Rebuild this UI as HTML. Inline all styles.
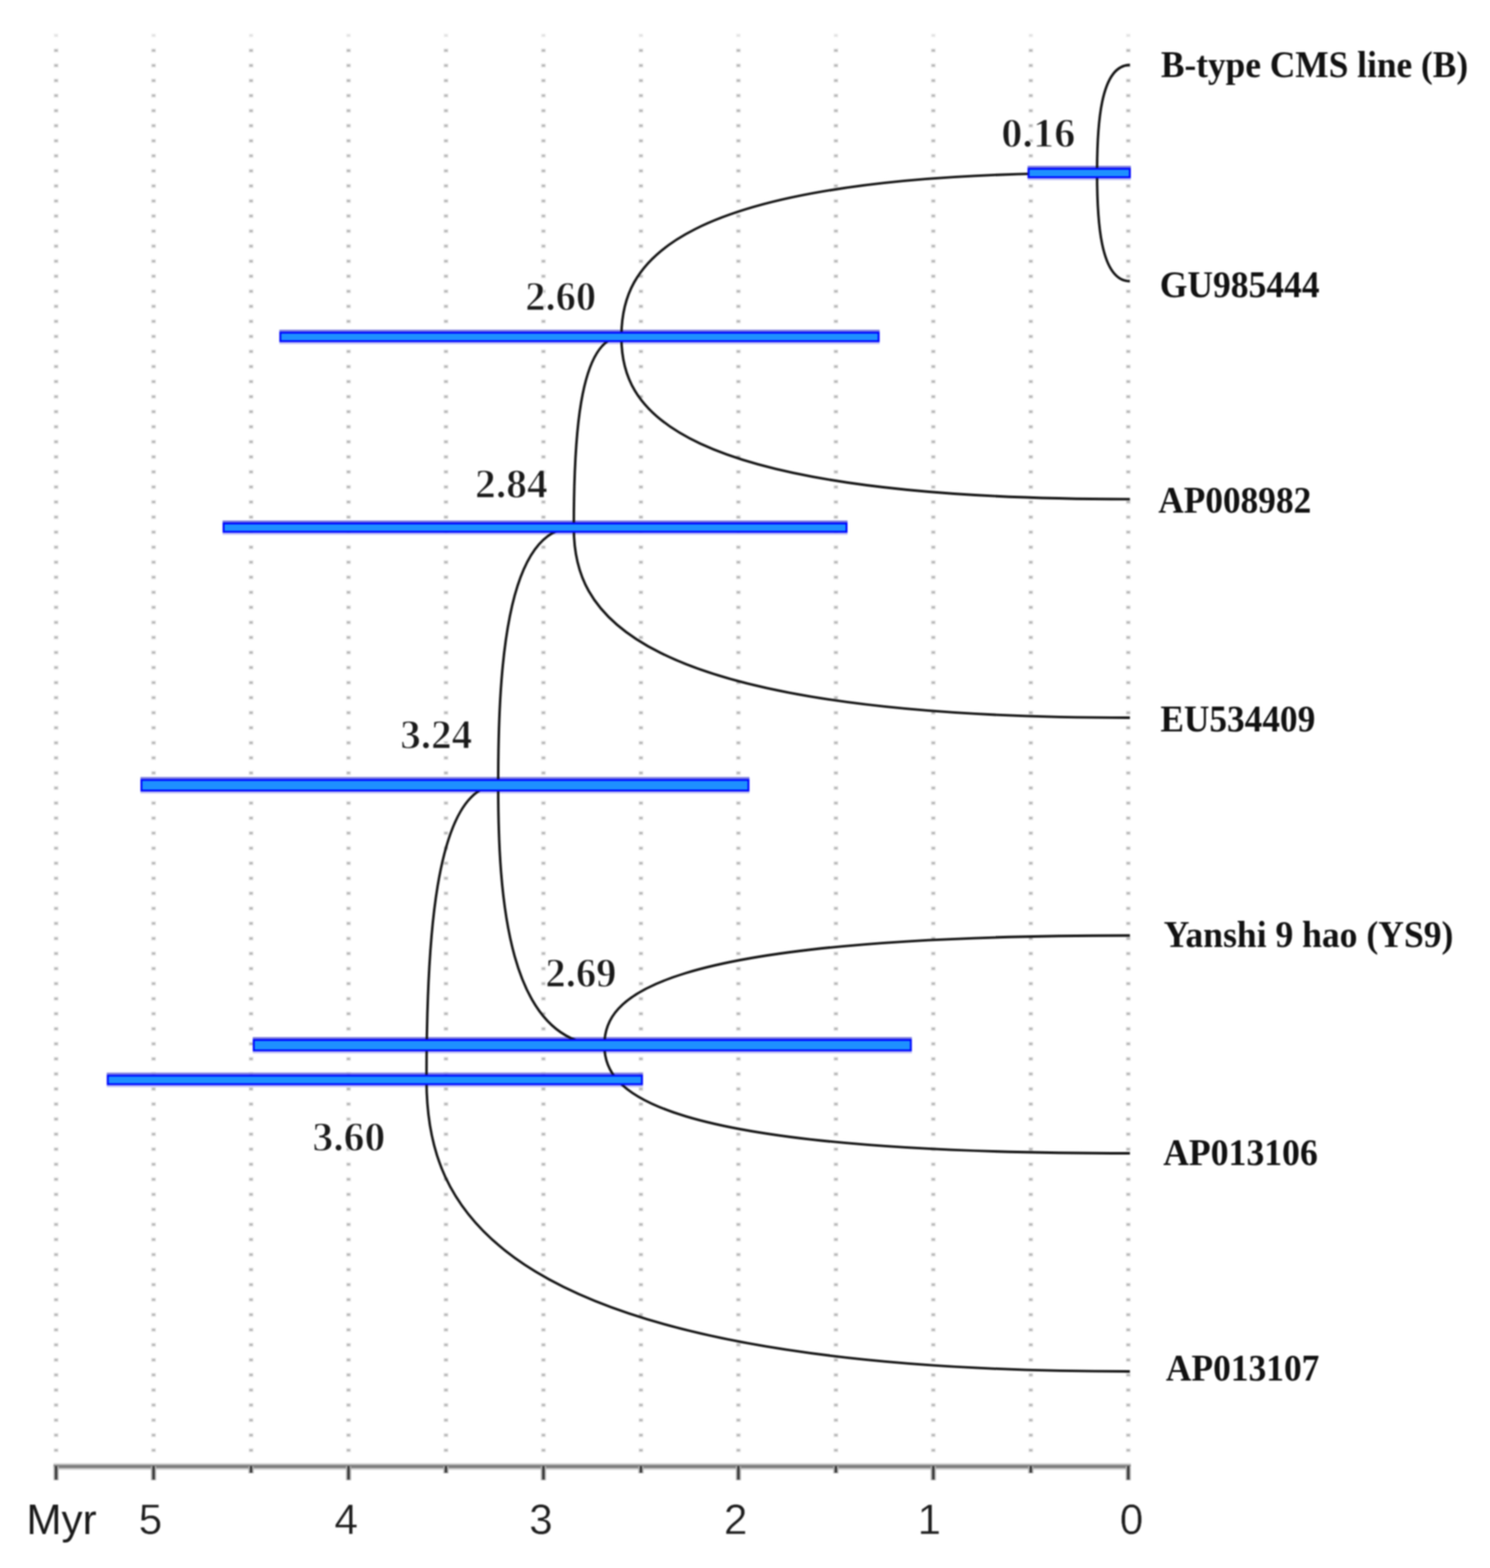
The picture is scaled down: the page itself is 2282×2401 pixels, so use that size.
<!DOCTYPE html>
<html><head><meta charset="utf-8"><title>Divergence time tree</title>
<style>
html,body{margin:0;padding:0;background:#fff;}
body{width:2282px;height:2401px;overflow:hidden;}
svg{display:block;}
#wrap{filter:blur(1px);}
.tip{font-family:"Liberation Serif",serif;font-weight:bold;font-size:58px;fill:#111;}
.age{font-family:"Liberation Serif",serif;font-weight:bold;font-size:64px;fill:#1a1a1a;stroke:#fff;stroke-width:1.4px;}
.ax{font-family:"Liberation Sans",sans-serif;font-size:64.5px;fill:#1e1e1e;stroke:#fff;stroke-width:0.5px;}
#x0{stroke:none;fill:#1a1a1a;}
</style></head><body>
<div id="wrap"><svg width="2282" height="2401" viewBox="0 0 2282 2401">
<rect width="2282" height="2401" fill="#fff"/>

<g>
<rect x="1724.2" y="50.9" width="7.6" height="6.8" fill="#eeeeee" opacity="0.35"/><rect x="1725.4" y="52.6" width="5.2" height="3.4" fill="#b6b6b6" opacity="0.35"/>
<rect x="1724.2" y="73.9" width="7.6" height="6.8" fill="#eeeeee"/><rect x="1725.4" y="75.6" width="5.2" height="3.4" fill="#b6b6b6"/>
<rect x="1724.2" y="96.9" width="7.6" height="6.8" fill="#eeeeee"/><rect x="1725.4" y="98.6" width="5.2" height="3.4" fill="#b6b6b6"/>
<rect x="1724.2" y="120.0" width="7.6" height="6.8" fill="#eeeeee"/><rect x="1725.4" y="121.7" width="5.2" height="3.4" fill="#b6b6b6"/>
<rect x="1724.2" y="143.0" width="7.6" height="6.8" fill="#eeeeee"/><rect x="1725.4" y="144.7" width="5.2" height="3.4" fill="#b6b6b6"/>
<rect x="1724.2" y="166.1" width="7.6" height="6.8" fill="#eeeeee"/><rect x="1725.4" y="167.8" width="5.2" height="3.4" fill="#b6b6b6"/>
<rect x="1724.2" y="189.1" width="7.6" height="6.8" fill="#eeeeee"/><rect x="1725.4" y="190.8" width="5.2" height="3.4" fill="#b6b6b6"/>
<rect x="1724.2" y="212.2" width="7.6" height="6.8" fill="#eeeeee"/><rect x="1725.4" y="213.9" width="5.2" height="3.4" fill="#b6b6b6"/>
<rect x="1724.2" y="235.2" width="7.6" height="6.8" fill="#eeeeee"/><rect x="1725.4" y="236.9" width="5.2" height="3.4" fill="#b6b6b6"/>
<rect x="1724.2" y="258.3" width="7.6" height="6.8" fill="#eeeeee"/><rect x="1725.4" y="260.0" width="5.2" height="3.4" fill="#b6b6b6"/>
<rect x="1724.2" y="281.3" width="7.6" height="6.8" fill="#eeeeee"/><rect x="1725.4" y="283.0" width="5.2" height="3.4" fill="#b6b6b6"/>
<rect x="1724.2" y="304.4" width="7.6" height="6.8" fill="#eeeeee"/><rect x="1725.4" y="306.1" width="5.2" height="3.4" fill="#b6b6b6"/>
<rect x="1724.2" y="327.4" width="7.6" height="6.8" fill="#eeeeee"/><rect x="1725.4" y="329.1" width="5.2" height="3.4" fill="#b6b6b6"/>
<rect x="1724.2" y="350.5" width="7.6" height="6.8" fill="#eeeeee"/><rect x="1725.4" y="352.2" width="5.2" height="3.4" fill="#b6b6b6"/>
<rect x="1724.2" y="373.5" width="7.6" height="6.8" fill="#eeeeee"/><rect x="1725.4" y="375.2" width="5.2" height="3.4" fill="#b6b6b6"/>
<rect x="1724.2" y="396.6" width="7.6" height="6.8" fill="#eeeeee"/><rect x="1725.4" y="398.3" width="5.2" height="3.4" fill="#b6b6b6"/>
<rect x="1724.2" y="419.6" width="7.6" height="6.8" fill="#eeeeee"/><rect x="1725.4" y="421.3" width="5.2" height="3.4" fill="#b6b6b6"/>
<rect x="1724.2" y="442.7" width="7.6" height="6.8" fill="#eeeeee"/><rect x="1725.4" y="444.4" width="5.2" height="3.4" fill="#b6b6b6"/>
<rect x="1724.2" y="465.7" width="7.6" height="6.8" fill="#eeeeee"/><rect x="1725.4" y="467.4" width="5.2" height="3.4" fill="#b6b6b6"/>
<rect x="1724.2" y="488.7" width="7.6" height="6.8" fill="#eeeeee"/><rect x="1725.4" y="490.4" width="5.2" height="3.4" fill="#b6b6b6"/>
<rect x="1724.2" y="511.8" width="7.6" height="6.8" fill="#eeeeee"/><rect x="1725.4" y="513.5" width="5.2" height="3.4" fill="#b6b6b6"/>
<rect x="1724.2" y="534.8" width="7.6" height="6.8" fill="#eeeeee"/><rect x="1725.4" y="536.5" width="5.2" height="3.4" fill="#b6b6b6"/>
<rect x="1724.2" y="557.9" width="7.6" height="6.8" fill="#eeeeee"/><rect x="1725.4" y="559.6" width="5.2" height="3.4" fill="#b6b6b6"/>
<rect x="1724.2" y="580.9" width="7.6" height="6.8" fill="#eeeeee"/><rect x="1725.4" y="582.6" width="5.2" height="3.4" fill="#b6b6b6"/>
<rect x="1724.2" y="604.0" width="7.6" height="6.8" fill="#eeeeee"/><rect x="1725.4" y="605.7" width="5.2" height="3.4" fill="#b6b6b6"/>
<rect x="1724.2" y="627.0" width="7.6" height="6.8" fill="#eeeeee"/><rect x="1725.4" y="628.7" width="5.2" height="3.4" fill="#b6b6b6"/>
<rect x="1724.2" y="650.1" width="7.6" height="6.8" fill="#eeeeee"/><rect x="1725.4" y="651.8" width="5.2" height="3.4" fill="#b6b6b6"/>
<rect x="1724.2" y="673.1" width="7.6" height="6.8" fill="#eeeeee"/><rect x="1725.4" y="674.8" width="5.2" height="3.4" fill="#b6b6b6"/>
<rect x="1724.2" y="696.2" width="7.6" height="6.8" fill="#eeeeee"/><rect x="1725.4" y="697.9" width="5.2" height="3.4" fill="#b6b6b6"/>
<rect x="1724.2" y="719.2" width="7.6" height="6.8" fill="#eeeeee"/><rect x="1725.4" y="720.9" width="5.2" height="3.4" fill="#b6b6b6"/>
<rect x="1724.2" y="742.3" width="7.6" height="6.8" fill="#eeeeee"/><rect x="1725.4" y="744.0" width="5.2" height="3.4" fill="#b6b6b6"/>
<rect x="1724.2" y="765.3" width="7.6" height="6.8" fill="#eeeeee"/><rect x="1725.4" y="767.0" width="5.2" height="3.4" fill="#b6b6b6"/>
<rect x="1724.2" y="788.4" width="7.6" height="6.8" fill="#eeeeee"/><rect x="1725.4" y="790.1" width="5.2" height="3.4" fill="#b6b6b6"/>
<rect x="1724.2" y="811.4" width="7.6" height="6.8" fill="#eeeeee"/><rect x="1725.4" y="813.1" width="5.2" height="3.4" fill="#b6b6b6"/>
<rect x="1724.2" y="834.5" width="7.6" height="6.8" fill="#eeeeee"/><rect x="1725.4" y="836.2" width="5.2" height="3.4" fill="#b6b6b6"/>
<rect x="1724.2" y="857.5" width="7.6" height="6.8" fill="#eeeeee"/><rect x="1725.4" y="859.2" width="5.2" height="3.4" fill="#b6b6b6"/>
<rect x="1724.2" y="880.5" width="7.6" height="6.8" fill="#eeeeee"/><rect x="1725.4" y="882.2" width="5.2" height="3.4" fill="#b6b6b6"/>
<rect x="1724.2" y="903.6" width="7.6" height="6.8" fill="#eeeeee"/><rect x="1725.4" y="905.3" width="5.2" height="3.4" fill="#b6b6b6"/>
<rect x="1724.2" y="926.6" width="7.6" height="6.8" fill="#eeeeee"/><rect x="1725.4" y="928.3" width="5.2" height="3.4" fill="#b6b6b6"/>
<rect x="1724.2" y="949.7" width="7.6" height="6.8" fill="#eeeeee"/><rect x="1725.4" y="951.4" width="5.2" height="3.4" fill="#b6b6b6"/>
<rect x="1724.2" y="972.7" width="7.6" height="6.8" fill="#eeeeee"/><rect x="1725.4" y="974.4" width="5.2" height="3.4" fill="#b6b6b6"/>
<rect x="1724.2" y="995.8" width="7.6" height="6.8" fill="#eeeeee"/><rect x="1725.4" y="997.5" width="5.2" height="3.4" fill="#b6b6b6"/>
<rect x="1724.2" y="1018.8" width="7.6" height="6.8" fill="#eeeeee"/><rect x="1725.4" y="1020.5" width="5.2" height="3.4" fill="#b6b6b6"/>
<rect x="1724.2" y="1041.9" width="7.6" height="6.8" fill="#eeeeee"/><rect x="1725.4" y="1043.6" width="5.2" height="3.4" fill="#b6b6b6"/>
<rect x="1724.2" y="1064.9" width="7.6" height="6.8" fill="#eeeeee"/><rect x="1725.4" y="1066.6" width="5.2" height="3.4" fill="#b6b6b6"/>
<rect x="1724.2" y="1088.0" width="7.6" height="6.8" fill="#eeeeee"/><rect x="1725.4" y="1089.7" width="5.2" height="3.4" fill="#b6b6b6"/>
<rect x="1724.2" y="1111.0" width="7.6" height="6.8" fill="#eeeeee"/><rect x="1725.4" y="1112.7" width="5.2" height="3.4" fill="#b6b6b6"/>
<rect x="1724.2" y="1134.1" width="7.6" height="6.8" fill="#eeeeee"/><rect x="1725.4" y="1135.8" width="5.2" height="3.4" fill="#b6b6b6"/>
<rect x="1724.2" y="1157.1" width="7.6" height="6.8" fill="#eeeeee"/><rect x="1725.4" y="1158.8" width="5.2" height="3.4" fill="#b6b6b6"/>
<rect x="1724.2" y="1180.2" width="7.6" height="6.8" fill="#eeeeee"/><rect x="1725.4" y="1181.9" width="5.2" height="3.4" fill="#b6b6b6"/>
<rect x="1724.2" y="1203.2" width="7.6" height="6.8" fill="#eeeeee"/><rect x="1725.4" y="1204.9" width="5.2" height="3.4" fill="#b6b6b6"/>
<rect x="1724.2" y="1226.2" width="7.6" height="6.8" fill="#eeeeee"/><rect x="1725.4" y="1228.0" width="5.2" height="3.4" fill="#b6b6b6"/>
<rect x="1724.2" y="1249.3" width="7.6" height="6.8" fill="#eeeeee"/><rect x="1725.4" y="1251.0" width="5.2" height="3.4" fill="#b6b6b6"/>
<rect x="1724.2" y="1272.3" width="7.6" height="6.8" fill="#eeeeee"/><rect x="1725.4" y="1274.0" width="5.2" height="3.4" fill="#b6b6b6"/>
<rect x="1724.2" y="1295.4" width="7.6" height="6.8" fill="#eeeeee"/><rect x="1725.4" y="1297.1" width="5.2" height="3.4" fill="#b6b6b6"/>
<rect x="1724.2" y="1318.4" width="7.6" height="6.8" fill="#eeeeee"/><rect x="1725.4" y="1320.1" width="5.2" height="3.4" fill="#b6b6b6"/>
<rect x="1724.2" y="1341.5" width="7.6" height="6.8" fill="#eeeeee"/><rect x="1725.4" y="1343.2" width="5.2" height="3.4" fill="#b6b6b6"/>
<rect x="1724.2" y="1364.5" width="7.6" height="6.8" fill="#eeeeee"/><rect x="1725.4" y="1366.2" width="5.2" height="3.4" fill="#b6b6b6"/>
<rect x="1724.2" y="1387.6" width="7.6" height="6.8" fill="#eeeeee"/><rect x="1725.4" y="1389.3" width="5.2" height="3.4" fill="#b6b6b6"/>
<rect x="1724.2" y="1410.6" width="7.6" height="6.8" fill="#eeeeee"/><rect x="1725.4" y="1412.3" width="5.2" height="3.4" fill="#b6b6b6"/>
<rect x="1724.2" y="1433.7" width="7.6" height="6.8" fill="#eeeeee"/><rect x="1725.4" y="1435.4" width="5.2" height="3.4" fill="#b6b6b6"/>
<rect x="1724.2" y="1456.7" width="7.6" height="6.8" fill="#eeeeee"/><rect x="1725.4" y="1458.4" width="5.2" height="3.4" fill="#b6b6b6"/>
<rect x="1724.2" y="1479.8" width="7.6" height="6.8" fill="#eeeeee"/><rect x="1725.4" y="1481.5" width="5.2" height="3.4" fill="#b6b6b6"/>
<rect x="1724.2" y="1502.8" width="7.6" height="6.8" fill="#eeeeee"/><rect x="1725.4" y="1504.5" width="5.2" height="3.4" fill="#b6b6b6"/>
<rect x="1724.2" y="1525.9" width="7.6" height="6.8" fill="#eeeeee"/><rect x="1725.4" y="1527.6" width="5.2" height="3.4" fill="#b6b6b6"/>
<rect x="1724.2" y="1548.9" width="7.6" height="6.8" fill="#eeeeee"/><rect x="1725.4" y="1550.6" width="5.2" height="3.4" fill="#b6b6b6"/>
<rect x="1724.2" y="1572.0" width="7.6" height="6.8" fill="#eeeeee"/><rect x="1725.4" y="1573.7" width="5.2" height="3.4" fill="#b6b6b6"/>
<rect x="1724.2" y="1595.0" width="7.6" height="6.8" fill="#eeeeee"/><rect x="1725.4" y="1596.7" width="5.2" height="3.4" fill="#b6b6b6"/>
<rect x="1724.2" y="1618.0" width="7.6" height="6.8" fill="#eeeeee"/><rect x="1725.4" y="1619.7" width="5.2" height="3.4" fill="#b6b6b6"/>
<rect x="1724.2" y="1641.1" width="7.6" height="6.8" fill="#eeeeee"/><rect x="1725.4" y="1642.8" width="5.2" height="3.4" fill="#b6b6b6"/>
<rect x="1724.2" y="1664.1" width="7.6" height="6.8" fill="#eeeeee"/><rect x="1725.4" y="1665.8" width="5.2" height="3.4" fill="#b6b6b6"/>
<rect x="1724.2" y="1687.2" width="7.6" height="6.8" fill="#eeeeee"/><rect x="1725.4" y="1688.9" width="5.2" height="3.4" fill="#b6b6b6"/>
<rect x="1724.2" y="1710.2" width="7.6" height="6.8" fill="#eeeeee"/><rect x="1725.4" y="1711.9" width="5.2" height="3.4" fill="#b6b6b6"/>
<rect x="1724.2" y="1733.3" width="7.6" height="6.8" fill="#eeeeee"/><rect x="1725.4" y="1735.0" width="5.2" height="3.4" fill="#b6b6b6"/>
<rect x="1724.2" y="1756.3" width="7.6" height="6.8" fill="#eeeeee"/><rect x="1725.4" y="1758.0" width="5.2" height="3.4" fill="#b6b6b6"/>
<rect x="1724.2" y="1779.4" width="7.6" height="6.8" fill="#eeeeee"/><rect x="1725.4" y="1781.1" width="5.2" height="3.4" fill="#b6b6b6"/>
<rect x="1724.2" y="1802.4" width="7.6" height="6.8" fill="#eeeeee"/><rect x="1725.4" y="1804.1" width="5.2" height="3.4" fill="#b6b6b6"/>
<rect x="1724.2" y="1825.5" width="7.6" height="6.8" fill="#eeeeee"/><rect x="1725.4" y="1827.2" width="5.2" height="3.4" fill="#b6b6b6"/>
<rect x="1724.2" y="1848.5" width="7.6" height="6.8" fill="#eeeeee"/><rect x="1725.4" y="1850.2" width="5.2" height="3.4" fill="#b6b6b6"/>
<rect x="1724.2" y="1871.6" width="7.6" height="6.8" fill="#eeeeee"/><rect x="1725.4" y="1873.3" width="5.2" height="3.4" fill="#b6b6b6"/>
<rect x="1724.2" y="1894.6" width="7.6" height="6.8" fill="#eeeeee"/><rect x="1725.4" y="1896.3" width="5.2" height="3.4" fill="#b6b6b6"/>
<rect x="1724.2" y="1917.7" width="7.6" height="6.8" fill="#eeeeee"/><rect x="1725.4" y="1919.4" width="5.2" height="3.4" fill="#b6b6b6"/>
<rect x="1724.2" y="1940.7" width="7.6" height="6.8" fill="#eeeeee"/><rect x="1725.4" y="1942.4" width="5.2" height="3.4" fill="#b6b6b6"/>
<rect x="1724.2" y="1963.8" width="7.6" height="6.8" fill="#eeeeee"/><rect x="1725.4" y="1965.5" width="5.2" height="3.4" fill="#b6b6b6"/>
<rect x="1724.2" y="1986.8" width="7.6" height="6.8" fill="#eeeeee"/><rect x="1725.4" y="1988.5" width="5.2" height="3.4" fill="#b6b6b6"/>
<rect x="1724.2" y="2009.8" width="7.6" height="6.8" fill="#eeeeee"/><rect x="1725.4" y="2011.5" width="5.2" height="3.4" fill="#b6b6b6"/>
<rect x="1724.2" y="2032.9" width="7.6" height="6.8" fill="#eeeeee"/><rect x="1725.4" y="2034.6" width="5.2" height="3.4" fill="#b6b6b6"/>
<rect x="1724.2" y="2055.9" width="7.6" height="6.8" fill="#eeeeee"/><rect x="1725.4" y="2057.6" width="5.2" height="3.4" fill="#b6b6b6"/>
<rect x="1724.2" y="2079.0" width="7.6" height="6.8" fill="#eeeeee"/><rect x="1725.4" y="2080.7" width="5.2" height="3.4" fill="#b6b6b6"/>
<rect x="1724.2" y="2102.0" width="7.6" height="6.8" fill="#eeeeee"/><rect x="1725.4" y="2103.7" width="5.2" height="3.4" fill="#b6b6b6"/>
<rect x="1724.2" y="2125.1" width="7.6" height="6.8" fill="#eeeeee"/><rect x="1725.4" y="2126.8" width="5.2" height="3.4" fill="#b6b6b6"/>
<rect x="1724.2" y="2148.1" width="7.6" height="6.8" fill="#eeeeee"/><rect x="1725.4" y="2149.8" width="5.2" height="3.4" fill="#b6b6b6"/>
<rect x="1724.2" y="2171.2" width="7.6" height="6.8" fill="#eeeeee"/><rect x="1725.4" y="2172.9" width="5.2" height="3.4" fill="#b6b6b6"/>
<rect x="1724.2" y="2194.2" width="7.6" height="6.8" fill="#eeeeee"/><rect x="1725.4" y="2195.9" width="5.2" height="3.4" fill="#b6b6b6"/>
<rect x="1724.2" y="2217.3" width="7.6" height="6.8" fill="#eeeeee"/><rect x="1725.4" y="2219.0" width="5.2" height="3.4" fill="#b6b6b6"/>
<rect x="1574.9" y="50.9" width="7.6" height="6.8" fill="#eeeeee" opacity="0.35"/><rect x="1576.1" y="52.6" width="5.2" height="3.4" fill="#b6b6b6" opacity="0.35"/>
<rect x="1574.9" y="73.9" width="7.6" height="6.8" fill="#eeeeee"/><rect x="1576.1" y="75.6" width="5.2" height="3.4" fill="#b6b6b6"/>
<rect x="1574.9" y="96.9" width="7.6" height="6.8" fill="#eeeeee"/><rect x="1576.1" y="98.6" width="5.2" height="3.4" fill="#b6b6b6"/>
<rect x="1574.9" y="120.0" width="7.6" height="6.8" fill="#eeeeee"/><rect x="1576.1" y="121.7" width="5.2" height="3.4" fill="#b6b6b6"/>
<rect x="1574.9" y="143.0" width="7.6" height="6.8" fill="#eeeeee"/><rect x="1576.1" y="144.7" width="5.2" height="3.4" fill="#b6b6b6"/>
<rect x="1574.9" y="166.1" width="7.6" height="6.8" fill="#eeeeee"/><rect x="1576.1" y="167.8" width="5.2" height="3.4" fill="#b6b6b6"/>
<rect x="1574.9" y="189.1" width="7.6" height="6.8" fill="#eeeeee"/><rect x="1576.1" y="190.8" width="5.2" height="3.4" fill="#b6b6b6"/>
<rect x="1574.9" y="212.2" width="7.6" height="6.8" fill="#eeeeee"/><rect x="1576.1" y="213.9" width="5.2" height="3.4" fill="#b6b6b6"/>
<rect x="1574.9" y="235.2" width="7.6" height="6.8" fill="#eeeeee"/><rect x="1576.1" y="236.9" width="5.2" height="3.4" fill="#b6b6b6"/>
<rect x="1574.9" y="258.3" width="7.6" height="6.8" fill="#eeeeee"/><rect x="1576.1" y="260.0" width="5.2" height="3.4" fill="#b6b6b6"/>
<rect x="1574.9" y="281.3" width="7.6" height="6.8" fill="#eeeeee"/><rect x="1576.1" y="283.0" width="5.2" height="3.4" fill="#b6b6b6"/>
<rect x="1574.9" y="304.4" width="7.6" height="6.8" fill="#eeeeee"/><rect x="1576.1" y="306.1" width="5.2" height="3.4" fill="#b6b6b6"/>
<rect x="1574.9" y="327.4" width="7.6" height="6.8" fill="#eeeeee"/><rect x="1576.1" y="329.1" width="5.2" height="3.4" fill="#b6b6b6"/>
<rect x="1574.9" y="350.5" width="7.6" height="6.8" fill="#eeeeee"/><rect x="1576.1" y="352.2" width="5.2" height="3.4" fill="#b6b6b6"/>
<rect x="1574.9" y="373.5" width="7.6" height="6.8" fill="#eeeeee"/><rect x="1576.1" y="375.2" width="5.2" height="3.4" fill="#b6b6b6"/>
<rect x="1574.9" y="396.6" width="7.6" height="6.8" fill="#eeeeee"/><rect x="1576.1" y="398.3" width="5.2" height="3.4" fill="#b6b6b6"/>
<rect x="1574.9" y="419.6" width="7.6" height="6.8" fill="#eeeeee"/><rect x="1576.1" y="421.3" width="5.2" height="3.4" fill="#b6b6b6"/>
<rect x="1574.9" y="442.7" width="7.6" height="6.8" fill="#eeeeee"/><rect x="1576.1" y="444.4" width="5.2" height="3.4" fill="#b6b6b6"/>
<rect x="1574.9" y="465.7" width="7.6" height="6.8" fill="#eeeeee"/><rect x="1576.1" y="467.4" width="5.2" height="3.4" fill="#b6b6b6"/>
<rect x="1574.9" y="488.7" width="7.6" height="6.8" fill="#eeeeee"/><rect x="1576.1" y="490.4" width="5.2" height="3.4" fill="#b6b6b6"/>
<rect x="1574.9" y="511.8" width="7.6" height="6.8" fill="#eeeeee"/><rect x="1576.1" y="513.5" width="5.2" height="3.4" fill="#b6b6b6"/>
<rect x="1574.9" y="534.8" width="7.6" height="6.8" fill="#eeeeee"/><rect x="1576.1" y="536.5" width="5.2" height="3.4" fill="#b6b6b6"/>
<rect x="1574.9" y="557.9" width="7.6" height="6.8" fill="#eeeeee"/><rect x="1576.1" y="559.6" width="5.2" height="3.4" fill="#b6b6b6"/>
<rect x="1574.9" y="580.9" width="7.6" height="6.8" fill="#eeeeee"/><rect x="1576.1" y="582.6" width="5.2" height="3.4" fill="#b6b6b6"/>
<rect x="1574.9" y="604.0" width="7.6" height="6.8" fill="#eeeeee"/><rect x="1576.1" y="605.7" width="5.2" height="3.4" fill="#b6b6b6"/>
<rect x="1574.9" y="627.0" width="7.6" height="6.8" fill="#eeeeee"/><rect x="1576.1" y="628.7" width="5.2" height="3.4" fill="#b6b6b6"/>
<rect x="1574.9" y="650.1" width="7.6" height="6.8" fill="#eeeeee"/><rect x="1576.1" y="651.8" width="5.2" height="3.4" fill="#b6b6b6"/>
<rect x="1574.9" y="673.1" width="7.6" height="6.8" fill="#eeeeee"/><rect x="1576.1" y="674.8" width="5.2" height="3.4" fill="#b6b6b6"/>
<rect x="1574.9" y="696.2" width="7.6" height="6.8" fill="#eeeeee"/><rect x="1576.1" y="697.9" width="5.2" height="3.4" fill="#b6b6b6"/>
<rect x="1574.9" y="719.2" width="7.6" height="6.8" fill="#eeeeee"/><rect x="1576.1" y="720.9" width="5.2" height="3.4" fill="#b6b6b6"/>
<rect x="1574.9" y="742.3" width="7.6" height="6.8" fill="#eeeeee"/><rect x="1576.1" y="744.0" width="5.2" height="3.4" fill="#b6b6b6"/>
<rect x="1574.9" y="765.3" width="7.6" height="6.8" fill="#eeeeee"/><rect x="1576.1" y="767.0" width="5.2" height="3.4" fill="#b6b6b6"/>
<rect x="1574.9" y="788.4" width="7.6" height="6.8" fill="#eeeeee"/><rect x="1576.1" y="790.1" width="5.2" height="3.4" fill="#b6b6b6"/>
<rect x="1574.9" y="811.4" width="7.6" height="6.8" fill="#eeeeee"/><rect x="1576.1" y="813.1" width="5.2" height="3.4" fill="#b6b6b6"/>
<rect x="1574.9" y="834.5" width="7.6" height="6.8" fill="#eeeeee"/><rect x="1576.1" y="836.2" width="5.2" height="3.4" fill="#b6b6b6"/>
<rect x="1574.9" y="857.5" width="7.6" height="6.8" fill="#eeeeee"/><rect x="1576.1" y="859.2" width="5.2" height="3.4" fill="#b6b6b6"/>
<rect x="1574.9" y="880.5" width="7.6" height="6.8" fill="#eeeeee"/><rect x="1576.1" y="882.2" width="5.2" height="3.4" fill="#b6b6b6"/>
<rect x="1574.9" y="903.6" width="7.6" height="6.8" fill="#eeeeee"/><rect x="1576.1" y="905.3" width="5.2" height="3.4" fill="#b6b6b6"/>
<rect x="1574.9" y="926.6" width="7.6" height="6.8" fill="#eeeeee"/><rect x="1576.1" y="928.3" width="5.2" height="3.4" fill="#b6b6b6"/>
<rect x="1574.9" y="949.7" width="7.6" height="6.8" fill="#eeeeee"/><rect x="1576.1" y="951.4" width="5.2" height="3.4" fill="#b6b6b6"/>
<rect x="1574.9" y="972.7" width="7.6" height="6.8" fill="#eeeeee"/><rect x="1576.1" y="974.4" width="5.2" height="3.4" fill="#b6b6b6"/>
<rect x="1574.9" y="995.8" width="7.6" height="6.8" fill="#eeeeee"/><rect x="1576.1" y="997.5" width="5.2" height="3.4" fill="#b6b6b6"/>
<rect x="1574.9" y="1018.8" width="7.6" height="6.8" fill="#eeeeee"/><rect x="1576.1" y="1020.5" width="5.2" height="3.4" fill="#b6b6b6"/>
<rect x="1574.9" y="1041.9" width="7.6" height="6.8" fill="#eeeeee"/><rect x="1576.1" y="1043.6" width="5.2" height="3.4" fill="#b6b6b6"/>
<rect x="1574.9" y="1064.9" width="7.6" height="6.8" fill="#eeeeee"/><rect x="1576.1" y="1066.6" width="5.2" height="3.4" fill="#b6b6b6"/>
<rect x="1574.9" y="1088.0" width="7.6" height="6.8" fill="#eeeeee"/><rect x="1576.1" y="1089.7" width="5.2" height="3.4" fill="#b6b6b6"/>
<rect x="1574.9" y="1111.0" width="7.6" height="6.8" fill="#eeeeee"/><rect x="1576.1" y="1112.7" width="5.2" height="3.4" fill="#b6b6b6"/>
<rect x="1574.9" y="1134.1" width="7.6" height="6.8" fill="#eeeeee"/><rect x="1576.1" y="1135.8" width="5.2" height="3.4" fill="#b6b6b6"/>
<rect x="1574.9" y="1157.1" width="7.6" height="6.8" fill="#eeeeee"/><rect x="1576.1" y="1158.8" width="5.2" height="3.4" fill="#b6b6b6"/>
<rect x="1574.9" y="1180.2" width="7.6" height="6.8" fill="#eeeeee"/><rect x="1576.1" y="1181.9" width="5.2" height="3.4" fill="#b6b6b6"/>
<rect x="1574.9" y="1203.2" width="7.6" height="6.8" fill="#eeeeee"/><rect x="1576.1" y="1204.9" width="5.2" height="3.4" fill="#b6b6b6"/>
<rect x="1574.9" y="1226.2" width="7.6" height="6.8" fill="#eeeeee"/><rect x="1576.1" y="1228.0" width="5.2" height="3.4" fill="#b6b6b6"/>
<rect x="1574.9" y="1249.3" width="7.6" height="6.8" fill="#eeeeee"/><rect x="1576.1" y="1251.0" width="5.2" height="3.4" fill="#b6b6b6"/>
<rect x="1574.9" y="1272.3" width="7.6" height="6.8" fill="#eeeeee"/><rect x="1576.1" y="1274.0" width="5.2" height="3.4" fill="#b6b6b6"/>
<rect x="1574.9" y="1295.4" width="7.6" height="6.8" fill="#eeeeee"/><rect x="1576.1" y="1297.1" width="5.2" height="3.4" fill="#b6b6b6"/>
<rect x="1574.9" y="1318.4" width="7.6" height="6.8" fill="#eeeeee"/><rect x="1576.1" y="1320.1" width="5.2" height="3.4" fill="#b6b6b6"/>
<rect x="1574.9" y="1341.5" width="7.6" height="6.8" fill="#eeeeee"/><rect x="1576.1" y="1343.2" width="5.2" height="3.4" fill="#b6b6b6"/>
<rect x="1574.9" y="1364.5" width="7.6" height="6.8" fill="#eeeeee"/><rect x="1576.1" y="1366.2" width="5.2" height="3.4" fill="#b6b6b6"/>
<rect x="1574.9" y="1387.6" width="7.6" height="6.8" fill="#eeeeee"/><rect x="1576.1" y="1389.3" width="5.2" height="3.4" fill="#b6b6b6"/>
<rect x="1574.9" y="1410.6" width="7.6" height="6.8" fill="#eeeeee"/><rect x="1576.1" y="1412.3" width="5.2" height="3.4" fill="#b6b6b6"/>
<rect x="1574.9" y="1433.7" width="7.6" height="6.8" fill="#eeeeee"/><rect x="1576.1" y="1435.4" width="5.2" height="3.4" fill="#b6b6b6"/>
<rect x="1574.9" y="1456.7" width="7.6" height="6.8" fill="#eeeeee"/><rect x="1576.1" y="1458.4" width="5.2" height="3.4" fill="#b6b6b6"/>
<rect x="1574.9" y="1479.8" width="7.6" height="6.8" fill="#eeeeee"/><rect x="1576.1" y="1481.5" width="5.2" height="3.4" fill="#b6b6b6"/>
<rect x="1574.9" y="1502.8" width="7.6" height="6.8" fill="#eeeeee"/><rect x="1576.1" y="1504.5" width="5.2" height="3.4" fill="#b6b6b6"/>
<rect x="1574.9" y="1525.9" width="7.6" height="6.8" fill="#eeeeee"/><rect x="1576.1" y="1527.6" width="5.2" height="3.4" fill="#b6b6b6"/>
<rect x="1574.9" y="1548.9" width="7.6" height="6.8" fill="#eeeeee"/><rect x="1576.1" y="1550.6" width="5.2" height="3.4" fill="#b6b6b6"/>
<rect x="1574.9" y="1572.0" width="7.6" height="6.8" fill="#eeeeee"/><rect x="1576.1" y="1573.7" width="5.2" height="3.4" fill="#b6b6b6"/>
<rect x="1574.9" y="1595.0" width="7.6" height="6.8" fill="#eeeeee"/><rect x="1576.1" y="1596.7" width="5.2" height="3.4" fill="#b6b6b6"/>
<rect x="1574.9" y="1618.0" width="7.6" height="6.8" fill="#eeeeee"/><rect x="1576.1" y="1619.7" width="5.2" height="3.4" fill="#b6b6b6"/>
<rect x="1574.9" y="1641.1" width="7.6" height="6.8" fill="#eeeeee"/><rect x="1576.1" y="1642.8" width="5.2" height="3.4" fill="#b6b6b6"/>
<rect x="1574.9" y="1664.1" width="7.6" height="6.8" fill="#eeeeee"/><rect x="1576.1" y="1665.8" width="5.2" height="3.4" fill="#b6b6b6"/>
<rect x="1574.9" y="1687.2" width="7.6" height="6.8" fill="#eeeeee"/><rect x="1576.1" y="1688.9" width="5.2" height="3.4" fill="#b6b6b6"/>
<rect x="1574.9" y="1710.2" width="7.6" height="6.8" fill="#eeeeee"/><rect x="1576.1" y="1711.9" width="5.2" height="3.4" fill="#b6b6b6"/>
<rect x="1574.9" y="1733.3" width="7.6" height="6.8" fill="#eeeeee"/><rect x="1576.1" y="1735.0" width="5.2" height="3.4" fill="#b6b6b6"/>
<rect x="1574.9" y="1756.3" width="7.6" height="6.8" fill="#eeeeee"/><rect x="1576.1" y="1758.0" width="5.2" height="3.4" fill="#b6b6b6"/>
<rect x="1574.9" y="1779.4" width="7.6" height="6.8" fill="#eeeeee"/><rect x="1576.1" y="1781.1" width="5.2" height="3.4" fill="#b6b6b6"/>
<rect x="1574.9" y="1802.4" width="7.6" height="6.8" fill="#eeeeee"/><rect x="1576.1" y="1804.1" width="5.2" height="3.4" fill="#b6b6b6"/>
<rect x="1574.9" y="1825.5" width="7.6" height="6.8" fill="#eeeeee"/><rect x="1576.1" y="1827.2" width="5.2" height="3.4" fill="#b6b6b6"/>
<rect x="1574.9" y="1848.5" width="7.6" height="6.8" fill="#eeeeee"/><rect x="1576.1" y="1850.2" width="5.2" height="3.4" fill="#b6b6b6"/>
<rect x="1574.9" y="1871.6" width="7.6" height="6.8" fill="#eeeeee"/><rect x="1576.1" y="1873.3" width="5.2" height="3.4" fill="#b6b6b6"/>
<rect x="1574.9" y="1894.6" width="7.6" height="6.8" fill="#eeeeee"/><rect x="1576.1" y="1896.3" width="5.2" height="3.4" fill="#b6b6b6"/>
<rect x="1574.9" y="1917.7" width="7.6" height="6.8" fill="#eeeeee"/><rect x="1576.1" y="1919.4" width="5.2" height="3.4" fill="#b6b6b6"/>
<rect x="1574.9" y="1940.7" width="7.6" height="6.8" fill="#eeeeee"/><rect x="1576.1" y="1942.4" width="5.2" height="3.4" fill="#b6b6b6"/>
<rect x="1574.9" y="1963.8" width="7.6" height="6.8" fill="#eeeeee"/><rect x="1576.1" y="1965.5" width="5.2" height="3.4" fill="#b6b6b6"/>
<rect x="1574.9" y="1986.8" width="7.6" height="6.8" fill="#eeeeee"/><rect x="1576.1" y="1988.5" width="5.2" height="3.4" fill="#b6b6b6"/>
<rect x="1574.9" y="2009.8" width="7.6" height="6.8" fill="#eeeeee"/><rect x="1576.1" y="2011.5" width="5.2" height="3.4" fill="#b6b6b6"/>
<rect x="1574.9" y="2032.9" width="7.6" height="6.8" fill="#eeeeee"/><rect x="1576.1" y="2034.6" width="5.2" height="3.4" fill="#b6b6b6"/>
<rect x="1574.9" y="2055.9" width="7.6" height="6.8" fill="#eeeeee"/><rect x="1576.1" y="2057.6" width="5.2" height="3.4" fill="#b6b6b6"/>
<rect x="1574.9" y="2079.0" width="7.6" height="6.8" fill="#eeeeee"/><rect x="1576.1" y="2080.7" width="5.2" height="3.4" fill="#b6b6b6"/>
<rect x="1574.9" y="2102.0" width="7.6" height="6.8" fill="#eeeeee"/><rect x="1576.1" y="2103.7" width="5.2" height="3.4" fill="#b6b6b6"/>
<rect x="1574.9" y="2125.1" width="7.6" height="6.8" fill="#eeeeee"/><rect x="1576.1" y="2126.8" width="5.2" height="3.4" fill="#b6b6b6"/>
<rect x="1574.9" y="2148.1" width="7.6" height="6.8" fill="#eeeeee"/><rect x="1576.1" y="2149.8" width="5.2" height="3.4" fill="#b6b6b6"/>
<rect x="1574.9" y="2171.2" width="7.6" height="6.8" fill="#eeeeee"/><rect x="1576.1" y="2172.9" width="5.2" height="3.4" fill="#b6b6b6"/>
<rect x="1574.9" y="2194.2" width="7.6" height="6.8" fill="#eeeeee"/><rect x="1576.1" y="2195.9" width="5.2" height="3.4" fill="#b6b6b6"/>
<rect x="1574.9" y="2217.3" width="7.6" height="6.8" fill="#eeeeee"/><rect x="1576.1" y="2219.0" width="5.2" height="3.4" fill="#b6b6b6"/>
<rect x="1425.6" y="50.9" width="7.6" height="6.8" fill="#eeeeee" opacity="0.35"/><rect x="1426.8" y="52.6" width="5.2" height="3.4" fill="#b6b6b6" opacity="0.35"/>
<rect x="1425.6" y="73.9" width="7.6" height="6.8" fill="#eeeeee"/><rect x="1426.8" y="75.6" width="5.2" height="3.4" fill="#b6b6b6"/>
<rect x="1425.6" y="96.9" width="7.6" height="6.8" fill="#eeeeee"/><rect x="1426.8" y="98.6" width="5.2" height="3.4" fill="#b6b6b6"/>
<rect x="1425.6" y="120.0" width="7.6" height="6.8" fill="#eeeeee"/><rect x="1426.8" y="121.7" width="5.2" height="3.4" fill="#b6b6b6"/>
<rect x="1425.6" y="143.0" width="7.6" height="6.8" fill="#eeeeee"/><rect x="1426.8" y="144.7" width="5.2" height="3.4" fill="#b6b6b6"/>
<rect x="1425.6" y="166.1" width="7.6" height="6.8" fill="#eeeeee"/><rect x="1426.8" y="167.8" width="5.2" height="3.4" fill="#b6b6b6"/>
<rect x="1425.6" y="189.1" width="7.6" height="6.8" fill="#eeeeee"/><rect x="1426.8" y="190.8" width="5.2" height="3.4" fill="#b6b6b6"/>
<rect x="1425.6" y="212.2" width="7.6" height="6.8" fill="#eeeeee"/><rect x="1426.8" y="213.9" width="5.2" height="3.4" fill="#b6b6b6"/>
<rect x="1425.6" y="235.2" width="7.6" height="6.8" fill="#eeeeee"/><rect x="1426.8" y="236.9" width="5.2" height="3.4" fill="#b6b6b6"/>
<rect x="1425.6" y="258.3" width="7.6" height="6.8" fill="#eeeeee"/><rect x="1426.8" y="260.0" width="5.2" height="3.4" fill="#b6b6b6"/>
<rect x="1425.6" y="281.3" width="7.6" height="6.8" fill="#eeeeee"/><rect x="1426.8" y="283.0" width="5.2" height="3.4" fill="#b6b6b6"/>
<rect x="1425.6" y="304.4" width="7.6" height="6.8" fill="#eeeeee"/><rect x="1426.8" y="306.1" width="5.2" height="3.4" fill="#b6b6b6"/>
<rect x="1425.6" y="327.4" width="7.6" height="6.8" fill="#eeeeee"/><rect x="1426.8" y="329.1" width="5.2" height="3.4" fill="#b6b6b6"/>
<rect x="1425.6" y="350.5" width="7.6" height="6.8" fill="#eeeeee"/><rect x="1426.8" y="352.2" width="5.2" height="3.4" fill="#b6b6b6"/>
<rect x="1425.6" y="373.5" width="7.6" height="6.8" fill="#eeeeee"/><rect x="1426.8" y="375.2" width="5.2" height="3.4" fill="#b6b6b6"/>
<rect x="1425.6" y="396.6" width="7.6" height="6.8" fill="#eeeeee"/><rect x="1426.8" y="398.3" width="5.2" height="3.4" fill="#b6b6b6"/>
<rect x="1425.6" y="419.6" width="7.6" height="6.8" fill="#eeeeee"/><rect x="1426.8" y="421.3" width="5.2" height="3.4" fill="#b6b6b6"/>
<rect x="1425.6" y="442.7" width="7.6" height="6.8" fill="#eeeeee"/><rect x="1426.8" y="444.4" width="5.2" height="3.4" fill="#b6b6b6"/>
<rect x="1425.6" y="465.7" width="7.6" height="6.8" fill="#eeeeee"/><rect x="1426.8" y="467.4" width="5.2" height="3.4" fill="#b6b6b6"/>
<rect x="1425.6" y="488.7" width="7.6" height="6.8" fill="#eeeeee"/><rect x="1426.8" y="490.4" width="5.2" height="3.4" fill="#b6b6b6"/>
<rect x="1425.6" y="511.8" width="7.6" height="6.8" fill="#eeeeee"/><rect x="1426.8" y="513.5" width="5.2" height="3.4" fill="#b6b6b6"/>
<rect x="1425.6" y="534.8" width="7.6" height="6.8" fill="#eeeeee"/><rect x="1426.8" y="536.5" width="5.2" height="3.4" fill="#b6b6b6"/>
<rect x="1425.6" y="557.9" width="7.6" height="6.8" fill="#eeeeee"/><rect x="1426.8" y="559.6" width="5.2" height="3.4" fill="#b6b6b6"/>
<rect x="1425.6" y="580.9" width="7.6" height="6.8" fill="#eeeeee"/><rect x="1426.8" y="582.6" width="5.2" height="3.4" fill="#b6b6b6"/>
<rect x="1425.6" y="604.0" width="7.6" height="6.8" fill="#eeeeee"/><rect x="1426.8" y="605.7" width="5.2" height="3.4" fill="#b6b6b6"/>
<rect x="1425.6" y="627.0" width="7.6" height="6.8" fill="#eeeeee"/><rect x="1426.8" y="628.7" width="5.2" height="3.4" fill="#b6b6b6"/>
<rect x="1425.6" y="650.1" width="7.6" height="6.8" fill="#eeeeee"/><rect x="1426.8" y="651.8" width="5.2" height="3.4" fill="#b6b6b6"/>
<rect x="1425.6" y="673.1" width="7.6" height="6.8" fill="#eeeeee"/><rect x="1426.8" y="674.8" width="5.2" height="3.4" fill="#b6b6b6"/>
<rect x="1425.6" y="696.2" width="7.6" height="6.8" fill="#eeeeee"/><rect x="1426.8" y="697.9" width="5.2" height="3.4" fill="#b6b6b6"/>
<rect x="1425.6" y="719.2" width="7.6" height="6.8" fill="#eeeeee"/><rect x="1426.8" y="720.9" width="5.2" height="3.4" fill="#b6b6b6"/>
<rect x="1425.6" y="742.3" width="7.6" height="6.8" fill="#eeeeee"/><rect x="1426.8" y="744.0" width="5.2" height="3.4" fill="#b6b6b6"/>
<rect x="1425.6" y="765.3" width="7.6" height="6.8" fill="#eeeeee"/><rect x="1426.8" y="767.0" width="5.2" height="3.4" fill="#b6b6b6"/>
<rect x="1425.6" y="788.4" width="7.6" height="6.8" fill="#eeeeee"/><rect x="1426.8" y="790.1" width="5.2" height="3.4" fill="#b6b6b6"/>
<rect x="1425.6" y="811.4" width="7.6" height="6.8" fill="#eeeeee"/><rect x="1426.8" y="813.1" width="5.2" height="3.4" fill="#b6b6b6"/>
<rect x="1425.6" y="834.5" width="7.6" height="6.8" fill="#eeeeee"/><rect x="1426.8" y="836.2" width="5.2" height="3.4" fill="#b6b6b6"/>
<rect x="1425.6" y="857.5" width="7.6" height="6.8" fill="#eeeeee"/><rect x="1426.8" y="859.2" width="5.2" height="3.4" fill="#b6b6b6"/>
<rect x="1425.6" y="880.5" width="7.6" height="6.8" fill="#eeeeee"/><rect x="1426.8" y="882.2" width="5.2" height="3.4" fill="#b6b6b6"/>
<rect x="1425.6" y="903.6" width="7.6" height="6.8" fill="#eeeeee"/><rect x="1426.8" y="905.3" width="5.2" height="3.4" fill="#b6b6b6"/>
<rect x="1425.6" y="926.6" width="7.6" height="6.8" fill="#eeeeee"/><rect x="1426.8" y="928.3" width="5.2" height="3.4" fill="#b6b6b6"/>
<rect x="1425.6" y="949.7" width="7.6" height="6.8" fill="#eeeeee"/><rect x="1426.8" y="951.4" width="5.2" height="3.4" fill="#b6b6b6"/>
<rect x="1425.6" y="972.7" width="7.6" height="6.8" fill="#eeeeee"/><rect x="1426.8" y="974.4" width="5.2" height="3.4" fill="#b6b6b6"/>
<rect x="1425.6" y="995.8" width="7.6" height="6.8" fill="#eeeeee"/><rect x="1426.8" y="997.5" width="5.2" height="3.4" fill="#b6b6b6"/>
<rect x="1425.6" y="1018.8" width="7.6" height="6.8" fill="#eeeeee"/><rect x="1426.8" y="1020.5" width="5.2" height="3.4" fill="#b6b6b6"/>
<rect x="1425.6" y="1041.9" width="7.6" height="6.8" fill="#eeeeee"/><rect x="1426.8" y="1043.6" width="5.2" height="3.4" fill="#b6b6b6"/>
<rect x="1425.6" y="1064.9" width="7.6" height="6.8" fill="#eeeeee"/><rect x="1426.8" y="1066.6" width="5.2" height="3.4" fill="#b6b6b6"/>
<rect x="1425.6" y="1088.0" width="7.6" height="6.8" fill="#eeeeee"/><rect x="1426.8" y="1089.7" width="5.2" height="3.4" fill="#b6b6b6"/>
<rect x="1425.6" y="1111.0" width="7.6" height="6.8" fill="#eeeeee"/><rect x="1426.8" y="1112.7" width="5.2" height="3.4" fill="#b6b6b6"/>
<rect x="1425.6" y="1134.1" width="7.6" height="6.8" fill="#eeeeee"/><rect x="1426.8" y="1135.8" width="5.2" height="3.4" fill="#b6b6b6"/>
<rect x="1425.6" y="1157.1" width="7.6" height="6.8" fill="#eeeeee"/><rect x="1426.8" y="1158.8" width="5.2" height="3.4" fill="#b6b6b6"/>
<rect x="1425.6" y="1180.2" width="7.6" height="6.8" fill="#eeeeee"/><rect x="1426.8" y="1181.9" width="5.2" height="3.4" fill="#b6b6b6"/>
<rect x="1425.6" y="1203.2" width="7.6" height="6.8" fill="#eeeeee"/><rect x="1426.8" y="1204.9" width="5.2" height="3.4" fill="#b6b6b6"/>
<rect x="1425.6" y="1226.2" width="7.6" height="6.8" fill="#eeeeee"/><rect x="1426.8" y="1228.0" width="5.2" height="3.4" fill="#b6b6b6"/>
<rect x="1425.6" y="1249.3" width="7.6" height="6.8" fill="#eeeeee"/><rect x="1426.8" y="1251.0" width="5.2" height="3.4" fill="#b6b6b6"/>
<rect x="1425.6" y="1272.3" width="7.6" height="6.8" fill="#eeeeee"/><rect x="1426.8" y="1274.0" width="5.2" height="3.4" fill="#b6b6b6"/>
<rect x="1425.6" y="1295.4" width="7.6" height="6.8" fill="#eeeeee"/><rect x="1426.8" y="1297.1" width="5.2" height="3.4" fill="#b6b6b6"/>
<rect x="1425.6" y="1318.4" width="7.6" height="6.8" fill="#eeeeee"/><rect x="1426.8" y="1320.1" width="5.2" height="3.4" fill="#b6b6b6"/>
<rect x="1425.6" y="1341.5" width="7.6" height="6.8" fill="#eeeeee"/><rect x="1426.8" y="1343.2" width="5.2" height="3.4" fill="#b6b6b6"/>
<rect x="1425.6" y="1364.5" width="7.6" height="6.8" fill="#eeeeee"/><rect x="1426.8" y="1366.2" width="5.2" height="3.4" fill="#b6b6b6"/>
<rect x="1425.6" y="1387.6" width="7.6" height="6.8" fill="#eeeeee"/><rect x="1426.8" y="1389.3" width="5.2" height="3.4" fill="#b6b6b6"/>
<rect x="1425.6" y="1410.6" width="7.6" height="6.8" fill="#eeeeee"/><rect x="1426.8" y="1412.3" width="5.2" height="3.4" fill="#b6b6b6"/>
<rect x="1425.6" y="1433.7" width="7.6" height="6.8" fill="#eeeeee"/><rect x="1426.8" y="1435.4" width="5.2" height="3.4" fill="#b6b6b6"/>
<rect x="1425.6" y="1456.7" width="7.6" height="6.8" fill="#eeeeee"/><rect x="1426.8" y="1458.4" width="5.2" height="3.4" fill="#b6b6b6"/>
<rect x="1425.6" y="1479.8" width="7.6" height="6.8" fill="#eeeeee"/><rect x="1426.8" y="1481.5" width="5.2" height="3.4" fill="#b6b6b6"/>
<rect x="1425.6" y="1502.8" width="7.6" height="6.8" fill="#eeeeee"/><rect x="1426.8" y="1504.5" width="5.2" height="3.4" fill="#b6b6b6"/>
<rect x="1425.6" y="1525.9" width="7.6" height="6.8" fill="#eeeeee"/><rect x="1426.8" y="1527.6" width="5.2" height="3.4" fill="#b6b6b6"/>
<rect x="1425.6" y="1548.9" width="7.6" height="6.8" fill="#eeeeee"/><rect x="1426.8" y="1550.6" width="5.2" height="3.4" fill="#b6b6b6"/>
<rect x="1425.6" y="1572.0" width="7.6" height="6.8" fill="#eeeeee"/><rect x="1426.8" y="1573.7" width="5.2" height="3.4" fill="#b6b6b6"/>
<rect x="1425.6" y="1595.0" width="7.6" height="6.8" fill="#eeeeee"/><rect x="1426.8" y="1596.7" width="5.2" height="3.4" fill="#b6b6b6"/>
<rect x="1425.6" y="1618.0" width="7.6" height="6.8" fill="#eeeeee"/><rect x="1426.8" y="1619.7" width="5.2" height="3.4" fill="#b6b6b6"/>
<rect x="1425.6" y="1641.1" width="7.6" height="6.8" fill="#eeeeee"/><rect x="1426.8" y="1642.8" width="5.2" height="3.4" fill="#b6b6b6"/>
<rect x="1425.6" y="1664.1" width="7.6" height="6.8" fill="#eeeeee"/><rect x="1426.8" y="1665.8" width="5.2" height="3.4" fill="#b6b6b6"/>
<rect x="1425.6" y="1687.2" width="7.6" height="6.8" fill="#eeeeee"/><rect x="1426.8" y="1688.9" width="5.2" height="3.4" fill="#b6b6b6"/>
<rect x="1425.6" y="1710.2" width="7.6" height="6.8" fill="#eeeeee"/><rect x="1426.8" y="1711.9" width="5.2" height="3.4" fill="#b6b6b6"/>
<rect x="1425.6" y="1733.3" width="7.6" height="6.8" fill="#eeeeee"/><rect x="1426.8" y="1735.0" width="5.2" height="3.4" fill="#b6b6b6"/>
<rect x="1425.6" y="1756.3" width="7.6" height="6.8" fill="#eeeeee"/><rect x="1426.8" y="1758.0" width="5.2" height="3.4" fill="#b6b6b6"/>
<rect x="1425.6" y="1779.4" width="7.6" height="6.8" fill="#eeeeee"/><rect x="1426.8" y="1781.1" width="5.2" height="3.4" fill="#b6b6b6"/>
<rect x="1425.6" y="1802.4" width="7.6" height="6.8" fill="#eeeeee"/><rect x="1426.8" y="1804.1" width="5.2" height="3.4" fill="#b6b6b6"/>
<rect x="1425.6" y="1825.5" width="7.6" height="6.8" fill="#eeeeee"/><rect x="1426.8" y="1827.2" width="5.2" height="3.4" fill="#b6b6b6"/>
<rect x="1425.6" y="1848.5" width="7.6" height="6.8" fill="#eeeeee"/><rect x="1426.8" y="1850.2" width="5.2" height="3.4" fill="#b6b6b6"/>
<rect x="1425.6" y="1871.6" width="7.6" height="6.8" fill="#eeeeee"/><rect x="1426.8" y="1873.3" width="5.2" height="3.4" fill="#b6b6b6"/>
<rect x="1425.6" y="1894.6" width="7.6" height="6.8" fill="#eeeeee"/><rect x="1426.8" y="1896.3" width="5.2" height="3.4" fill="#b6b6b6"/>
<rect x="1425.6" y="1917.7" width="7.6" height="6.8" fill="#eeeeee"/><rect x="1426.8" y="1919.4" width="5.2" height="3.4" fill="#b6b6b6"/>
<rect x="1425.6" y="1940.7" width="7.6" height="6.8" fill="#eeeeee"/><rect x="1426.8" y="1942.4" width="5.2" height="3.4" fill="#b6b6b6"/>
<rect x="1425.6" y="1963.8" width="7.6" height="6.8" fill="#eeeeee"/><rect x="1426.8" y="1965.5" width="5.2" height="3.4" fill="#b6b6b6"/>
<rect x="1425.6" y="1986.8" width="7.6" height="6.8" fill="#eeeeee"/><rect x="1426.8" y="1988.5" width="5.2" height="3.4" fill="#b6b6b6"/>
<rect x="1425.6" y="2009.8" width="7.6" height="6.8" fill="#eeeeee"/><rect x="1426.8" y="2011.5" width="5.2" height="3.4" fill="#b6b6b6"/>
<rect x="1425.6" y="2032.9" width="7.6" height="6.8" fill="#eeeeee"/><rect x="1426.8" y="2034.6" width="5.2" height="3.4" fill="#b6b6b6"/>
<rect x="1425.6" y="2055.9" width="7.6" height="6.8" fill="#eeeeee"/><rect x="1426.8" y="2057.6" width="5.2" height="3.4" fill="#b6b6b6"/>
<rect x="1425.6" y="2079.0" width="7.6" height="6.8" fill="#eeeeee"/><rect x="1426.8" y="2080.7" width="5.2" height="3.4" fill="#b6b6b6"/>
<rect x="1425.6" y="2102.0" width="7.6" height="6.8" fill="#eeeeee"/><rect x="1426.8" y="2103.7" width="5.2" height="3.4" fill="#b6b6b6"/>
<rect x="1425.6" y="2125.1" width="7.6" height="6.8" fill="#eeeeee"/><rect x="1426.8" y="2126.8" width="5.2" height="3.4" fill="#b6b6b6"/>
<rect x="1425.6" y="2148.1" width="7.6" height="6.8" fill="#eeeeee"/><rect x="1426.8" y="2149.8" width="5.2" height="3.4" fill="#b6b6b6"/>
<rect x="1425.6" y="2171.2" width="7.6" height="6.8" fill="#eeeeee"/><rect x="1426.8" y="2172.9" width="5.2" height="3.4" fill="#b6b6b6"/>
<rect x="1425.6" y="2194.2" width="7.6" height="6.8" fill="#eeeeee"/><rect x="1426.8" y="2195.9" width="5.2" height="3.4" fill="#b6b6b6"/>
<rect x="1425.6" y="2217.3" width="7.6" height="6.8" fill="#eeeeee"/><rect x="1426.8" y="2219.0" width="5.2" height="3.4" fill="#b6b6b6"/>
<rect x="1276.4" y="50.9" width="7.6" height="6.8" fill="#eeeeee" opacity="0.35"/><rect x="1277.6" y="52.6" width="5.2" height="3.4" fill="#b6b6b6" opacity="0.35"/>
<rect x="1276.4" y="73.9" width="7.6" height="6.8" fill="#eeeeee"/><rect x="1277.6" y="75.6" width="5.2" height="3.4" fill="#b6b6b6"/>
<rect x="1276.4" y="96.9" width="7.6" height="6.8" fill="#eeeeee"/><rect x="1277.6" y="98.6" width="5.2" height="3.4" fill="#b6b6b6"/>
<rect x="1276.4" y="120.0" width="7.6" height="6.8" fill="#eeeeee"/><rect x="1277.6" y="121.7" width="5.2" height="3.4" fill="#b6b6b6"/>
<rect x="1276.4" y="143.0" width="7.6" height="6.8" fill="#eeeeee"/><rect x="1277.6" y="144.7" width="5.2" height="3.4" fill="#b6b6b6"/>
<rect x="1276.4" y="166.1" width="7.6" height="6.8" fill="#eeeeee"/><rect x="1277.6" y="167.8" width="5.2" height="3.4" fill="#b6b6b6"/>
<rect x="1276.4" y="189.1" width="7.6" height="6.8" fill="#eeeeee"/><rect x="1277.6" y="190.8" width="5.2" height="3.4" fill="#b6b6b6"/>
<rect x="1276.4" y="212.2" width="7.6" height="6.8" fill="#eeeeee"/><rect x="1277.6" y="213.9" width="5.2" height="3.4" fill="#b6b6b6"/>
<rect x="1276.4" y="235.2" width="7.6" height="6.8" fill="#eeeeee"/><rect x="1277.6" y="236.9" width="5.2" height="3.4" fill="#b6b6b6"/>
<rect x="1276.4" y="258.3" width="7.6" height="6.8" fill="#eeeeee"/><rect x="1277.6" y="260.0" width="5.2" height="3.4" fill="#b6b6b6"/>
<rect x="1276.4" y="281.3" width="7.6" height="6.8" fill="#eeeeee"/><rect x="1277.6" y="283.0" width="5.2" height="3.4" fill="#b6b6b6"/>
<rect x="1276.4" y="304.4" width="7.6" height="6.8" fill="#eeeeee"/><rect x="1277.6" y="306.1" width="5.2" height="3.4" fill="#b6b6b6"/>
<rect x="1276.4" y="327.4" width="7.6" height="6.8" fill="#eeeeee"/><rect x="1277.6" y="329.1" width="5.2" height="3.4" fill="#b6b6b6"/>
<rect x="1276.4" y="350.5" width="7.6" height="6.8" fill="#eeeeee"/><rect x="1277.6" y="352.2" width="5.2" height="3.4" fill="#b6b6b6"/>
<rect x="1276.4" y="373.5" width="7.6" height="6.8" fill="#eeeeee"/><rect x="1277.6" y="375.2" width="5.2" height="3.4" fill="#b6b6b6"/>
<rect x="1276.4" y="396.6" width="7.6" height="6.8" fill="#eeeeee"/><rect x="1277.6" y="398.3" width="5.2" height="3.4" fill="#b6b6b6"/>
<rect x="1276.4" y="419.6" width="7.6" height="6.8" fill="#eeeeee"/><rect x="1277.6" y="421.3" width="5.2" height="3.4" fill="#b6b6b6"/>
<rect x="1276.4" y="442.7" width="7.6" height="6.8" fill="#eeeeee"/><rect x="1277.6" y="444.4" width="5.2" height="3.4" fill="#b6b6b6"/>
<rect x="1276.4" y="465.7" width="7.6" height="6.8" fill="#eeeeee"/><rect x="1277.6" y="467.4" width="5.2" height="3.4" fill="#b6b6b6"/>
<rect x="1276.4" y="488.7" width="7.6" height="6.8" fill="#eeeeee"/><rect x="1277.6" y="490.4" width="5.2" height="3.4" fill="#b6b6b6"/>
<rect x="1276.4" y="511.8" width="7.6" height="6.8" fill="#eeeeee"/><rect x="1277.6" y="513.5" width="5.2" height="3.4" fill="#b6b6b6"/>
<rect x="1276.4" y="534.8" width="7.6" height="6.8" fill="#eeeeee"/><rect x="1277.6" y="536.5" width="5.2" height="3.4" fill="#b6b6b6"/>
<rect x="1276.4" y="557.9" width="7.6" height="6.8" fill="#eeeeee"/><rect x="1277.6" y="559.6" width="5.2" height="3.4" fill="#b6b6b6"/>
<rect x="1276.4" y="580.9" width="7.6" height="6.8" fill="#eeeeee"/><rect x="1277.6" y="582.6" width="5.2" height="3.4" fill="#b6b6b6"/>
<rect x="1276.4" y="604.0" width="7.6" height="6.8" fill="#eeeeee"/><rect x="1277.6" y="605.7" width="5.2" height="3.4" fill="#b6b6b6"/>
<rect x="1276.4" y="627.0" width="7.6" height="6.8" fill="#eeeeee"/><rect x="1277.6" y="628.7" width="5.2" height="3.4" fill="#b6b6b6"/>
<rect x="1276.4" y="650.1" width="7.6" height="6.8" fill="#eeeeee"/><rect x="1277.6" y="651.8" width="5.2" height="3.4" fill="#b6b6b6"/>
<rect x="1276.4" y="673.1" width="7.6" height="6.8" fill="#eeeeee"/><rect x="1277.6" y="674.8" width="5.2" height="3.4" fill="#b6b6b6"/>
<rect x="1276.4" y="696.2" width="7.6" height="6.8" fill="#eeeeee"/><rect x="1277.6" y="697.9" width="5.2" height="3.4" fill="#b6b6b6"/>
<rect x="1276.4" y="719.2" width="7.6" height="6.8" fill="#eeeeee"/><rect x="1277.6" y="720.9" width="5.2" height="3.4" fill="#b6b6b6"/>
<rect x="1276.4" y="742.3" width="7.6" height="6.8" fill="#eeeeee"/><rect x="1277.6" y="744.0" width="5.2" height="3.4" fill="#b6b6b6"/>
<rect x="1276.4" y="765.3" width="7.6" height="6.8" fill="#eeeeee"/><rect x="1277.6" y="767.0" width="5.2" height="3.4" fill="#b6b6b6"/>
<rect x="1276.4" y="788.4" width="7.6" height="6.8" fill="#eeeeee"/><rect x="1277.6" y="790.1" width="5.2" height="3.4" fill="#b6b6b6"/>
<rect x="1276.4" y="811.4" width="7.6" height="6.8" fill="#eeeeee"/><rect x="1277.6" y="813.1" width="5.2" height="3.4" fill="#b6b6b6"/>
<rect x="1276.4" y="834.5" width="7.6" height="6.8" fill="#eeeeee"/><rect x="1277.6" y="836.2" width="5.2" height="3.4" fill="#b6b6b6"/>
<rect x="1276.4" y="857.5" width="7.6" height="6.8" fill="#eeeeee"/><rect x="1277.6" y="859.2" width="5.2" height="3.4" fill="#b6b6b6"/>
<rect x="1276.4" y="880.5" width="7.6" height="6.8" fill="#eeeeee"/><rect x="1277.6" y="882.2" width="5.2" height="3.4" fill="#b6b6b6"/>
<rect x="1276.4" y="903.6" width="7.6" height="6.8" fill="#eeeeee"/><rect x="1277.6" y="905.3" width="5.2" height="3.4" fill="#b6b6b6"/>
<rect x="1276.4" y="926.6" width="7.6" height="6.8" fill="#eeeeee"/><rect x="1277.6" y="928.3" width="5.2" height="3.4" fill="#b6b6b6"/>
<rect x="1276.4" y="949.7" width="7.6" height="6.8" fill="#eeeeee"/><rect x="1277.6" y="951.4" width="5.2" height="3.4" fill="#b6b6b6"/>
<rect x="1276.4" y="972.7" width="7.6" height="6.8" fill="#eeeeee"/><rect x="1277.6" y="974.4" width="5.2" height="3.4" fill="#b6b6b6"/>
<rect x="1276.4" y="995.8" width="7.6" height="6.8" fill="#eeeeee"/><rect x="1277.6" y="997.5" width="5.2" height="3.4" fill="#b6b6b6"/>
<rect x="1276.4" y="1018.8" width="7.6" height="6.8" fill="#eeeeee"/><rect x="1277.6" y="1020.5" width="5.2" height="3.4" fill="#b6b6b6"/>
<rect x="1276.4" y="1041.9" width="7.6" height="6.8" fill="#eeeeee"/><rect x="1277.6" y="1043.6" width="5.2" height="3.4" fill="#b6b6b6"/>
<rect x="1276.4" y="1064.9" width="7.6" height="6.8" fill="#eeeeee"/><rect x="1277.6" y="1066.6" width="5.2" height="3.4" fill="#b6b6b6"/>
<rect x="1276.4" y="1088.0" width="7.6" height="6.8" fill="#eeeeee"/><rect x="1277.6" y="1089.7" width="5.2" height="3.4" fill="#b6b6b6"/>
<rect x="1276.4" y="1111.0" width="7.6" height="6.8" fill="#eeeeee"/><rect x="1277.6" y="1112.7" width="5.2" height="3.4" fill="#b6b6b6"/>
<rect x="1276.4" y="1134.1" width="7.6" height="6.8" fill="#eeeeee"/><rect x="1277.6" y="1135.8" width="5.2" height="3.4" fill="#b6b6b6"/>
<rect x="1276.4" y="1157.1" width="7.6" height="6.8" fill="#eeeeee"/><rect x="1277.6" y="1158.8" width="5.2" height="3.4" fill="#b6b6b6"/>
<rect x="1276.4" y="1180.2" width="7.6" height="6.8" fill="#eeeeee"/><rect x="1277.6" y="1181.9" width="5.2" height="3.4" fill="#b6b6b6"/>
<rect x="1276.4" y="1203.2" width="7.6" height="6.8" fill="#eeeeee"/><rect x="1277.6" y="1204.9" width="5.2" height="3.4" fill="#b6b6b6"/>
<rect x="1276.4" y="1226.2" width="7.6" height="6.8" fill="#eeeeee"/><rect x="1277.6" y="1228.0" width="5.2" height="3.4" fill="#b6b6b6"/>
<rect x="1276.4" y="1249.3" width="7.6" height="6.8" fill="#eeeeee"/><rect x="1277.6" y="1251.0" width="5.2" height="3.4" fill="#b6b6b6"/>
<rect x="1276.4" y="1272.3" width="7.6" height="6.8" fill="#eeeeee"/><rect x="1277.6" y="1274.0" width="5.2" height="3.4" fill="#b6b6b6"/>
<rect x="1276.4" y="1295.4" width="7.6" height="6.8" fill="#eeeeee"/><rect x="1277.6" y="1297.1" width="5.2" height="3.4" fill="#b6b6b6"/>
<rect x="1276.4" y="1318.4" width="7.6" height="6.8" fill="#eeeeee"/><rect x="1277.6" y="1320.1" width="5.2" height="3.4" fill="#b6b6b6"/>
<rect x="1276.4" y="1341.5" width="7.6" height="6.8" fill="#eeeeee"/><rect x="1277.6" y="1343.2" width="5.2" height="3.4" fill="#b6b6b6"/>
<rect x="1276.4" y="1364.5" width="7.6" height="6.8" fill="#eeeeee"/><rect x="1277.6" y="1366.2" width="5.2" height="3.4" fill="#b6b6b6"/>
<rect x="1276.4" y="1387.6" width="7.6" height="6.8" fill="#eeeeee"/><rect x="1277.6" y="1389.3" width="5.2" height="3.4" fill="#b6b6b6"/>
<rect x="1276.4" y="1410.6" width="7.6" height="6.8" fill="#eeeeee"/><rect x="1277.6" y="1412.3" width="5.2" height="3.4" fill="#b6b6b6"/>
<rect x="1276.4" y="1433.7" width="7.6" height="6.8" fill="#eeeeee"/><rect x="1277.6" y="1435.4" width="5.2" height="3.4" fill="#b6b6b6"/>
<rect x="1276.4" y="1456.7" width="7.6" height="6.8" fill="#eeeeee"/><rect x="1277.6" y="1458.4" width="5.2" height="3.4" fill="#b6b6b6"/>
<rect x="1276.4" y="1479.8" width="7.6" height="6.8" fill="#eeeeee"/><rect x="1277.6" y="1481.5" width="5.2" height="3.4" fill="#b6b6b6"/>
<rect x="1276.4" y="1502.8" width="7.6" height="6.8" fill="#eeeeee"/><rect x="1277.6" y="1504.5" width="5.2" height="3.4" fill="#b6b6b6"/>
<rect x="1276.4" y="1525.9" width="7.6" height="6.8" fill="#eeeeee"/><rect x="1277.6" y="1527.6" width="5.2" height="3.4" fill="#b6b6b6"/>
<rect x="1276.4" y="1548.9" width="7.6" height="6.8" fill="#eeeeee"/><rect x="1277.6" y="1550.6" width="5.2" height="3.4" fill="#b6b6b6"/>
<rect x="1276.4" y="1572.0" width="7.6" height="6.8" fill="#eeeeee"/><rect x="1277.6" y="1573.7" width="5.2" height="3.4" fill="#b6b6b6"/>
<rect x="1276.4" y="1595.0" width="7.6" height="6.8" fill="#eeeeee"/><rect x="1277.6" y="1596.7" width="5.2" height="3.4" fill="#b6b6b6"/>
<rect x="1276.4" y="1618.0" width="7.6" height="6.8" fill="#eeeeee"/><rect x="1277.6" y="1619.7" width="5.2" height="3.4" fill="#b6b6b6"/>
<rect x="1276.4" y="1641.1" width="7.6" height="6.8" fill="#eeeeee"/><rect x="1277.6" y="1642.8" width="5.2" height="3.4" fill="#b6b6b6"/>
<rect x="1276.4" y="1664.1" width="7.6" height="6.8" fill="#eeeeee"/><rect x="1277.6" y="1665.8" width="5.2" height="3.4" fill="#b6b6b6"/>
<rect x="1276.4" y="1687.2" width="7.6" height="6.8" fill="#eeeeee"/><rect x="1277.6" y="1688.9" width="5.2" height="3.4" fill="#b6b6b6"/>
<rect x="1276.4" y="1710.2" width="7.6" height="6.8" fill="#eeeeee"/><rect x="1277.6" y="1711.9" width="5.2" height="3.4" fill="#b6b6b6"/>
<rect x="1276.4" y="1733.3" width="7.6" height="6.8" fill="#eeeeee"/><rect x="1277.6" y="1735.0" width="5.2" height="3.4" fill="#b6b6b6"/>
<rect x="1276.4" y="1756.3" width="7.6" height="6.8" fill="#eeeeee"/><rect x="1277.6" y="1758.0" width="5.2" height="3.4" fill="#b6b6b6"/>
<rect x="1276.4" y="1779.4" width="7.6" height="6.8" fill="#eeeeee"/><rect x="1277.6" y="1781.1" width="5.2" height="3.4" fill="#b6b6b6"/>
<rect x="1276.4" y="1802.4" width="7.6" height="6.8" fill="#eeeeee"/><rect x="1277.6" y="1804.1" width="5.2" height="3.4" fill="#b6b6b6"/>
<rect x="1276.4" y="1825.5" width="7.6" height="6.8" fill="#eeeeee"/><rect x="1277.6" y="1827.2" width="5.2" height="3.4" fill="#b6b6b6"/>
<rect x="1276.4" y="1848.5" width="7.6" height="6.8" fill="#eeeeee"/><rect x="1277.6" y="1850.2" width="5.2" height="3.4" fill="#b6b6b6"/>
<rect x="1276.4" y="1871.6" width="7.6" height="6.8" fill="#eeeeee"/><rect x="1277.6" y="1873.3" width="5.2" height="3.4" fill="#b6b6b6"/>
<rect x="1276.4" y="1894.6" width="7.6" height="6.8" fill="#eeeeee"/><rect x="1277.6" y="1896.3" width="5.2" height="3.4" fill="#b6b6b6"/>
<rect x="1276.4" y="1917.7" width="7.6" height="6.8" fill="#eeeeee"/><rect x="1277.6" y="1919.4" width="5.2" height="3.4" fill="#b6b6b6"/>
<rect x="1276.4" y="1940.7" width="7.6" height="6.8" fill="#eeeeee"/><rect x="1277.6" y="1942.4" width="5.2" height="3.4" fill="#b6b6b6"/>
<rect x="1276.4" y="1963.8" width="7.6" height="6.8" fill="#eeeeee"/><rect x="1277.6" y="1965.5" width="5.2" height="3.4" fill="#b6b6b6"/>
<rect x="1276.4" y="1986.8" width="7.6" height="6.8" fill="#eeeeee"/><rect x="1277.6" y="1988.5" width="5.2" height="3.4" fill="#b6b6b6"/>
<rect x="1276.4" y="2009.8" width="7.6" height="6.8" fill="#eeeeee"/><rect x="1277.6" y="2011.5" width="5.2" height="3.4" fill="#b6b6b6"/>
<rect x="1276.4" y="2032.9" width="7.6" height="6.8" fill="#eeeeee"/><rect x="1277.6" y="2034.6" width="5.2" height="3.4" fill="#b6b6b6"/>
<rect x="1276.4" y="2055.9" width="7.6" height="6.8" fill="#eeeeee"/><rect x="1277.6" y="2057.6" width="5.2" height="3.4" fill="#b6b6b6"/>
<rect x="1276.4" y="2079.0" width="7.6" height="6.8" fill="#eeeeee"/><rect x="1277.6" y="2080.7" width="5.2" height="3.4" fill="#b6b6b6"/>
<rect x="1276.4" y="2102.0" width="7.6" height="6.8" fill="#eeeeee"/><rect x="1277.6" y="2103.7" width="5.2" height="3.4" fill="#b6b6b6"/>
<rect x="1276.4" y="2125.1" width="7.6" height="6.8" fill="#eeeeee"/><rect x="1277.6" y="2126.8" width="5.2" height="3.4" fill="#b6b6b6"/>
<rect x="1276.4" y="2148.1" width="7.6" height="6.8" fill="#eeeeee"/><rect x="1277.6" y="2149.8" width="5.2" height="3.4" fill="#b6b6b6"/>
<rect x="1276.4" y="2171.2" width="7.6" height="6.8" fill="#eeeeee"/><rect x="1277.6" y="2172.9" width="5.2" height="3.4" fill="#b6b6b6"/>
<rect x="1276.4" y="2194.2" width="7.6" height="6.8" fill="#eeeeee"/><rect x="1277.6" y="2195.9" width="5.2" height="3.4" fill="#b6b6b6"/>
<rect x="1276.4" y="2217.3" width="7.6" height="6.8" fill="#eeeeee"/><rect x="1277.6" y="2219.0" width="5.2" height="3.4" fill="#b6b6b6"/>
<rect x="1127.1" y="50.9" width="7.6" height="6.8" fill="#eeeeee" opacity="0.35"/><rect x="1128.3" y="52.6" width="5.2" height="3.4" fill="#b6b6b6" opacity="0.35"/>
<rect x="1127.1" y="73.9" width="7.6" height="6.8" fill="#eeeeee"/><rect x="1128.3" y="75.6" width="5.2" height="3.4" fill="#b6b6b6"/>
<rect x="1127.1" y="96.9" width="7.6" height="6.8" fill="#eeeeee"/><rect x="1128.3" y="98.6" width="5.2" height="3.4" fill="#b6b6b6"/>
<rect x="1127.1" y="120.0" width="7.6" height="6.8" fill="#eeeeee"/><rect x="1128.3" y="121.7" width="5.2" height="3.4" fill="#b6b6b6"/>
<rect x="1127.1" y="143.0" width="7.6" height="6.8" fill="#eeeeee"/><rect x="1128.3" y="144.7" width="5.2" height="3.4" fill="#b6b6b6"/>
<rect x="1127.1" y="166.1" width="7.6" height="6.8" fill="#eeeeee"/><rect x="1128.3" y="167.8" width="5.2" height="3.4" fill="#b6b6b6"/>
<rect x="1127.1" y="189.1" width="7.6" height="6.8" fill="#eeeeee"/><rect x="1128.3" y="190.8" width="5.2" height="3.4" fill="#b6b6b6"/>
<rect x="1127.1" y="212.2" width="7.6" height="6.8" fill="#eeeeee"/><rect x="1128.3" y="213.9" width="5.2" height="3.4" fill="#b6b6b6"/>
<rect x="1127.1" y="235.2" width="7.6" height="6.8" fill="#eeeeee"/><rect x="1128.3" y="236.9" width="5.2" height="3.4" fill="#b6b6b6"/>
<rect x="1127.1" y="258.3" width="7.6" height="6.8" fill="#eeeeee"/><rect x="1128.3" y="260.0" width="5.2" height="3.4" fill="#b6b6b6"/>
<rect x="1127.1" y="281.3" width="7.6" height="6.8" fill="#eeeeee"/><rect x="1128.3" y="283.0" width="5.2" height="3.4" fill="#b6b6b6"/>
<rect x="1127.1" y="304.4" width="7.6" height="6.8" fill="#eeeeee"/><rect x="1128.3" y="306.1" width="5.2" height="3.4" fill="#b6b6b6"/>
<rect x="1127.1" y="327.4" width="7.6" height="6.8" fill="#eeeeee"/><rect x="1128.3" y="329.1" width="5.2" height="3.4" fill="#b6b6b6"/>
<rect x="1127.1" y="350.5" width="7.6" height="6.8" fill="#eeeeee"/><rect x="1128.3" y="352.2" width="5.2" height="3.4" fill="#b6b6b6"/>
<rect x="1127.1" y="373.5" width="7.6" height="6.8" fill="#eeeeee"/><rect x="1128.3" y="375.2" width="5.2" height="3.4" fill="#b6b6b6"/>
<rect x="1127.1" y="396.6" width="7.6" height="6.8" fill="#eeeeee"/><rect x="1128.3" y="398.3" width="5.2" height="3.4" fill="#b6b6b6"/>
<rect x="1127.1" y="419.6" width="7.6" height="6.8" fill="#eeeeee"/><rect x="1128.3" y="421.3" width="5.2" height="3.4" fill="#b6b6b6"/>
<rect x="1127.1" y="442.7" width="7.6" height="6.8" fill="#eeeeee"/><rect x="1128.3" y="444.4" width="5.2" height="3.4" fill="#b6b6b6"/>
<rect x="1127.1" y="465.7" width="7.6" height="6.8" fill="#eeeeee"/><rect x="1128.3" y="467.4" width="5.2" height="3.4" fill="#b6b6b6"/>
<rect x="1127.1" y="488.7" width="7.6" height="6.8" fill="#eeeeee"/><rect x="1128.3" y="490.4" width="5.2" height="3.4" fill="#b6b6b6"/>
<rect x="1127.1" y="511.8" width="7.6" height="6.8" fill="#eeeeee"/><rect x="1128.3" y="513.5" width="5.2" height="3.4" fill="#b6b6b6"/>
<rect x="1127.1" y="534.8" width="7.6" height="6.8" fill="#eeeeee"/><rect x="1128.3" y="536.5" width="5.2" height="3.4" fill="#b6b6b6"/>
<rect x="1127.1" y="557.9" width="7.6" height="6.8" fill="#eeeeee"/><rect x="1128.3" y="559.6" width="5.2" height="3.4" fill="#b6b6b6"/>
<rect x="1127.1" y="580.9" width="7.6" height="6.8" fill="#eeeeee"/><rect x="1128.3" y="582.6" width="5.2" height="3.4" fill="#b6b6b6"/>
<rect x="1127.1" y="604.0" width="7.6" height="6.8" fill="#eeeeee"/><rect x="1128.3" y="605.7" width="5.2" height="3.4" fill="#b6b6b6"/>
<rect x="1127.1" y="627.0" width="7.6" height="6.8" fill="#eeeeee"/><rect x="1128.3" y="628.7" width="5.2" height="3.4" fill="#b6b6b6"/>
<rect x="1127.1" y="650.1" width="7.6" height="6.8" fill="#eeeeee"/><rect x="1128.3" y="651.8" width="5.2" height="3.4" fill="#b6b6b6"/>
<rect x="1127.1" y="673.1" width="7.6" height="6.8" fill="#eeeeee"/><rect x="1128.3" y="674.8" width="5.2" height="3.4" fill="#b6b6b6"/>
<rect x="1127.1" y="696.2" width="7.6" height="6.8" fill="#eeeeee"/><rect x="1128.3" y="697.9" width="5.2" height="3.4" fill="#b6b6b6"/>
<rect x="1127.1" y="719.2" width="7.6" height="6.8" fill="#eeeeee"/><rect x="1128.3" y="720.9" width="5.2" height="3.4" fill="#b6b6b6"/>
<rect x="1127.1" y="742.3" width="7.6" height="6.8" fill="#eeeeee"/><rect x="1128.3" y="744.0" width="5.2" height="3.4" fill="#b6b6b6"/>
<rect x="1127.1" y="765.3" width="7.6" height="6.8" fill="#eeeeee"/><rect x="1128.3" y="767.0" width="5.2" height="3.4" fill="#b6b6b6"/>
<rect x="1127.1" y="788.4" width="7.6" height="6.8" fill="#eeeeee"/><rect x="1128.3" y="790.1" width="5.2" height="3.4" fill="#b6b6b6"/>
<rect x="1127.1" y="811.4" width="7.6" height="6.8" fill="#eeeeee"/><rect x="1128.3" y="813.1" width="5.2" height="3.4" fill="#b6b6b6"/>
<rect x="1127.1" y="834.5" width="7.6" height="6.8" fill="#eeeeee"/><rect x="1128.3" y="836.2" width="5.2" height="3.4" fill="#b6b6b6"/>
<rect x="1127.1" y="857.5" width="7.6" height="6.8" fill="#eeeeee"/><rect x="1128.3" y="859.2" width="5.2" height="3.4" fill="#b6b6b6"/>
<rect x="1127.1" y="880.5" width="7.6" height="6.8" fill="#eeeeee"/><rect x="1128.3" y="882.2" width="5.2" height="3.4" fill="#b6b6b6"/>
<rect x="1127.1" y="903.6" width="7.6" height="6.8" fill="#eeeeee"/><rect x="1128.3" y="905.3" width="5.2" height="3.4" fill="#b6b6b6"/>
<rect x="1127.1" y="926.6" width="7.6" height="6.8" fill="#eeeeee"/><rect x="1128.3" y="928.3" width="5.2" height="3.4" fill="#b6b6b6"/>
<rect x="1127.1" y="949.7" width="7.6" height="6.8" fill="#eeeeee"/><rect x="1128.3" y="951.4" width="5.2" height="3.4" fill="#b6b6b6"/>
<rect x="1127.1" y="972.7" width="7.6" height="6.8" fill="#eeeeee"/><rect x="1128.3" y="974.4" width="5.2" height="3.4" fill="#b6b6b6"/>
<rect x="1127.1" y="995.8" width="7.6" height="6.8" fill="#eeeeee"/><rect x="1128.3" y="997.5" width="5.2" height="3.4" fill="#b6b6b6"/>
<rect x="1127.1" y="1018.8" width="7.6" height="6.8" fill="#eeeeee"/><rect x="1128.3" y="1020.5" width="5.2" height="3.4" fill="#b6b6b6"/>
<rect x="1127.1" y="1041.9" width="7.6" height="6.8" fill="#eeeeee"/><rect x="1128.3" y="1043.6" width="5.2" height="3.4" fill="#b6b6b6"/>
<rect x="1127.1" y="1064.9" width="7.6" height="6.8" fill="#eeeeee"/><rect x="1128.3" y="1066.6" width="5.2" height="3.4" fill="#b6b6b6"/>
<rect x="1127.1" y="1088.0" width="7.6" height="6.8" fill="#eeeeee"/><rect x="1128.3" y="1089.7" width="5.2" height="3.4" fill="#b6b6b6"/>
<rect x="1127.1" y="1111.0" width="7.6" height="6.8" fill="#eeeeee"/><rect x="1128.3" y="1112.7" width="5.2" height="3.4" fill="#b6b6b6"/>
<rect x="1127.1" y="1134.1" width="7.6" height="6.8" fill="#eeeeee"/><rect x="1128.3" y="1135.8" width="5.2" height="3.4" fill="#b6b6b6"/>
<rect x="1127.1" y="1157.1" width="7.6" height="6.8" fill="#eeeeee"/><rect x="1128.3" y="1158.8" width="5.2" height="3.4" fill="#b6b6b6"/>
<rect x="1127.1" y="1180.2" width="7.6" height="6.8" fill="#eeeeee"/><rect x="1128.3" y="1181.9" width="5.2" height="3.4" fill="#b6b6b6"/>
<rect x="1127.1" y="1203.2" width="7.6" height="6.8" fill="#eeeeee"/><rect x="1128.3" y="1204.9" width="5.2" height="3.4" fill="#b6b6b6"/>
<rect x="1127.1" y="1226.2" width="7.6" height="6.8" fill="#eeeeee"/><rect x="1128.3" y="1228.0" width="5.2" height="3.4" fill="#b6b6b6"/>
<rect x="1127.1" y="1249.3" width="7.6" height="6.8" fill="#eeeeee"/><rect x="1128.3" y="1251.0" width="5.2" height="3.4" fill="#b6b6b6"/>
<rect x="1127.1" y="1272.3" width="7.6" height="6.8" fill="#eeeeee"/><rect x="1128.3" y="1274.0" width="5.2" height="3.4" fill="#b6b6b6"/>
<rect x="1127.1" y="1295.4" width="7.6" height="6.8" fill="#eeeeee"/><rect x="1128.3" y="1297.1" width="5.2" height="3.4" fill="#b6b6b6"/>
<rect x="1127.1" y="1318.4" width="7.6" height="6.8" fill="#eeeeee"/><rect x="1128.3" y="1320.1" width="5.2" height="3.4" fill="#b6b6b6"/>
<rect x="1127.1" y="1341.5" width="7.6" height="6.8" fill="#eeeeee"/><rect x="1128.3" y="1343.2" width="5.2" height="3.4" fill="#b6b6b6"/>
<rect x="1127.1" y="1364.5" width="7.6" height="6.8" fill="#eeeeee"/><rect x="1128.3" y="1366.2" width="5.2" height="3.4" fill="#b6b6b6"/>
<rect x="1127.1" y="1387.6" width="7.6" height="6.8" fill="#eeeeee"/><rect x="1128.3" y="1389.3" width="5.2" height="3.4" fill="#b6b6b6"/>
<rect x="1127.1" y="1410.6" width="7.6" height="6.8" fill="#eeeeee"/><rect x="1128.3" y="1412.3" width="5.2" height="3.4" fill="#b6b6b6"/>
<rect x="1127.1" y="1433.7" width="7.6" height="6.8" fill="#eeeeee"/><rect x="1128.3" y="1435.4" width="5.2" height="3.4" fill="#b6b6b6"/>
<rect x="1127.1" y="1456.7" width="7.6" height="6.8" fill="#eeeeee"/><rect x="1128.3" y="1458.4" width="5.2" height="3.4" fill="#b6b6b6"/>
<rect x="1127.1" y="1479.8" width="7.6" height="6.8" fill="#eeeeee"/><rect x="1128.3" y="1481.5" width="5.2" height="3.4" fill="#b6b6b6"/>
<rect x="1127.1" y="1502.8" width="7.6" height="6.8" fill="#eeeeee"/><rect x="1128.3" y="1504.5" width="5.2" height="3.4" fill="#b6b6b6"/>
<rect x="1127.1" y="1525.9" width="7.6" height="6.8" fill="#eeeeee"/><rect x="1128.3" y="1527.6" width="5.2" height="3.4" fill="#b6b6b6"/>
<rect x="1127.1" y="1548.9" width="7.6" height="6.8" fill="#eeeeee"/><rect x="1128.3" y="1550.6" width="5.2" height="3.4" fill="#b6b6b6"/>
<rect x="1127.1" y="1572.0" width="7.6" height="6.8" fill="#eeeeee"/><rect x="1128.3" y="1573.7" width="5.2" height="3.4" fill="#b6b6b6"/>
<rect x="1127.1" y="1595.0" width="7.6" height="6.8" fill="#eeeeee"/><rect x="1128.3" y="1596.7" width="5.2" height="3.4" fill="#b6b6b6"/>
<rect x="1127.1" y="1618.0" width="7.6" height="6.8" fill="#eeeeee"/><rect x="1128.3" y="1619.7" width="5.2" height="3.4" fill="#b6b6b6"/>
<rect x="1127.1" y="1641.1" width="7.6" height="6.8" fill="#eeeeee"/><rect x="1128.3" y="1642.8" width="5.2" height="3.4" fill="#b6b6b6"/>
<rect x="1127.1" y="1664.1" width="7.6" height="6.8" fill="#eeeeee"/><rect x="1128.3" y="1665.8" width="5.2" height="3.4" fill="#b6b6b6"/>
<rect x="1127.1" y="1687.2" width="7.6" height="6.8" fill="#eeeeee"/><rect x="1128.3" y="1688.9" width="5.2" height="3.4" fill="#b6b6b6"/>
<rect x="1127.1" y="1710.2" width="7.6" height="6.8" fill="#eeeeee"/><rect x="1128.3" y="1711.9" width="5.2" height="3.4" fill="#b6b6b6"/>
<rect x="1127.1" y="1733.3" width="7.6" height="6.8" fill="#eeeeee"/><rect x="1128.3" y="1735.0" width="5.2" height="3.4" fill="#b6b6b6"/>
<rect x="1127.1" y="1756.3" width="7.6" height="6.8" fill="#eeeeee"/><rect x="1128.3" y="1758.0" width="5.2" height="3.4" fill="#b6b6b6"/>
<rect x="1127.1" y="1779.4" width="7.6" height="6.8" fill="#eeeeee"/><rect x="1128.3" y="1781.1" width="5.2" height="3.4" fill="#b6b6b6"/>
<rect x="1127.1" y="1802.4" width="7.6" height="6.8" fill="#eeeeee"/><rect x="1128.3" y="1804.1" width="5.2" height="3.4" fill="#b6b6b6"/>
<rect x="1127.1" y="1825.5" width="7.6" height="6.8" fill="#eeeeee"/><rect x="1128.3" y="1827.2" width="5.2" height="3.4" fill="#b6b6b6"/>
<rect x="1127.1" y="1848.5" width="7.6" height="6.8" fill="#eeeeee"/><rect x="1128.3" y="1850.2" width="5.2" height="3.4" fill="#b6b6b6"/>
<rect x="1127.1" y="1871.6" width="7.6" height="6.8" fill="#eeeeee"/><rect x="1128.3" y="1873.3" width="5.2" height="3.4" fill="#b6b6b6"/>
<rect x="1127.1" y="1894.6" width="7.6" height="6.8" fill="#eeeeee"/><rect x="1128.3" y="1896.3" width="5.2" height="3.4" fill="#b6b6b6"/>
<rect x="1127.1" y="1917.7" width="7.6" height="6.8" fill="#eeeeee"/><rect x="1128.3" y="1919.4" width="5.2" height="3.4" fill="#b6b6b6"/>
<rect x="1127.1" y="1940.7" width="7.6" height="6.8" fill="#eeeeee"/><rect x="1128.3" y="1942.4" width="5.2" height="3.4" fill="#b6b6b6"/>
<rect x="1127.1" y="1963.8" width="7.6" height="6.8" fill="#eeeeee"/><rect x="1128.3" y="1965.5" width="5.2" height="3.4" fill="#b6b6b6"/>
<rect x="1127.1" y="1986.8" width="7.6" height="6.8" fill="#eeeeee"/><rect x="1128.3" y="1988.5" width="5.2" height="3.4" fill="#b6b6b6"/>
<rect x="1127.1" y="2009.8" width="7.6" height="6.8" fill="#eeeeee"/><rect x="1128.3" y="2011.5" width="5.2" height="3.4" fill="#b6b6b6"/>
<rect x="1127.1" y="2032.9" width="7.6" height="6.8" fill="#eeeeee"/><rect x="1128.3" y="2034.6" width="5.2" height="3.4" fill="#b6b6b6"/>
<rect x="1127.1" y="2055.9" width="7.6" height="6.8" fill="#eeeeee"/><rect x="1128.3" y="2057.6" width="5.2" height="3.4" fill="#b6b6b6"/>
<rect x="1127.1" y="2079.0" width="7.6" height="6.8" fill="#eeeeee"/><rect x="1128.3" y="2080.7" width="5.2" height="3.4" fill="#b6b6b6"/>
<rect x="1127.1" y="2102.0" width="7.6" height="6.8" fill="#eeeeee"/><rect x="1128.3" y="2103.7" width="5.2" height="3.4" fill="#b6b6b6"/>
<rect x="1127.1" y="2125.1" width="7.6" height="6.8" fill="#eeeeee"/><rect x="1128.3" y="2126.8" width="5.2" height="3.4" fill="#b6b6b6"/>
<rect x="1127.1" y="2148.1" width="7.6" height="6.8" fill="#eeeeee"/><rect x="1128.3" y="2149.8" width="5.2" height="3.4" fill="#b6b6b6"/>
<rect x="1127.1" y="2171.2" width="7.6" height="6.8" fill="#eeeeee"/><rect x="1128.3" y="2172.9" width="5.2" height="3.4" fill="#b6b6b6"/>
<rect x="1127.1" y="2194.2" width="7.6" height="6.8" fill="#eeeeee"/><rect x="1128.3" y="2195.9" width="5.2" height="3.4" fill="#b6b6b6"/>
<rect x="1127.1" y="2217.3" width="7.6" height="6.8" fill="#eeeeee"/><rect x="1128.3" y="2219.0" width="5.2" height="3.4" fill="#b6b6b6"/>
<rect x="977.8" y="50.9" width="7.6" height="6.8" fill="#eeeeee" opacity="0.35"/><rect x="979.0" y="52.6" width="5.2" height="3.4" fill="#b6b6b6" opacity="0.35"/>
<rect x="977.8" y="73.9" width="7.6" height="6.8" fill="#eeeeee"/><rect x="979.0" y="75.6" width="5.2" height="3.4" fill="#b6b6b6"/>
<rect x="977.8" y="96.9" width="7.6" height="6.8" fill="#eeeeee"/><rect x="979.0" y="98.6" width="5.2" height="3.4" fill="#b6b6b6"/>
<rect x="977.8" y="120.0" width="7.6" height="6.8" fill="#eeeeee"/><rect x="979.0" y="121.7" width="5.2" height="3.4" fill="#b6b6b6"/>
<rect x="977.8" y="143.0" width="7.6" height="6.8" fill="#eeeeee"/><rect x="979.0" y="144.7" width="5.2" height="3.4" fill="#b6b6b6"/>
<rect x="977.8" y="166.1" width="7.6" height="6.8" fill="#eeeeee"/><rect x="979.0" y="167.8" width="5.2" height="3.4" fill="#b6b6b6"/>
<rect x="977.8" y="189.1" width="7.6" height="6.8" fill="#eeeeee"/><rect x="979.0" y="190.8" width="5.2" height="3.4" fill="#b6b6b6"/>
<rect x="977.8" y="212.2" width="7.6" height="6.8" fill="#eeeeee"/><rect x="979.0" y="213.9" width="5.2" height="3.4" fill="#b6b6b6"/>
<rect x="977.8" y="235.2" width="7.6" height="6.8" fill="#eeeeee"/><rect x="979.0" y="236.9" width="5.2" height="3.4" fill="#b6b6b6"/>
<rect x="977.8" y="258.3" width="7.6" height="6.8" fill="#eeeeee"/><rect x="979.0" y="260.0" width="5.2" height="3.4" fill="#b6b6b6"/>
<rect x="977.8" y="281.3" width="7.6" height="6.8" fill="#eeeeee"/><rect x="979.0" y="283.0" width="5.2" height="3.4" fill="#b6b6b6"/>
<rect x="977.8" y="304.4" width="7.6" height="6.8" fill="#eeeeee"/><rect x="979.0" y="306.1" width="5.2" height="3.4" fill="#b6b6b6"/>
<rect x="977.8" y="327.4" width="7.6" height="6.8" fill="#eeeeee"/><rect x="979.0" y="329.1" width="5.2" height="3.4" fill="#b6b6b6"/>
<rect x="977.8" y="350.5" width="7.6" height="6.8" fill="#eeeeee"/><rect x="979.0" y="352.2" width="5.2" height="3.4" fill="#b6b6b6"/>
<rect x="977.8" y="373.5" width="7.6" height="6.8" fill="#eeeeee"/><rect x="979.0" y="375.2" width="5.2" height="3.4" fill="#b6b6b6"/>
<rect x="977.8" y="396.6" width="7.6" height="6.8" fill="#eeeeee"/><rect x="979.0" y="398.3" width="5.2" height="3.4" fill="#b6b6b6"/>
<rect x="977.8" y="419.6" width="7.6" height="6.8" fill="#eeeeee"/><rect x="979.0" y="421.3" width="5.2" height="3.4" fill="#b6b6b6"/>
<rect x="977.8" y="442.7" width="7.6" height="6.8" fill="#eeeeee"/><rect x="979.0" y="444.4" width="5.2" height="3.4" fill="#b6b6b6"/>
<rect x="977.8" y="465.7" width="7.6" height="6.8" fill="#eeeeee"/><rect x="979.0" y="467.4" width="5.2" height="3.4" fill="#b6b6b6"/>
<rect x="977.8" y="488.7" width="7.6" height="6.8" fill="#eeeeee"/><rect x="979.0" y="490.4" width="5.2" height="3.4" fill="#b6b6b6"/>
<rect x="977.8" y="511.8" width="7.6" height="6.8" fill="#eeeeee"/><rect x="979.0" y="513.5" width="5.2" height="3.4" fill="#b6b6b6"/>
<rect x="977.8" y="534.8" width="7.6" height="6.8" fill="#eeeeee"/><rect x="979.0" y="536.5" width="5.2" height="3.4" fill="#b6b6b6"/>
<rect x="977.8" y="557.9" width="7.6" height="6.8" fill="#eeeeee"/><rect x="979.0" y="559.6" width="5.2" height="3.4" fill="#b6b6b6"/>
<rect x="977.8" y="580.9" width="7.6" height="6.8" fill="#eeeeee"/><rect x="979.0" y="582.6" width="5.2" height="3.4" fill="#b6b6b6"/>
<rect x="977.8" y="604.0" width="7.6" height="6.8" fill="#eeeeee"/><rect x="979.0" y="605.7" width="5.2" height="3.4" fill="#b6b6b6"/>
<rect x="977.8" y="627.0" width="7.6" height="6.8" fill="#eeeeee"/><rect x="979.0" y="628.7" width="5.2" height="3.4" fill="#b6b6b6"/>
<rect x="977.8" y="650.1" width="7.6" height="6.8" fill="#eeeeee"/><rect x="979.0" y="651.8" width="5.2" height="3.4" fill="#b6b6b6"/>
<rect x="977.8" y="673.1" width="7.6" height="6.8" fill="#eeeeee"/><rect x="979.0" y="674.8" width="5.2" height="3.4" fill="#b6b6b6"/>
<rect x="977.8" y="696.2" width="7.6" height="6.8" fill="#eeeeee"/><rect x="979.0" y="697.9" width="5.2" height="3.4" fill="#b6b6b6"/>
<rect x="977.8" y="719.2" width="7.6" height="6.8" fill="#eeeeee"/><rect x="979.0" y="720.9" width="5.2" height="3.4" fill="#b6b6b6"/>
<rect x="977.8" y="742.3" width="7.6" height="6.8" fill="#eeeeee"/><rect x="979.0" y="744.0" width="5.2" height="3.4" fill="#b6b6b6"/>
<rect x="977.8" y="765.3" width="7.6" height="6.8" fill="#eeeeee"/><rect x="979.0" y="767.0" width="5.2" height="3.4" fill="#b6b6b6"/>
<rect x="977.8" y="788.4" width="7.6" height="6.8" fill="#eeeeee"/><rect x="979.0" y="790.1" width="5.2" height="3.4" fill="#b6b6b6"/>
<rect x="977.8" y="811.4" width="7.6" height="6.8" fill="#eeeeee"/><rect x="979.0" y="813.1" width="5.2" height="3.4" fill="#b6b6b6"/>
<rect x="977.8" y="834.5" width="7.6" height="6.8" fill="#eeeeee"/><rect x="979.0" y="836.2" width="5.2" height="3.4" fill="#b6b6b6"/>
<rect x="977.8" y="857.5" width="7.6" height="6.8" fill="#eeeeee"/><rect x="979.0" y="859.2" width="5.2" height="3.4" fill="#b6b6b6"/>
<rect x="977.8" y="880.5" width="7.6" height="6.8" fill="#eeeeee"/><rect x="979.0" y="882.2" width="5.2" height="3.4" fill="#b6b6b6"/>
<rect x="977.8" y="903.6" width="7.6" height="6.8" fill="#eeeeee"/><rect x="979.0" y="905.3" width="5.2" height="3.4" fill="#b6b6b6"/>
<rect x="977.8" y="926.6" width="7.6" height="6.8" fill="#eeeeee"/><rect x="979.0" y="928.3" width="5.2" height="3.4" fill="#b6b6b6"/>
<rect x="977.8" y="949.7" width="7.6" height="6.8" fill="#eeeeee"/><rect x="979.0" y="951.4" width="5.2" height="3.4" fill="#b6b6b6"/>
<rect x="977.8" y="972.7" width="7.6" height="6.8" fill="#eeeeee"/><rect x="979.0" y="974.4" width="5.2" height="3.4" fill="#b6b6b6"/>
<rect x="977.8" y="995.8" width="7.6" height="6.8" fill="#eeeeee"/><rect x="979.0" y="997.5" width="5.2" height="3.4" fill="#b6b6b6"/>
<rect x="977.8" y="1018.8" width="7.6" height="6.8" fill="#eeeeee"/><rect x="979.0" y="1020.5" width="5.2" height="3.4" fill="#b6b6b6"/>
<rect x="977.8" y="1041.9" width="7.6" height="6.8" fill="#eeeeee"/><rect x="979.0" y="1043.6" width="5.2" height="3.4" fill="#b6b6b6"/>
<rect x="977.8" y="1064.9" width="7.6" height="6.8" fill="#eeeeee"/><rect x="979.0" y="1066.6" width="5.2" height="3.4" fill="#b6b6b6"/>
<rect x="977.8" y="1088.0" width="7.6" height="6.8" fill="#eeeeee"/><rect x="979.0" y="1089.7" width="5.2" height="3.4" fill="#b6b6b6"/>
<rect x="977.8" y="1111.0" width="7.6" height="6.8" fill="#eeeeee"/><rect x="979.0" y="1112.7" width="5.2" height="3.4" fill="#b6b6b6"/>
<rect x="977.8" y="1134.1" width="7.6" height="6.8" fill="#eeeeee"/><rect x="979.0" y="1135.8" width="5.2" height="3.4" fill="#b6b6b6"/>
<rect x="977.8" y="1157.1" width="7.6" height="6.8" fill="#eeeeee"/><rect x="979.0" y="1158.8" width="5.2" height="3.4" fill="#b6b6b6"/>
<rect x="977.8" y="1180.2" width="7.6" height="6.8" fill="#eeeeee"/><rect x="979.0" y="1181.9" width="5.2" height="3.4" fill="#b6b6b6"/>
<rect x="977.8" y="1203.2" width="7.6" height="6.8" fill="#eeeeee"/><rect x="979.0" y="1204.9" width="5.2" height="3.4" fill="#b6b6b6"/>
<rect x="977.8" y="1226.2" width="7.6" height="6.8" fill="#eeeeee"/><rect x="979.0" y="1228.0" width="5.2" height="3.4" fill="#b6b6b6"/>
<rect x="977.8" y="1249.3" width="7.6" height="6.8" fill="#eeeeee"/><rect x="979.0" y="1251.0" width="5.2" height="3.4" fill="#b6b6b6"/>
<rect x="977.8" y="1272.3" width="7.6" height="6.8" fill="#eeeeee"/><rect x="979.0" y="1274.0" width="5.2" height="3.4" fill="#b6b6b6"/>
<rect x="977.8" y="1295.4" width="7.6" height="6.8" fill="#eeeeee"/><rect x="979.0" y="1297.1" width="5.2" height="3.4" fill="#b6b6b6"/>
<rect x="977.8" y="1318.4" width="7.6" height="6.8" fill="#eeeeee"/><rect x="979.0" y="1320.1" width="5.2" height="3.4" fill="#b6b6b6"/>
<rect x="977.8" y="1341.5" width="7.6" height="6.8" fill="#eeeeee"/><rect x="979.0" y="1343.2" width="5.2" height="3.4" fill="#b6b6b6"/>
<rect x="977.8" y="1364.5" width="7.6" height="6.8" fill="#eeeeee"/><rect x="979.0" y="1366.2" width="5.2" height="3.4" fill="#b6b6b6"/>
<rect x="977.8" y="1387.6" width="7.6" height="6.8" fill="#eeeeee"/><rect x="979.0" y="1389.3" width="5.2" height="3.4" fill="#b6b6b6"/>
<rect x="977.8" y="1410.6" width="7.6" height="6.8" fill="#eeeeee"/><rect x="979.0" y="1412.3" width="5.2" height="3.4" fill="#b6b6b6"/>
<rect x="977.8" y="1433.7" width="7.6" height="6.8" fill="#eeeeee"/><rect x="979.0" y="1435.4" width="5.2" height="3.4" fill="#b6b6b6"/>
<rect x="977.8" y="1456.7" width="7.6" height="6.8" fill="#eeeeee"/><rect x="979.0" y="1458.4" width="5.2" height="3.4" fill="#b6b6b6"/>
<rect x="977.8" y="1479.8" width="7.6" height="6.8" fill="#eeeeee"/><rect x="979.0" y="1481.5" width="5.2" height="3.4" fill="#b6b6b6"/>
<rect x="977.8" y="1502.8" width="7.6" height="6.8" fill="#eeeeee"/><rect x="979.0" y="1504.5" width="5.2" height="3.4" fill="#b6b6b6"/>
<rect x="977.8" y="1525.9" width="7.6" height="6.8" fill="#eeeeee"/><rect x="979.0" y="1527.6" width="5.2" height="3.4" fill="#b6b6b6"/>
<rect x="977.8" y="1548.9" width="7.6" height="6.8" fill="#eeeeee"/><rect x="979.0" y="1550.6" width="5.2" height="3.4" fill="#b6b6b6"/>
<rect x="977.8" y="1572.0" width="7.6" height="6.8" fill="#eeeeee"/><rect x="979.0" y="1573.7" width="5.2" height="3.4" fill="#b6b6b6"/>
<rect x="977.8" y="1595.0" width="7.6" height="6.8" fill="#eeeeee"/><rect x="979.0" y="1596.7" width="5.2" height="3.4" fill="#b6b6b6"/>
<rect x="977.8" y="1618.0" width="7.6" height="6.8" fill="#eeeeee"/><rect x="979.0" y="1619.7" width="5.2" height="3.4" fill="#b6b6b6"/>
<rect x="977.8" y="1641.1" width="7.6" height="6.8" fill="#eeeeee"/><rect x="979.0" y="1642.8" width="5.2" height="3.4" fill="#b6b6b6"/>
<rect x="977.8" y="1664.1" width="7.6" height="6.8" fill="#eeeeee"/><rect x="979.0" y="1665.8" width="5.2" height="3.4" fill="#b6b6b6"/>
<rect x="977.8" y="1687.2" width="7.6" height="6.8" fill="#eeeeee"/><rect x="979.0" y="1688.9" width="5.2" height="3.4" fill="#b6b6b6"/>
<rect x="977.8" y="1710.2" width="7.6" height="6.8" fill="#eeeeee"/><rect x="979.0" y="1711.9" width="5.2" height="3.4" fill="#b6b6b6"/>
<rect x="977.8" y="1733.3" width="7.6" height="6.8" fill="#eeeeee"/><rect x="979.0" y="1735.0" width="5.2" height="3.4" fill="#b6b6b6"/>
<rect x="977.8" y="1756.3" width="7.6" height="6.8" fill="#eeeeee"/><rect x="979.0" y="1758.0" width="5.2" height="3.4" fill="#b6b6b6"/>
<rect x="977.8" y="1779.4" width="7.6" height="6.8" fill="#eeeeee"/><rect x="979.0" y="1781.1" width="5.2" height="3.4" fill="#b6b6b6"/>
<rect x="977.8" y="1802.4" width="7.6" height="6.8" fill="#eeeeee"/><rect x="979.0" y="1804.1" width="5.2" height="3.4" fill="#b6b6b6"/>
<rect x="977.8" y="1825.5" width="7.6" height="6.8" fill="#eeeeee"/><rect x="979.0" y="1827.2" width="5.2" height="3.4" fill="#b6b6b6"/>
<rect x="977.8" y="1848.5" width="7.6" height="6.8" fill="#eeeeee"/><rect x="979.0" y="1850.2" width="5.2" height="3.4" fill="#b6b6b6"/>
<rect x="977.8" y="1871.6" width="7.6" height="6.8" fill="#eeeeee"/><rect x="979.0" y="1873.3" width="5.2" height="3.4" fill="#b6b6b6"/>
<rect x="977.8" y="1894.6" width="7.6" height="6.8" fill="#eeeeee"/><rect x="979.0" y="1896.3" width="5.2" height="3.4" fill="#b6b6b6"/>
<rect x="977.8" y="1917.7" width="7.6" height="6.8" fill="#eeeeee"/><rect x="979.0" y="1919.4" width="5.2" height="3.4" fill="#b6b6b6"/>
<rect x="977.8" y="1940.7" width="7.6" height="6.8" fill="#eeeeee"/><rect x="979.0" y="1942.4" width="5.2" height="3.4" fill="#b6b6b6"/>
<rect x="977.8" y="1963.8" width="7.6" height="6.8" fill="#eeeeee"/><rect x="979.0" y="1965.5" width="5.2" height="3.4" fill="#b6b6b6"/>
<rect x="977.8" y="1986.8" width="7.6" height="6.8" fill="#eeeeee"/><rect x="979.0" y="1988.5" width="5.2" height="3.4" fill="#b6b6b6"/>
<rect x="977.8" y="2009.8" width="7.6" height="6.8" fill="#eeeeee"/><rect x="979.0" y="2011.5" width="5.2" height="3.4" fill="#b6b6b6"/>
<rect x="977.8" y="2032.9" width="7.6" height="6.8" fill="#eeeeee"/><rect x="979.0" y="2034.6" width="5.2" height="3.4" fill="#b6b6b6"/>
<rect x="977.8" y="2055.9" width="7.6" height="6.8" fill="#eeeeee"/><rect x="979.0" y="2057.6" width="5.2" height="3.4" fill="#b6b6b6"/>
<rect x="977.8" y="2079.0" width="7.6" height="6.8" fill="#eeeeee"/><rect x="979.0" y="2080.7" width="5.2" height="3.4" fill="#b6b6b6"/>
<rect x="977.8" y="2102.0" width="7.6" height="6.8" fill="#eeeeee"/><rect x="979.0" y="2103.7" width="5.2" height="3.4" fill="#b6b6b6"/>
<rect x="977.8" y="2125.1" width="7.6" height="6.8" fill="#eeeeee"/><rect x="979.0" y="2126.8" width="5.2" height="3.4" fill="#b6b6b6"/>
<rect x="977.8" y="2148.1" width="7.6" height="6.8" fill="#eeeeee"/><rect x="979.0" y="2149.8" width="5.2" height="3.4" fill="#b6b6b6"/>
<rect x="977.8" y="2171.2" width="7.6" height="6.8" fill="#eeeeee"/><rect x="979.0" y="2172.9" width="5.2" height="3.4" fill="#b6b6b6"/>
<rect x="977.8" y="2194.2" width="7.6" height="6.8" fill="#eeeeee"/><rect x="979.0" y="2195.9" width="5.2" height="3.4" fill="#b6b6b6"/>
<rect x="977.8" y="2217.3" width="7.6" height="6.8" fill="#eeeeee"/><rect x="979.0" y="2219.0" width="5.2" height="3.4" fill="#b6b6b6"/>
<rect x="828.5" y="50.9" width="7.6" height="6.8" fill="#eeeeee" opacity="0.35"/><rect x="829.7" y="52.6" width="5.2" height="3.4" fill="#b6b6b6" opacity="0.35"/>
<rect x="828.5" y="73.9" width="7.6" height="6.8" fill="#eeeeee"/><rect x="829.7" y="75.6" width="5.2" height="3.4" fill="#b6b6b6"/>
<rect x="828.5" y="96.9" width="7.6" height="6.8" fill="#eeeeee"/><rect x="829.7" y="98.6" width="5.2" height="3.4" fill="#b6b6b6"/>
<rect x="828.5" y="120.0" width="7.6" height="6.8" fill="#eeeeee"/><rect x="829.7" y="121.7" width="5.2" height="3.4" fill="#b6b6b6"/>
<rect x="828.5" y="143.0" width="7.6" height="6.8" fill="#eeeeee"/><rect x="829.7" y="144.7" width="5.2" height="3.4" fill="#b6b6b6"/>
<rect x="828.5" y="166.1" width="7.6" height="6.8" fill="#eeeeee"/><rect x="829.7" y="167.8" width="5.2" height="3.4" fill="#b6b6b6"/>
<rect x="828.5" y="189.1" width="7.6" height="6.8" fill="#eeeeee"/><rect x="829.7" y="190.8" width="5.2" height="3.4" fill="#b6b6b6"/>
<rect x="828.5" y="212.2" width="7.6" height="6.8" fill="#eeeeee"/><rect x="829.7" y="213.9" width="5.2" height="3.4" fill="#b6b6b6"/>
<rect x="828.5" y="235.2" width="7.6" height="6.8" fill="#eeeeee"/><rect x="829.7" y="236.9" width="5.2" height="3.4" fill="#b6b6b6"/>
<rect x="828.5" y="258.3" width="7.6" height="6.8" fill="#eeeeee"/><rect x="829.7" y="260.0" width="5.2" height="3.4" fill="#b6b6b6"/>
<rect x="828.5" y="281.3" width="7.6" height="6.8" fill="#eeeeee"/><rect x="829.7" y="283.0" width="5.2" height="3.4" fill="#b6b6b6"/>
<rect x="828.5" y="304.4" width="7.6" height="6.8" fill="#eeeeee"/><rect x="829.7" y="306.1" width="5.2" height="3.4" fill="#b6b6b6"/>
<rect x="828.5" y="327.4" width="7.6" height="6.8" fill="#eeeeee"/><rect x="829.7" y="329.1" width="5.2" height="3.4" fill="#b6b6b6"/>
<rect x="828.5" y="350.5" width="7.6" height="6.8" fill="#eeeeee"/><rect x="829.7" y="352.2" width="5.2" height="3.4" fill="#b6b6b6"/>
<rect x="828.5" y="373.5" width="7.6" height="6.8" fill="#eeeeee"/><rect x="829.7" y="375.2" width="5.2" height="3.4" fill="#b6b6b6"/>
<rect x="828.5" y="396.6" width="7.6" height="6.8" fill="#eeeeee"/><rect x="829.7" y="398.3" width="5.2" height="3.4" fill="#b6b6b6"/>
<rect x="828.5" y="419.6" width="7.6" height="6.8" fill="#eeeeee"/><rect x="829.7" y="421.3" width="5.2" height="3.4" fill="#b6b6b6"/>
<rect x="828.5" y="442.7" width="7.6" height="6.8" fill="#eeeeee"/><rect x="829.7" y="444.4" width="5.2" height="3.4" fill="#b6b6b6"/>
<rect x="828.5" y="465.7" width="7.6" height="6.8" fill="#eeeeee"/><rect x="829.7" y="467.4" width="5.2" height="3.4" fill="#b6b6b6"/>
<rect x="828.5" y="488.7" width="7.6" height="6.8" fill="#eeeeee"/><rect x="829.7" y="490.4" width="5.2" height="3.4" fill="#b6b6b6"/>
<rect x="828.5" y="511.8" width="7.6" height="6.8" fill="#eeeeee"/><rect x="829.7" y="513.5" width="5.2" height="3.4" fill="#b6b6b6"/>
<rect x="828.5" y="534.8" width="7.6" height="6.8" fill="#eeeeee"/><rect x="829.7" y="536.5" width="5.2" height="3.4" fill="#b6b6b6"/>
<rect x="828.5" y="557.9" width="7.6" height="6.8" fill="#eeeeee"/><rect x="829.7" y="559.6" width="5.2" height="3.4" fill="#b6b6b6"/>
<rect x="828.5" y="580.9" width="7.6" height="6.8" fill="#eeeeee"/><rect x="829.7" y="582.6" width="5.2" height="3.4" fill="#b6b6b6"/>
<rect x="828.5" y="604.0" width="7.6" height="6.8" fill="#eeeeee"/><rect x="829.7" y="605.7" width="5.2" height="3.4" fill="#b6b6b6"/>
<rect x="828.5" y="627.0" width="7.6" height="6.8" fill="#eeeeee"/><rect x="829.7" y="628.7" width="5.2" height="3.4" fill="#b6b6b6"/>
<rect x="828.5" y="650.1" width="7.6" height="6.8" fill="#eeeeee"/><rect x="829.7" y="651.8" width="5.2" height="3.4" fill="#b6b6b6"/>
<rect x="828.5" y="673.1" width="7.6" height="6.8" fill="#eeeeee"/><rect x="829.7" y="674.8" width="5.2" height="3.4" fill="#b6b6b6"/>
<rect x="828.5" y="696.2" width="7.6" height="6.8" fill="#eeeeee"/><rect x="829.7" y="697.9" width="5.2" height="3.4" fill="#b6b6b6"/>
<rect x="828.5" y="719.2" width="7.6" height="6.8" fill="#eeeeee"/><rect x="829.7" y="720.9" width="5.2" height="3.4" fill="#b6b6b6"/>
<rect x="828.5" y="742.3" width="7.6" height="6.8" fill="#eeeeee"/><rect x="829.7" y="744.0" width="5.2" height="3.4" fill="#b6b6b6"/>
<rect x="828.5" y="765.3" width="7.6" height="6.8" fill="#eeeeee"/><rect x="829.7" y="767.0" width="5.2" height="3.4" fill="#b6b6b6"/>
<rect x="828.5" y="788.4" width="7.6" height="6.8" fill="#eeeeee"/><rect x="829.7" y="790.1" width="5.2" height="3.4" fill="#b6b6b6"/>
<rect x="828.5" y="811.4" width="7.6" height="6.8" fill="#eeeeee"/><rect x="829.7" y="813.1" width="5.2" height="3.4" fill="#b6b6b6"/>
<rect x="828.5" y="834.5" width="7.6" height="6.8" fill="#eeeeee"/><rect x="829.7" y="836.2" width="5.2" height="3.4" fill="#b6b6b6"/>
<rect x="828.5" y="857.5" width="7.6" height="6.8" fill="#eeeeee"/><rect x="829.7" y="859.2" width="5.2" height="3.4" fill="#b6b6b6"/>
<rect x="828.5" y="880.5" width="7.6" height="6.8" fill="#eeeeee"/><rect x="829.7" y="882.2" width="5.2" height="3.4" fill="#b6b6b6"/>
<rect x="828.5" y="903.6" width="7.6" height="6.8" fill="#eeeeee"/><rect x="829.7" y="905.3" width="5.2" height="3.4" fill="#b6b6b6"/>
<rect x="828.5" y="926.6" width="7.6" height="6.8" fill="#eeeeee"/><rect x="829.7" y="928.3" width="5.2" height="3.4" fill="#b6b6b6"/>
<rect x="828.5" y="949.7" width="7.6" height="6.8" fill="#eeeeee"/><rect x="829.7" y="951.4" width="5.2" height="3.4" fill="#b6b6b6"/>
<rect x="828.5" y="972.7" width="7.6" height="6.8" fill="#eeeeee"/><rect x="829.7" y="974.4" width="5.2" height="3.4" fill="#b6b6b6"/>
<rect x="828.5" y="995.8" width="7.6" height="6.8" fill="#eeeeee"/><rect x="829.7" y="997.5" width="5.2" height="3.4" fill="#b6b6b6"/>
<rect x="828.5" y="1018.8" width="7.6" height="6.8" fill="#eeeeee"/><rect x="829.7" y="1020.5" width="5.2" height="3.4" fill="#b6b6b6"/>
<rect x="828.5" y="1041.9" width="7.6" height="6.8" fill="#eeeeee"/><rect x="829.7" y="1043.6" width="5.2" height="3.4" fill="#b6b6b6"/>
<rect x="828.5" y="1064.9" width="7.6" height="6.8" fill="#eeeeee"/><rect x="829.7" y="1066.6" width="5.2" height="3.4" fill="#b6b6b6"/>
<rect x="828.5" y="1088.0" width="7.6" height="6.8" fill="#eeeeee"/><rect x="829.7" y="1089.7" width="5.2" height="3.4" fill="#b6b6b6"/>
<rect x="828.5" y="1111.0" width="7.6" height="6.8" fill="#eeeeee"/><rect x="829.7" y="1112.7" width="5.2" height="3.4" fill="#b6b6b6"/>
<rect x="828.5" y="1134.1" width="7.6" height="6.8" fill="#eeeeee"/><rect x="829.7" y="1135.8" width="5.2" height="3.4" fill="#b6b6b6"/>
<rect x="828.5" y="1157.1" width="7.6" height="6.8" fill="#eeeeee"/><rect x="829.7" y="1158.8" width="5.2" height="3.4" fill="#b6b6b6"/>
<rect x="828.5" y="1180.2" width="7.6" height="6.8" fill="#eeeeee"/><rect x="829.7" y="1181.9" width="5.2" height="3.4" fill="#b6b6b6"/>
<rect x="828.5" y="1203.2" width="7.6" height="6.8" fill="#eeeeee"/><rect x="829.7" y="1204.9" width="5.2" height="3.4" fill="#b6b6b6"/>
<rect x="828.5" y="1226.2" width="7.6" height="6.8" fill="#eeeeee"/><rect x="829.7" y="1228.0" width="5.2" height="3.4" fill="#b6b6b6"/>
<rect x="828.5" y="1249.3" width="7.6" height="6.8" fill="#eeeeee"/><rect x="829.7" y="1251.0" width="5.2" height="3.4" fill="#b6b6b6"/>
<rect x="828.5" y="1272.3" width="7.6" height="6.8" fill="#eeeeee"/><rect x="829.7" y="1274.0" width="5.2" height="3.4" fill="#b6b6b6"/>
<rect x="828.5" y="1295.4" width="7.6" height="6.8" fill="#eeeeee"/><rect x="829.7" y="1297.1" width="5.2" height="3.4" fill="#b6b6b6"/>
<rect x="828.5" y="1318.4" width="7.6" height="6.8" fill="#eeeeee"/><rect x="829.7" y="1320.1" width="5.2" height="3.4" fill="#b6b6b6"/>
<rect x="828.5" y="1341.5" width="7.6" height="6.8" fill="#eeeeee"/><rect x="829.7" y="1343.2" width="5.2" height="3.4" fill="#b6b6b6"/>
<rect x="828.5" y="1364.5" width="7.6" height="6.8" fill="#eeeeee"/><rect x="829.7" y="1366.2" width="5.2" height="3.4" fill="#b6b6b6"/>
<rect x="828.5" y="1387.6" width="7.6" height="6.8" fill="#eeeeee"/><rect x="829.7" y="1389.3" width="5.2" height="3.4" fill="#b6b6b6"/>
<rect x="828.5" y="1410.6" width="7.6" height="6.8" fill="#eeeeee"/><rect x="829.7" y="1412.3" width="5.2" height="3.4" fill="#b6b6b6"/>
<rect x="828.5" y="1433.7" width="7.6" height="6.8" fill="#eeeeee"/><rect x="829.7" y="1435.4" width="5.2" height="3.4" fill="#b6b6b6"/>
<rect x="828.5" y="1456.7" width="7.6" height="6.8" fill="#eeeeee"/><rect x="829.7" y="1458.4" width="5.2" height="3.4" fill="#b6b6b6"/>
<rect x="828.5" y="1479.8" width="7.6" height="6.8" fill="#eeeeee"/><rect x="829.7" y="1481.5" width="5.2" height="3.4" fill="#b6b6b6"/>
<rect x="828.5" y="1502.8" width="7.6" height="6.8" fill="#eeeeee"/><rect x="829.7" y="1504.5" width="5.2" height="3.4" fill="#b6b6b6"/>
<rect x="828.5" y="1525.9" width="7.6" height="6.8" fill="#eeeeee"/><rect x="829.7" y="1527.6" width="5.2" height="3.4" fill="#b6b6b6"/>
<rect x="828.5" y="1548.9" width="7.6" height="6.8" fill="#eeeeee"/><rect x="829.7" y="1550.6" width="5.2" height="3.4" fill="#b6b6b6"/>
<rect x="828.5" y="1572.0" width="7.6" height="6.8" fill="#eeeeee"/><rect x="829.7" y="1573.7" width="5.2" height="3.4" fill="#b6b6b6"/>
<rect x="828.5" y="1595.0" width="7.6" height="6.8" fill="#eeeeee"/><rect x="829.7" y="1596.7" width="5.2" height="3.4" fill="#b6b6b6"/>
<rect x="828.5" y="1618.0" width="7.6" height="6.8" fill="#eeeeee"/><rect x="829.7" y="1619.7" width="5.2" height="3.4" fill="#b6b6b6"/>
<rect x="828.5" y="1641.1" width="7.6" height="6.8" fill="#eeeeee"/><rect x="829.7" y="1642.8" width="5.2" height="3.4" fill="#b6b6b6"/>
<rect x="828.5" y="1664.1" width="7.6" height="6.8" fill="#eeeeee"/><rect x="829.7" y="1665.8" width="5.2" height="3.4" fill="#b6b6b6"/>
<rect x="828.5" y="1687.2" width="7.6" height="6.8" fill="#eeeeee"/><rect x="829.7" y="1688.9" width="5.2" height="3.4" fill="#b6b6b6"/>
<rect x="828.5" y="1710.2" width="7.6" height="6.8" fill="#eeeeee"/><rect x="829.7" y="1711.9" width="5.2" height="3.4" fill="#b6b6b6"/>
<rect x="828.5" y="1733.3" width="7.6" height="6.8" fill="#eeeeee"/><rect x="829.7" y="1735.0" width="5.2" height="3.4" fill="#b6b6b6"/>
<rect x="828.5" y="1756.3" width="7.6" height="6.8" fill="#eeeeee"/><rect x="829.7" y="1758.0" width="5.2" height="3.4" fill="#b6b6b6"/>
<rect x="828.5" y="1779.4" width="7.6" height="6.8" fill="#eeeeee"/><rect x="829.7" y="1781.1" width="5.2" height="3.4" fill="#b6b6b6"/>
<rect x="828.5" y="1802.4" width="7.6" height="6.8" fill="#eeeeee"/><rect x="829.7" y="1804.1" width="5.2" height="3.4" fill="#b6b6b6"/>
<rect x="828.5" y="1825.5" width="7.6" height="6.8" fill="#eeeeee"/><rect x="829.7" y="1827.2" width="5.2" height="3.4" fill="#b6b6b6"/>
<rect x="828.5" y="1848.5" width="7.6" height="6.8" fill="#eeeeee"/><rect x="829.7" y="1850.2" width="5.2" height="3.4" fill="#b6b6b6"/>
<rect x="828.5" y="1871.6" width="7.6" height="6.8" fill="#eeeeee"/><rect x="829.7" y="1873.3" width="5.2" height="3.4" fill="#b6b6b6"/>
<rect x="828.5" y="1894.6" width="7.6" height="6.8" fill="#eeeeee"/><rect x="829.7" y="1896.3" width="5.2" height="3.4" fill="#b6b6b6"/>
<rect x="828.5" y="1917.7" width="7.6" height="6.8" fill="#eeeeee"/><rect x="829.7" y="1919.4" width="5.2" height="3.4" fill="#b6b6b6"/>
<rect x="828.5" y="1940.7" width="7.6" height="6.8" fill="#eeeeee"/><rect x="829.7" y="1942.4" width="5.2" height="3.4" fill="#b6b6b6"/>
<rect x="828.5" y="1963.8" width="7.6" height="6.8" fill="#eeeeee"/><rect x="829.7" y="1965.5" width="5.2" height="3.4" fill="#b6b6b6"/>
<rect x="828.5" y="1986.8" width="7.6" height="6.8" fill="#eeeeee"/><rect x="829.7" y="1988.5" width="5.2" height="3.4" fill="#b6b6b6"/>
<rect x="828.5" y="2009.8" width="7.6" height="6.8" fill="#eeeeee"/><rect x="829.7" y="2011.5" width="5.2" height="3.4" fill="#b6b6b6"/>
<rect x="828.5" y="2032.9" width="7.6" height="6.8" fill="#eeeeee"/><rect x="829.7" y="2034.6" width="5.2" height="3.4" fill="#b6b6b6"/>
<rect x="828.5" y="2055.9" width="7.6" height="6.8" fill="#eeeeee"/><rect x="829.7" y="2057.6" width="5.2" height="3.4" fill="#b6b6b6"/>
<rect x="828.5" y="2079.0" width="7.6" height="6.8" fill="#eeeeee"/><rect x="829.7" y="2080.7" width="5.2" height="3.4" fill="#b6b6b6"/>
<rect x="828.5" y="2102.0" width="7.6" height="6.8" fill="#eeeeee"/><rect x="829.7" y="2103.7" width="5.2" height="3.4" fill="#b6b6b6"/>
<rect x="828.5" y="2125.1" width="7.6" height="6.8" fill="#eeeeee"/><rect x="829.7" y="2126.8" width="5.2" height="3.4" fill="#b6b6b6"/>
<rect x="828.5" y="2148.1" width="7.6" height="6.8" fill="#eeeeee"/><rect x="829.7" y="2149.8" width="5.2" height="3.4" fill="#b6b6b6"/>
<rect x="828.5" y="2171.2" width="7.6" height="6.8" fill="#eeeeee"/><rect x="829.7" y="2172.9" width="5.2" height="3.4" fill="#b6b6b6"/>
<rect x="828.5" y="2194.2" width="7.6" height="6.8" fill="#eeeeee"/><rect x="829.7" y="2195.9" width="5.2" height="3.4" fill="#b6b6b6"/>
<rect x="828.5" y="2217.3" width="7.6" height="6.8" fill="#eeeeee"/><rect x="829.7" y="2219.0" width="5.2" height="3.4" fill="#b6b6b6"/>
<rect x="679.2" y="50.9" width="7.6" height="6.8" fill="#eeeeee" opacity="0.35"/><rect x="680.4" y="52.6" width="5.2" height="3.4" fill="#b6b6b6" opacity="0.35"/>
<rect x="679.2" y="73.9" width="7.6" height="6.8" fill="#eeeeee"/><rect x="680.4" y="75.6" width="5.2" height="3.4" fill="#b6b6b6"/>
<rect x="679.2" y="96.9" width="7.6" height="6.8" fill="#eeeeee"/><rect x="680.4" y="98.6" width="5.2" height="3.4" fill="#b6b6b6"/>
<rect x="679.2" y="120.0" width="7.6" height="6.8" fill="#eeeeee"/><rect x="680.4" y="121.7" width="5.2" height="3.4" fill="#b6b6b6"/>
<rect x="679.2" y="143.0" width="7.6" height="6.8" fill="#eeeeee"/><rect x="680.4" y="144.7" width="5.2" height="3.4" fill="#b6b6b6"/>
<rect x="679.2" y="166.1" width="7.6" height="6.8" fill="#eeeeee"/><rect x="680.4" y="167.8" width="5.2" height="3.4" fill="#b6b6b6"/>
<rect x="679.2" y="189.1" width="7.6" height="6.8" fill="#eeeeee"/><rect x="680.4" y="190.8" width="5.2" height="3.4" fill="#b6b6b6"/>
<rect x="679.2" y="212.2" width="7.6" height="6.8" fill="#eeeeee"/><rect x="680.4" y="213.9" width="5.2" height="3.4" fill="#b6b6b6"/>
<rect x="679.2" y="235.2" width="7.6" height="6.8" fill="#eeeeee"/><rect x="680.4" y="236.9" width="5.2" height="3.4" fill="#b6b6b6"/>
<rect x="679.2" y="258.3" width="7.6" height="6.8" fill="#eeeeee"/><rect x="680.4" y="260.0" width="5.2" height="3.4" fill="#b6b6b6"/>
<rect x="679.2" y="281.3" width="7.6" height="6.8" fill="#eeeeee"/><rect x="680.4" y="283.0" width="5.2" height="3.4" fill="#b6b6b6"/>
<rect x="679.2" y="304.4" width="7.6" height="6.8" fill="#eeeeee"/><rect x="680.4" y="306.1" width="5.2" height="3.4" fill="#b6b6b6"/>
<rect x="679.2" y="327.4" width="7.6" height="6.8" fill="#eeeeee"/><rect x="680.4" y="329.1" width="5.2" height="3.4" fill="#b6b6b6"/>
<rect x="679.2" y="350.5" width="7.6" height="6.8" fill="#eeeeee"/><rect x="680.4" y="352.2" width="5.2" height="3.4" fill="#b6b6b6"/>
<rect x="679.2" y="373.5" width="7.6" height="6.8" fill="#eeeeee"/><rect x="680.4" y="375.2" width="5.2" height="3.4" fill="#b6b6b6"/>
<rect x="679.2" y="396.6" width="7.6" height="6.8" fill="#eeeeee"/><rect x="680.4" y="398.3" width="5.2" height="3.4" fill="#b6b6b6"/>
<rect x="679.2" y="419.6" width="7.6" height="6.8" fill="#eeeeee"/><rect x="680.4" y="421.3" width="5.2" height="3.4" fill="#b6b6b6"/>
<rect x="679.2" y="442.7" width="7.6" height="6.8" fill="#eeeeee"/><rect x="680.4" y="444.4" width="5.2" height="3.4" fill="#b6b6b6"/>
<rect x="679.2" y="465.7" width="7.6" height="6.8" fill="#eeeeee"/><rect x="680.4" y="467.4" width="5.2" height="3.4" fill="#b6b6b6"/>
<rect x="679.2" y="488.7" width="7.6" height="6.8" fill="#eeeeee"/><rect x="680.4" y="490.4" width="5.2" height="3.4" fill="#b6b6b6"/>
<rect x="679.2" y="511.8" width="7.6" height="6.8" fill="#eeeeee"/><rect x="680.4" y="513.5" width="5.2" height="3.4" fill="#b6b6b6"/>
<rect x="679.2" y="534.8" width="7.6" height="6.8" fill="#eeeeee"/><rect x="680.4" y="536.5" width="5.2" height="3.4" fill="#b6b6b6"/>
<rect x="679.2" y="557.9" width="7.6" height="6.8" fill="#eeeeee"/><rect x="680.4" y="559.6" width="5.2" height="3.4" fill="#b6b6b6"/>
<rect x="679.2" y="580.9" width="7.6" height="6.8" fill="#eeeeee"/><rect x="680.4" y="582.6" width="5.2" height="3.4" fill="#b6b6b6"/>
<rect x="679.2" y="604.0" width="7.6" height="6.8" fill="#eeeeee"/><rect x="680.4" y="605.7" width="5.2" height="3.4" fill="#b6b6b6"/>
<rect x="679.2" y="627.0" width="7.6" height="6.8" fill="#eeeeee"/><rect x="680.4" y="628.7" width="5.2" height="3.4" fill="#b6b6b6"/>
<rect x="679.2" y="650.1" width="7.6" height="6.8" fill="#eeeeee"/><rect x="680.4" y="651.8" width="5.2" height="3.4" fill="#b6b6b6"/>
<rect x="679.2" y="673.1" width="7.6" height="6.8" fill="#eeeeee"/><rect x="680.4" y="674.8" width="5.2" height="3.4" fill="#b6b6b6"/>
<rect x="679.2" y="696.2" width="7.6" height="6.8" fill="#eeeeee"/><rect x="680.4" y="697.9" width="5.2" height="3.4" fill="#b6b6b6"/>
<rect x="679.2" y="719.2" width="7.6" height="6.8" fill="#eeeeee"/><rect x="680.4" y="720.9" width="5.2" height="3.4" fill="#b6b6b6"/>
<rect x="679.2" y="742.3" width="7.6" height="6.8" fill="#eeeeee"/><rect x="680.4" y="744.0" width="5.2" height="3.4" fill="#b6b6b6"/>
<rect x="679.2" y="765.3" width="7.6" height="6.8" fill="#eeeeee"/><rect x="680.4" y="767.0" width="5.2" height="3.4" fill="#b6b6b6"/>
<rect x="679.2" y="788.4" width="7.6" height="6.8" fill="#eeeeee"/><rect x="680.4" y="790.1" width="5.2" height="3.4" fill="#b6b6b6"/>
<rect x="679.2" y="811.4" width="7.6" height="6.8" fill="#eeeeee"/><rect x="680.4" y="813.1" width="5.2" height="3.4" fill="#b6b6b6"/>
<rect x="679.2" y="834.5" width="7.6" height="6.8" fill="#eeeeee"/><rect x="680.4" y="836.2" width="5.2" height="3.4" fill="#b6b6b6"/>
<rect x="679.2" y="857.5" width="7.6" height="6.8" fill="#eeeeee"/><rect x="680.4" y="859.2" width="5.2" height="3.4" fill="#b6b6b6"/>
<rect x="679.2" y="880.5" width="7.6" height="6.8" fill="#eeeeee"/><rect x="680.4" y="882.2" width="5.2" height="3.4" fill="#b6b6b6"/>
<rect x="679.2" y="903.6" width="7.6" height="6.8" fill="#eeeeee"/><rect x="680.4" y="905.3" width="5.2" height="3.4" fill="#b6b6b6"/>
<rect x="679.2" y="926.6" width="7.6" height="6.8" fill="#eeeeee"/><rect x="680.4" y="928.3" width="5.2" height="3.4" fill="#b6b6b6"/>
<rect x="679.2" y="949.7" width="7.6" height="6.8" fill="#eeeeee"/><rect x="680.4" y="951.4" width="5.2" height="3.4" fill="#b6b6b6"/>
<rect x="679.2" y="972.7" width="7.6" height="6.8" fill="#eeeeee"/><rect x="680.4" y="974.4" width="5.2" height="3.4" fill="#b6b6b6"/>
<rect x="679.2" y="995.8" width="7.6" height="6.8" fill="#eeeeee"/><rect x="680.4" y="997.5" width="5.2" height="3.4" fill="#b6b6b6"/>
<rect x="679.2" y="1018.8" width="7.6" height="6.8" fill="#eeeeee"/><rect x="680.4" y="1020.5" width="5.2" height="3.4" fill="#b6b6b6"/>
<rect x="679.2" y="1041.9" width="7.6" height="6.8" fill="#eeeeee"/><rect x="680.4" y="1043.6" width="5.2" height="3.4" fill="#b6b6b6"/>
<rect x="679.2" y="1064.9" width="7.6" height="6.8" fill="#eeeeee"/><rect x="680.4" y="1066.6" width="5.2" height="3.4" fill="#b6b6b6"/>
<rect x="679.2" y="1088.0" width="7.6" height="6.8" fill="#eeeeee"/><rect x="680.4" y="1089.7" width="5.2" height="3.4" fill="#b6b6b6"/>
<rect x="679.2" y="1111.0" width="7.6" height="6.8" fill="#eeeeee"/><rect x="680.4" y="1112.7" width="5.2" height="3.4" fill="#b6b6b6"/>
<rect x="679.2" y="1134.1" width="7.6" height="6.8" fill="#eeeeee"/><rect x="680.4" y="1135.8" width="5.2" height="3.4" fill="#b6b6b6"/>
<rect x="679.2" y="1157.1" width="7.6" height="6.8" fill="#eeeeee"/><rect x="680.4" y="1158.8" width="5.2" height="3.4" fill="#b6b6b6"/>
<rect x="679.2" y="1180.2" width="7.6" height="6.8" fill="#eeeeee"/><rect x="680.4" y="1181.9" width="5.2" height="3.4" fill="#b6b6b6"/>
<rect x="679.2" y="1203.2" width="7.6" height="6.8" fill="#eeeeee"/><rect x="680.4" y="1204.9" width="5.2" height="3.4" fill="#b6b6b6"/>
<rect x="679.2" y="1226.2" width="7.6" height="6.8" fill="#eeeeee"/><rect x="680.4" y="1228.0" width="5.2" height="3.4" fill="#b6b6b6"/>
<rect x="679.2" y="1249.3" width="7.6" height="6.8" fill="#eeeeee"/><rect x="680.4" y="1251.0" width="5.2" height="3.4" fill="#b6b6b6"/>
<rect x="679.2" y="1272.3" width="7.6" height="6.8" fill="#eeeeee"/><rect x="680.4" y="1274.0" width="5.2" height="3.4" fill="#b6b6b6"/>
<rect x="679.2" y="1295.4" width="7.6" height="6.8" fill="#eeeeee"/><rect x="680.4" y="1297.1" width="5.2" height="3.4" fill="#b6b6b6"/>
<rect x="679.2" y="1318.4" width="7.6" height="6.8" fill="#eeeeee"/><rect x="680.4" y="1320.1" width="5.2" height="3.4" fill="#b6b6b6"/>
<rect x="679.2" y="1341.5" width="7.6" height="6.8" fill="#eeeeee"/><rect x="680.4" y="1343.2" width="5.2" height="3.4" fill="#b6b6b6"/>
<rect x="679.2" y="1364.5" width="7.6" height="6.8" fill="#eeeeee"/><rect x="680.4" y="1366.2" width="5.2" height="3.4" fill="#b6b6b6"/>
<rect x="679.2" y="1387.6" width="7.6" height="6.8" fill="#eeeeee"/><rect x="680.4" y="1389.3" width="5.2" height="3.4" fill="#b6b6b6"/>
<rect x="679.2" y="1410.6" width="7.6" height="6.8" fill="#eeeeee"/><rect x="680.4" y="1412.3" width="5.2" height="3.4" fill="#b6b6b6"/>
<rect x="679.2" y="1433.7" width="7.6" height="6.8" fill="#eeeeee"/><rect x="680.4" y="1435.4" width="5.2" height="3.4" fill="#b6b6b6"/>
<rect x="679.2" y="1456.7" width="7.6" height="6.8" fill="#eeeeee"/><rect x="680.4" y="1458.4" width="5.2" height="3.4" fill="#b6b6b6"/>
<rect x="679.2" y="1479.8" width="7.6" height="6.8" fill="#eeeeee"/><rect x="680.4" y="1481.5" width="5.2" height="3.4" fill="#b6b6b6"/>
<rect x="679.2" y="1502.8" width="7.6" height="6.8" fill="#eeeeee"/><rect x="680.4" y="1504.5" width="5.2" height="3.4" fill="#b6b6b6"/>
<rect x="679.2" y="1525.9" width="7.6" height="6.8" fill="#eeeeee"/><rect x="680.4" y="1527.6" width="5.2" height="3.4" fill="#b6b6b6"/>
<rect x="679.2" y="1548.9" width="7.6" height="6.8" fill="#eeeeee"/><rect x="680.4" y="1550.6" width="5.2" height="3.4" fill="#b6b6b6"/>
<rect x="679.2" y="1572.0" width="7.6" height="6.8" fill="#eeeeee"/><rect x="680.4" y="1573.7" width="5.2" height="3.4" fill="#b6b6b6"/>
<rect x="679.2" y="1595.0" width="7.6" height="6.8" fill="#eeeeee"/><rect x="680.4" y="1596.7" width="5.2" height="3.4" fill="#b6b6b6"/>
<rect x="679.2" y="1618.0" width="7.6" height="6.8" fill="#eeeeee"/><rect x="680.4" y="1619.7" width="5.2" height="3.4" fill="#b6b6b6"/>
<rect x="679.2" y="1641.1" width="7.6" height="6.8" fill="#eeeeee"/><rect x="680.4" y="1642.8" width="5.2" height="3.4" fill="#b6b6b6"/>
<rect x="679.2" y="1664.1" width="7.6" height="6.8" fill="#eeeeee"/><rect x="680.4" y="1665.8" width="5.2" height="3.4" fill="#b6b6b6"/>
<rect x="679.2" y="1687.2" width="7.6" height="6.8" fill="#eeeeee"/><rect x="680.4" y="1688.9" width="5.2" height="3.4" fill="#b6b6b6"/>
<rect x="679.2" y="1710.2" width="7.6" height="6.8" fill="#eeeeee"/><rect x="680.4" y="1711.9" width="5.2" height="3.4" fill="#b6b6b6"/>
<rect x="679.2" y="1733.3" width="7.6" height="6.8" fill="#eeeeee"/><rect x="680.4" y="1735.0" width="5.2" height="3.4" fill="#b6b6b6"/>
<rect x="679.2" y="1756.3" width="7.6" height="6.8" fill="#eeeeee"/><rect x="680.4" y="1758.0" width="5.2" height="3.4" fill="#b6b6b6"/>
<rect x="679.2" y="1779.4" width="7.6" height="6.8" fill="#eeeeee"/><rect x="680.4" y="1781.1" width="5.2" height="3.4" fill="#b6b6b6"/>
<rect x="679.2" y="1802.4" width="7.6" height="6.8" fill="#eeeeee"/><rect x="680.4" y="1804.1" width="5.2" height="3.4" fill="#b6b6b6"/>
<rect x="679.2" y="1825.5" width="7.6" height="6.8" fill="#eeeeee"/><rect x="680.4" y="1827.2" width="5.2" height="3.4" fill="#b6b6b6"/>
<rect x="679.2" y="1848.5" width="7.6" height="6.8" fill="#eeeeee"/><rect x="680.4" y="1850.2" width="5.2" height="3.4" fill="#b6b6b6"/>
<rect x="679.2" y="1871.6" width="7.6" height="6.8" fill="#eeeeee"/><rect x="680.4" y="1873.3" width="5.2" height="3.4" fill="#b6b6b6"/>
<rect x="679.2" y="1894.6" width="7.6" height="6.8" fill="#eeeeee"/><rect x="680.4" y="1896.3" width="5.2" height="3.4" fill="#b6b6b6"/>
<rect x="679.2" y="1917.7" width="7.6" height="6.8" fill="#eeeeee"/><rect x="680.4" y="1919.4" width="5.2" height="3.4" fill="#b6b6b6"/>
<rect x="679.2" y="1940.7" width="7.6" height="6.8" fill="#eeeeee"/><rect x="680.4" y="1942.4" width="5.2" height="3.4" fill="#b6b6b6"/>
<rect x="679.2" y="1963.8" width="7.6" height="6.8" fill="#eeeeee"/><rect x="680.4" y="1965.5" width="5.2" height="3.4" fill="#b6b6b6"/>
<rect x="679.2" y="1986.8" width="7.6" height="6.8" fill="#eeeeee"/><rect x="680.4" y="1988.5" width="5.2" height="3.4" fill="#b6b6b6"/>
<rect x="679.2" y="2009.8" width="7.6" height="6.8" fill="#eeeeee"/><rect x="680.4" y="2011.5" width="5.2" height="3.4" fill="#b6b6b6"/>
<rect x="679.2" y="2032.9" width="7.6" height="6.8" fill="#eeeeee"/><rect x="680.4" y="2034.6" width="5.2" height="3.4" fill="#b6b6b6"/>
<rect x="679.2" y="2055.9" width="7.6" height="6.8" fill="#eeeeee"/><rect x="680.4" y="2057.6" width="5.2" height="3.4" fill="#b6b6b6"/>
<rect x="679.2" y="2079.0" width="7.6" height="6.8" fill="#eeeeee"/><rect x="680.4" y="2080.7" width="5.2" height="3.4" fill="#b6b6b6"/>
<rect x="679.2" y="2102.0" width="7.6" height="6.8" fill="#eeeeee"/><rect x="680.4" y="2103.7" width="5.2" height="3.4" fill="#b6b6b6"/>
<rect x="679.2" y="2125.1" width="7.6" height="6.8" fill="#eeeeee"/><rect x="680.4" y="2126.8" width="5.2" height="3.4" fill="#b6b6b6"/>
<rect x="679.2" y="2148.1" width="7.6" height="6.8" fill="#eeeeee"/><rect x="680.4" y="2149.8" width="5.2" height="3.4" fill="#b6b6b6"/>
<rect x="679.2" y="2171.2" width="7.6" height="6.8" fill="#eeeeee"/><rect x="680.4" y="2172.9" width="5.2" height="3.4" fill="#b6b6b6"/>
<rect x="679.2" y="2194.2" width="7.6" height="6.8" fill="#eeeeee"/><rect x="680.4" y="2195.9" width="5.2" height="3.4" fill="#b6b6b6"/>
<rect x="679.2" y="2217.3" width="7.6" height="6.8" fill="#eeeeee"/><rect x="680.4" y="2219.0" width="5.2" height="3.4" fill="#b6b6b6"/>
<rect x="530.0" y="50.9" width="7.6" height="6.8" fill="#eeeeee" opacity="0.35"/><rect x="531.2" y="52.6" width="5.2" height="3.4" fill="#b6b6b6" opacity="0.35"/>
<rect x="530.0" y="73.9" width="7.6" height="6.8" fill="#eeeeee"/><rect x="531.2" y="75.6" width="5.2" height="3.4" fill="#b6b6b6"/>
<rect x="530.0" y="96.9" width="7.6" height="6.8" fill="#eeeeee"/><rect x="531.2" y="98.6" width="5.2" height="3.4" fill="#b6b6b6"/>
<rect x="530.0" y="120.0" width="7.6" height="6.8" fill="#eeeeee"/><rect x="531.2" y="121.7" width="5.2" height="3.4" fill="#b6b6b6"/>
<rect x="530.0" y="143.0" width="7.6" height="6.8" fill="#eeeeee"/><rect x="531.2" y="144.7" width="5.2" height="3.4" fill="#b6b6b6"/>
<rect x="530.0" y="166.1" width="7.6" height="6.8" fill="#eeeeee"/><rect x="531.2" y="167.8" width="5.2" height="3.4" fill="#b6b6b6"/>
<rect x="530.0" y="189.1" width="7.6" height="6.8" fill="#eeeeee"/><rect x="531.2" y="190.8" width="5.2" height="3.4" fill="#b6b6b6"/>
<rect x="530.0" y="212.2" width="7.6" height="6.8" fill="#eeeeee"/><rect x="531.2" y="213.9" width="5.2" height="3.4" fill="#b6b6b6"/>
<rect x="530.0" y="235.2" width="7.6" height="6.8" fill="#eeeeee"/><rect x="531.2" y="236.9" width="5.2" height="3.4" fill="#b6b6b6"/>
<rect x="530.0" y="258.3" width="7.6" height="6.8" fill="#eeeeee"/><rect x="531.2" y="260.0" width="5.2" height="3.4" fill="#b6b6b6"/>
<rect x="530.0" y="281.3" width="7.6" height="6.8" fill="#eeeeee"/><rect x="531.2" y="283.0" width="5.2" height="3.4" fill="#b6b6b6"/>
<rect x="530.0" y="304.4" width="7.6" height="6.8" fill="#eeeeee"/><rect x="531.2" y="306.1" width="5.2" height="3.4" fill="#b6b6b6"/>
<rect x="530.0" y="327.4" width="7.6" height="6.8" fill="#eeeeee"/><rect x="531.2" y="329.1" width="5.2" height="3.4" fill="#b6b6b6"/>
<rect x="530.0" y="350.5" width="7.6" height="6.8" fill="#eeeeee"/><rect x="531.2" y="352.2" width="5.2" height="3.4" fill="#b6b6b6"/>
<rect x="530.0" y="373.5" width="7.6" height="6.8" fill="#eeeeee"/><rect x="531.2" y="375.2" width="5.2" height="3.4" fill="#b6b6b6"/>
<rect x="530.0" y="396.6" width="7.6" height="6.8" fill="#eeeeee"/><rect x="531.2" y="398.3" width="5.2" height="3.4" fill="#b6b6b6"/>
<rect x="530.0" y="419.6" width="7.6" height="6.8" fill="#eeeeee"/><rect x="531.2" y="421.3" width="5.2" height="3.4" fill="#b6b6b6"/>
<rect x="530.0" y="442.7" width="7.6" height="6.8" fill="#eeeeee"/><rect x="531.2" y="444.4" width="5.2" height="3.4" fill="#b6b6b6"/>
<rect x="530.0" y="465.7" width="7.6" height="6.8" fill="#eeeeee"/><rect x="531.2" y="467.4" width="5.2" height="3.4" fill="#b6b6b6"/>
<rect x="530.0" y="488.7" width="7.6" height="6.8" fill="#eeeeee"/><rect x="531.2" y="490.4" width="5.2" height="3.4" fill="#b6b6b6"/>
<rect x="530.0" y="511.8" width="7.6" height="6.8" fill="#eeeeee"/><rect x="531.2" y="513.5" width="5.2" height="3.4" fill="#b6b6b6"/>
<rect x="530.0" y="534.8" width="7.6" height="6.8" fill="#eeeeee"/><rect x="531.2" y="536.5" width="5.2" height="3.4" fill="#b6b6b6"/>
<rect x="530.0" y="557.9" width="7.6" height="6.8" fill="#eeeeee"/><rect x="531.2" y="559.6" width="5.2" height="3.4" fill="#b6b6b6"/>
<rect x="530.0" y="580.9" width="7.6" height="6.8" fill="#eeeeee"/><rect x="531.2" y="582.6" width="5.2" height="3.4" fill="#b6b6b6"/>
<rect x="530.0" y="604.0" width="7.6" height="6.8" fill="#eeeeee"/><rect x="531.2" y="605.7" width="5.2" height="3.4" fill="#b6b6b6"/>
<rect x="530.0" y="627.0" width="7.6" height="6.8" fill="#eeeeee"/><rect x="531.2" y="628.7" width="5.2" height="3.4" fill="#b6b6b6"/>
<rect x="530.0" y="650.1" width="7.6" height="6.8" fill="#eeeeee"/><rect x="531.2" y="651.8" width="5.2" height="3.4" fill="#b6b6b6"/>
<rect x="530.0" y="673.1" width="7.6" height="6.8" fill="#eeeeee"/><rect x="531.2" y="674.8" width="5.2" height="3.4" fill="#b6b6b6"/>
<rect x="530.0" y="696.2" width="7.6" height="6.8" fill="#eeeeee"/><rect x="531.2" y="697.9" width="5.2" height="3.4" fill="#b6b6b6"/>
<rect x="530.0" y="719.2" width="7.6" height="6.8" fill="#eeeeee"/><rect x="531.2" y="720.9" width="5.2" height="3.4" fill="#b6b6b6"/>
<rect x="530.0" y="742.3" width="7.6" height="6.8" fill="#eeeeee"/><rect x="531.2" y="744.0" width="5.2" height="3.4" fill="#b6b6b6"/>
<rect x="530.0" y="765.3" width="7.6" height="6.8" fill="#eeeeee"/><rect x="531.2" y="767.0" width="5.2" height="3.4" fill="#b6b6b6"/>
<rect x="530.0" y="788.4" width="7.6" height="6.8" fill="#eeeeee"/><rect x="531.2" y="790.1" width="5.2" height="3.4" fill="#b6b6b6"/>
<rect x="530.0" y="811.4" width="7.6" height="6.8" fill="#eeeeee"/><rect x="531.2" y="813.1" width="5.2" height="3.4" fill="#b6b6b6"/>
<rect x="530.0" y="834.5" width="7.6" height="6.8" fill="#eeeeee"/><rect x="531.2" y="836.2" width="5.2" height="3.4" fill="#b6b6b6"/>
<rect x="530.0" y="857.5" width="7.6" height="6.8" fill="#eeeeee"/><rect x="531.2" y="859.2" width="5.2" height="3.4" fill="#b6b6b6"/>
<rect x="530.0" y="880.5" width="7.6" height="6.8" fill="#eeeeee"/><rect x="531.2" y="882.2" width="5.2" height="3.4" fill="#b6b6b6"/>
<rect x="530.0" y="903.6" width="7.6" height="6.8" fill="#eeeeee"/><rect x="531.2" y="905.3" width="5.2" height="3.4" fill="#b6b6b6"/>
<rect x="530.0" y="926.6" width="7.6" height="6.8" fill="#eeeeee"/><rect x="531.2" y="928.3" width="5.2" height="3.4" fill="#b6b6b6"/>
<rect x="530.0" y="949.7" width="7.6" height="6.8" fill="#eeeeee"/><rect x="531.2" y="951.4" width="5.2" height="3.4" fill="#b6b6b6"/>
<rect x="530.0" y="972.7" width="7.6" height="6.8" fill="#eeeeee"/><rect x="531.2" y="974.4" width="5.2" height="3.4" fill="#b6b6b6"/>
<rect x="530.0" y="995.8" width="7.6" height="6.8" fill="#eeeeee"/><rect x="531.2" y="997.5" width="5.2" height="3.4" fill="#b6b6b6"/>
<rect x="530.0" y="1018.8" width="7.6" height="6.8" fill="#eeeeee"/><rect x="531.2" y="1020.5" width="5.2" height="3.4" fill="#b6b6b6"/>
<rect x="530.0" y="1041.9" width="7.6" height="6.8" fill="#eeeeee"/><rect x="531.2" y="1043.6" width="5.2" height="3.4" fill="#b6b6b6"/>
<rect x="530.0" y="1064.9" width="7.6" height="6.8" fill="#eeeeee"/><rect x="531.2" y="1066.6" width="5.2" height="3.4" fill="#b6b6b6"/>
<rect x="530.0" y="1088.0" width="7.6" height="6.8" fill="#eeeeee"/><rect x="531.2" y="1089.7" width="5.2" height="3.4" fill="#b6b6b6"/>
<rect x="530.0" y="1111.0" width="7.6" height="6.8" fill="#eeeeee"/><rect x="531.2" y="1112.7" width="5.2" height="3.4" fill="#b6b6b6"/>
<rect x="530.0" y="1134.1" width="7.6" height="6.8" fill="#eeeeee"/><rect x="531.2" y="1135.8" width="5.2" height="3.4" fill="#b6b6b6"/>
<rect x="530.0" y="1157.1" width="7.6" height="6.8" fill="#eeeeee"/><rect x="531.2" y="1158.8" width="5.2" height="3.4" fill="#b6b6b6"/>
<rect x="530.0" y="1180.2" width="7.6" height="6.8" fill="#eeeeee"/><rect x="531.2" y="1181.9" width="5.2" height="3.4" fill="#b6b6b6"/>
<rect x="530.0" y="1203.2" width="7.6" height="6.8" fill="#eeeeee"/><rect x="531.2" y="1204.9" width="5.2" height="3.4" fill="#b6b6b6"/>
<rect x="530.0" y="1226.2" width="7.6" height="6.8" fill="#eeeeee"/><rect x="531.2" y="1228.0" width="5.2" height="3.4" fill="#b6b6b6"/>
<rect x="530.0" y="1249.3" width="7.6" height="6.8" fill="#eeeeee"/><rect x="531.2" y="1251.0" width="5.2" height="3.4" fill="#b6b6b6"/>
<rect x="530.0" y="1272.3" width="7.6" height="6.8" fill="#eeeeee"/><rect x="531.2" y="1274.0" width="5.2" height="3.4" fill="#b6b6b6"/>
<rect x="530.0" y="1295.4" width="7.6" height="6.8" fill="#eeeeee"/><rect x="531.2" y="1297.1" width="5.2" height="3.4" fill="#b6b6b6"/>
<rect x="530.0" y="1318.4" width="7.6" height="6.8" fill="#eeeeee"/><rect x="531.2" y="1320.1" width="5.2" height="3.4" fill="#b6b6b6"/>
<rect x="530.0" y="1341.5" width="7.6" height="6.8" fill="#eeeeee"/><rect x="531.2" y="1343.2" width="5.2" height="3.4" fill="#b6b6b6"/>
<rect x="530.0" y="1364.5" width="7.6" height="6.8" fill="#eeeeee"/><rect x="531.2" y="1366.2" width="5.2" height="3.4" fill="#b6b6b6"/>
<rect x="530.0" y="1387.6" width="7.6" height="6.8" fill="#eeeeee"/><rect x="531.2" y="1389.3" width="5.2" height="3.4" fill="#b6b6b6"/>
<rect x="530.0" y="1410.6" width="7.6" height="6.8" fill="#eeeeee"/><rect x="531.2" y="1412.3" width="5.2" height="3.4" fill="#b6b6b6"/>
<rect x="530.0" y="1433.7" width="7.6" height="6.8" fill="#eeeeee"/><rect x="531.2" y="1435.4" width="5.2" height="3.4" fill="#b6b6b6"/>
<rect x="530.0" y="1456.7" width="7.6" height="6.8" fill="#eeeeee"/><rect x="531.2" y="1458.4" width="5.2" height="3.4" fill="#b6b6b6"/>
<rect x="530.0" y="1479.8" width="7.6" height="6.8" fill="#eeeeee"/><rect x="531.2" y="1481.5" width="5.2" height="3.4" fill="#b6b6b6"/>
<rect x="530.0" y="1502.8" width="7.6" height="6.8" fill="#eeeeee"/><rect x="531.2" y="1504.5" width="5.2" height="3.4" fill="#b6b6b6"/>
<rect x="530.0" y="1525.9" width="7.6" height="6.8" fill="#eeeeee"/><rect x="531.2" y="1527.6" width="5.2" height="3.4" fill="#b6b6b6"/>
<rect x="530.0" y="1548.9" width="7.6" height="6.8" fill="#eeeeee"/><rect x="531.2" y="1550.6" width="5.2" height="3.4" fill="#b6b6b6"/>
<rect x="530.0" y="1572.0" width="7.6" height="6.8" fill="#eeeeee"/><rect x="531.2" y="1573.7" width="5.2" height="3.4" fill="#b6b6b6"/>
<rect x="530.0" y="1595.0" width="7.6" height="6.8" fill="#eeeeee"/><rect x="531.2" y="1596.7" width="5.2" height="3.4" fill="#b6b6b6"/>
<rect x="530.0" y="1618.0" width="7.6" height="6.8" fill="#eeeeee"/><rect x="531.2" y="1619.7" width="5.2" height="3.4" fill="#b6b6b6"/>
<rect x="530.0" y="1641.1" width="7.6" height="6.8" fill="#eeeeee"/><rect x="531.2" y="1642.8" width="5.2" height="3.4" fill="#b6b6b6"/>
<rect x="530.0" y="1664.1" width="7.6" height="6.8" fill="#eeeeee"/><rect x="531.2" y="1665.8" width="5.2" height="3.4" fill="#b6b6b6"/>
<rect x="530.0" y="1687.2" width="7.6" height="6.8" fill="#eeeeee"/><rect x="531.2" y="1688.9" width="5.2" height="3.4" fill="#b6b6b6"/>
<rect x="530.0" y="1710.2" width="7.6" height="6.8" fill="#eeeeee"/><rect x="531.2" y="1711.9" width="5.2" height="3.4" fill="#b6b6b6"/>
<rect x="530.0" y="1733.3" width="7.6" height="6.8" fill="#eeeeee"/><rect x="531.2" y="1735.0" width="5.2" height="3.4" fill="#b6b6b6"/>
<rect x="530.0" y="1756.3" width="7.6" height="6.8" fill="#eeeeee"/><rect x="531.2" y="1758.0" width="5.2" height="3.4" fill="#b6b6b6"/>
<rect x="530.0" y="1779.4" width="7.6" height="6.8" fill="#eeeeee"/><rect x="531.2" y="1781.1" width="5.2" height="3.4" fill="#b6b6b6"/>
<rect x="530.0" y="1802.4" width="7.6" height="6.8" fill="#eeeeee"/><rect x="531.2" y="1804.1" width="5.2" height="3.4" fill="#b6b6b6"/>
<rect x="530.0" y="1825.5" width="7.6" height="6.8" fill="#eeeeee"/><rect x="531.2" y="1827.2" width="5.2" height="3.4" fill="#b6b6b6"/>
<rect x="530.0" y="1848.5" width="7.6" height="6.8" fill="#eeeeee"/><rect x="531.2" y="1850.2" width="5.2" height="3.4" fill="#b6b6b6"/>
<rect x="530.0" y="1871.6" width="7.6" height="6.8" fill="#eeeeee"/><rect x="531.2" y="1873.3" width="5.2" height="3.4" fill="#b6b6b6"/>
<rect x="530.0" y="1894.6" width="7.6" height="6.8" fill="#eeeeee"/><rect x="531.2" y="1896.3" width="5.2" height="3.4" fill="#b6b6b6"/>
<rect x="530.0" y="1917.7" width="7.6" height="6.8" fill="#eeeeee"/><rect x="531.2" y="1919.4" width="5.2" height="3.4" fill="#b6b6b6"/>
<rect x="530.0" y="1940.7" width="7.6" height="6.8" fill="#eeeeee"/><rect x="531.2" y="1942.4" width="5.2" height="3.4" fill="#b6b6b6"/>
<rect x="530.0" y="1963.8" width="7.6" height="6.8" fill="#eeeeee"/><rect x="531.2" y="1965.5" width="5.2" height="3.4" fill="#b6b6b6"/>
<rect x="530.0" y="1986.8" width="7.6" height="6.8" fill="#eeeeee"/><rect x="531.2" y="1988.5" width="5.2" height="3.4" fill="#b6b6b6"/>
<rect x="530.0" y="2009.8" width="7.6" height="6.8" fill="#eeeeee"/><rect x="531.2" y="2011.5" width="5.2" height="3.4" fill="#b6b6b6"/>
<rect x="530.0" y="2032.9" width="7.6" height="6.8" fill="#eeeeee"/><rect x="531.2" y="2034.6" width="5.2" height="3.4" fill="#b6b6b6"/>
<rect x="530.0" y="2055.9" width="7.6" height="6.8" fill="#eeeeee"/><rect x="531.2" y="2057.6" width="5.2" height="3.4" fill="#b6b6b6"/>
<rect x="530.0" y="2079.0" width="7.6" height="6.8" fill="#eeeeee"/><rect x="531.2" y="2080.7" width="5.2" height="3.4" fill="#b6b6b6"/>
<rect x="530.0" y="2102.0" width="7.6" height="6.8" fill="#eeeeee"/><rect x="531.2" y="2103.7" width="5.2" height="3.4" fill="#b6b6b6"/>
<rect x="530.0" y="2125.1" width="7.6" height="6.8" fill="#eeeeee"/><rect x="531.2" y="2126.8" width="5.2" height="3.4" fill="#b6b6b6"/>
<rect x="530.0" y="2148.1" width="7.6" height="6.8" fill="#eeeeee"/><rect x="531.2" y="2149.8" width="5.2" height="3.4" fill="#b6b6b6"/>
<rect x="530.0" y="2171.2" width="7.6" height="6.8" fill="#eeeeee"/><rect x="531.2" y="2172.9" width="5.2" height="3.4" fill="#b6b6b6"/>
<rect x="530.0" y="2194.2" width="7.6" height="6.8" fill="#eeeeee"/><rect x="531.2" y="2195.9" width="5.2" height="3.4" fill="#b6b6b6"/>
<rect x="530.0" y="2217.3" width="7.6" height="6.8" fill="#eeeeee"/><rect x="531.2" y="2219.0" width="5.2" height="3.4" fill="#b6b6b6"/>
<rect x="380.7" y="50.9" width="7.6" height="6.8" fill="#eeeeee" opacity="0.35"/><rect x="381.9" y="52.6" width="5.2" height="3.4" fill="#b6b6b6" opacity="0.35"/>
<rect x="380.7" y="73.9" width="7.6" height="6.8" fill="#eeeeee"/><rect x="381.9" y="75.6" width="5.2" height="3.4" fill="#b6b6b6"/>
<rect x="380.7" y="96.9" width="7.6" height="6.8" fill="#eeeeee"/><rect x="381.9" y="98.6" width="5.2" height="3.4" fill="#b6b6b6"/>
<rect x="380.7" y="120.0" width="7.6" height="6.8" fill="#eeeeee"/><rect x="381.9" y="121.7" width="5.2" height="3.4" fill="#b6b6b6"/>
<rect x="380.7" y="143.0" width="7.6" height="6.8" fill="#eeeeee"/><rect x="381.9" y="144.7" width="5.2" height="3.4" fill="#b6b6b6"/>
<rect x="380.7" y="166.1" width="7.6" height="6.8" fill="#eeeeee"/><rect x="381.9" y="167.8" width="5.2" height="3.4" fill="#b6b6b6"/>
<rect x="380.7" y="189.1" width="7.6" height="6.8" fill="#eeeeee"/><rect x="381.9" y="190.8" width="5.2" height="3.4" fill="#b6b6b6"/>
<rect x="380.7" y="212.2" width="7.6" height="6.8" fill="#eeeeee"/><rect x="381.9" y="213.9" width="5.2" height="3.4" fill="#b6b6b6"/>
<rect x="380.7" y="235.2" width="7.6" height="6.8" fill="#eeeeee"/><rect x="381.9" y="236.9" width="5.2" height="3.4" fill="#b6b6b6"/>
<rect x="380.7" y="258.3" width="7.6" height="6.8" fill="#eeeeee"/><rect x="381.9" y="260.0" width="5.2" height="3.4" fill="#b6b6b6"/>
<rect x="380.7" y="281.3" width="7.6" height="6.8" fill="#eeeeee"/><rect x="381.9" y="283.0" width="5.2" height="3.4" fill="#b6b6b6"/>
<rect x="380.7" y="304.4" width="7.6" height="6.8" fill="#eeeeee"/><rect x="381.9" y="306.1" width="5.2" height="3.4" fill="#b6b6b6"/>
<rect x="380.7" y="327.4" width="7.6" height="6.8" fill="#eeeeee"/><rect x="381.9" y="329.1" width="5.2" height="3.4" fill="#b6b6b6"/>
<rect x="380.7" y="350.5" width="7.6" height="6.8" fill="#eeeeee"/><rect x="381.9" y="352.2" width="5.2" height="3.4" fill="#b6b6b6"/>
<rect x="380.7" y="373.5" width="7.6" height="6.8" fill="#eeeeee"/><rect x="381.9" y="375.2" width="5.2" height="3.4" fill="#b6b6b6"/>
<rect x="380.7" y="396.6" width="7.6" height="6.8" fill="#eeeeee"/><rect x="381.9" y="398.3" width="5.2" height="3.4" fill="#b6b6b6"/>
<rect x="380.7" y="419.6" width="7.6" height="6.8" fill="#eeeeee"/><rect x="381.9" y="421.3" width="5.2" height="3.4" fill="#b6b6b6"/>
<rect x="380.7" y="442.7" width="7.6" height="6.8" fill="#eeeeee"/><rect x="381.9" y="444.4" width="5.2" height="3.4" fill="#b6b6b6"/>
<rect x="380.7" y="465.7" width="7.6" height="6.8" fill="#eeeeee"/><rect x="381.9" y="467.4" width="5.2" height="3.4" fill="#b6b6b6"/>
<rect x="380.7" y="488.7" width="7.6" height="6.8" fill="#eeeeee"/><rect x="381.9" y="490.4" width="5.2" height="3.4" fill="#b6b6b6"/>
<rect x="380.7" y="511.8" width="7.6" height="6.8" fill="#eeeeee"/><rect x="381.9" y="513.5" width="5.2" height="3.4" fill="#b6b6b6"/>
<rect x="380.7" y="534.8" width="7.6" height="6.8" fill="#eeeeee"/><rect x="381.9" y="536.5" width="5.2" height="3.4" fill="#b6b6b6"/>
<rect x="380.7" y="557.9" width="7.6" height="6.8" fill="#eeeeee"/><rect x="381.9" y="559.6" width="5.2" height="3.4" fill="#b6b6b6"/>
<rect x="380.7" y="580.9" width="7.6" height="6.8" fill="#eeeeee"/><rect x="381.9" y="582.6" width="5.2" height="3.4" fill="#b6b6b6"/>
<rect x="380.7" y="604.0" width="7.6" height="6.8" fill="#eeeeee"/><rect x="381.9" y="605.7" width="5.2" height="3.4" fill="#b6b6b6"/>
<rect x="380.7" y="627.0" width="7.6" height="6.8" fill="#eeeeee"/><rect x="381.9" y="628.7" width="5.2" height="3.4" fill="#b6b6b6"/>
<rect x="380.7" y="650.1" width="7.6" height="6.8" fill="#eeeeee"/><rect x="381.9" y="651.8" width="5.2" height="3.4" fill="#b6b6b6"/>
<rect x="380.7" y="673.1" width="7.6" height="6.8" fill="#eeeeee"/><rect x="381.9" y="674.8" width="5.2" height="3.4" fill="#b6b6b6"/>
<rect x="380.7" y="696.2" width="7.6" height="6.8" fill="#eeeeee"/><rect x="381.9" y="697.9" width="5.2" height="3.4" fill="#b6b6b6"/>
<rect x="380.7" y="719.2" width="7.6" height="6.8" fill="#eeeeee"/><rect x="381.9" y="720.9" width="5.2" height="3.4" fill="#b6b6b6"/>
<rect x="380.7" y="742.3" width="7.6" height="6.8" fill="#eeeeee"/><rect x="381.9" y="744.0" width="5.2" height="3.4" fill="#b6b6b6"/>
<rect x="380.7" y="765.3" width="7.6" height="6.8" fill="#eeeeee"/><rect x="381.9" y="767.0" width="5.2" height="3.4" fill="#b6b6b6"/>
<rect x="380.7" y="788.4" width="7.6" height="6.8" fill="#eeeeee"/><rect x="381.9" y="790.1" width="5.2" height="3.4" fill="#b6b6b6"/>
<rect x="380.7" y="811.4" width="7.6" height="6.8" fill="#eeeeee"/><rect x="381.9" y="813.1" width="5.2" height="3.4" fill="#b6b6b6"/>
<rect x="380.7" y="834.5" width="7.6" height="6.8" fill="#eeeeee"/><rect x="381.9" y="836.2" width="5.2" height="3.4" fill="#b6b6b6"/>
<rect x="380.7" y="857.5" width="7.6" height="6.8" fill="#eeeeee"/><rect x="381.9" y="859.2" width="5.2" height="3.4" fill="#b6b6b6"/>
<rect x="380.7" y="880.5" width="7.6" height="6.8" fill="#eeeeee"/><rect x="381.9" y="882.2" width="5.2" height="3.4" fill="#b6b6b6"/>
<rect x="380.7" y="903.6" width="7.6" height="6.8" fill="#eeeeee"/><rect x="381.9" y="905.3" width="5.2" height="3.4" fill="#b6b6b6"/>
<rect x="380.7" y="926.6" width="7.6" height="6.8" fill="#eeeeee"/><rect x="381.9" y="928.3" width="5.2" height="3.4" fill="#b6b6b6"/>
<rect x="380.7" y="949.7" width="7.6" height="6.8" fill="#eeeeee"/><rect x="381.9" y="951.4" width="5.2" height="3.4" fill="#b6b6b6"/>
<rect x="380.7" y="972.7" width="7.6" height="6.8" fill="#eeeeee"/><rect x="381.9" y="974.4" width="5.2" height="3.4" fill="#b6b6b6"/>
<rect x="380.7" y="995.8" width="7.6" height="6.8" fill="#eeeeee"/><rect x="381.9" y="997.5" width="5.2" height="3.4" fill="#b6b6b6"/>
<rect x="380.7" y="1018.8" width="7.6" height="6.8" fill="#eeeeee"/><rect x="381.9" y="1020.5" width="5.2" height="3.4" fill="#b6b6b6"/>
<rect x="380.7" y="1041.9" width="7.6" height="6.8" fill="#eeeeee"/><rect x="381.9" y="1043.6" width="5.2" height="3.4" fill="#b6b6b6"/>
<rect x="380.7" y="1064.9" width="7.6" height="6.8" fill="#eeeeee"/><rect x="381.9" y="1066.6" width="5.2" height="3.4" fill="#b6b6b6"/>
<rect x="380.7" y="1088.0" width="7.6" height="6.8" fill="#eeeeee"/><rect x="381.9" y="1089.7" width="5.2" height="3.4" fill="#b6b6b6"/>
<rect x="380.7" y="1111.0" width="7.6" height="6.8" fill="#eeeeee"/><rect x="381.9" y="1112.7" width="5.2" height="3.4" fill="#b6b6b6"/>
<rect x="380.7" y="1134.1" width="7.6" height="6.8" fill="#eeeeee"/><rect x="381.9" y="1135.8" width="5.2" height="3.4" fill="#b6b6b6"/>
<rect x="380.7" y="1157.1" width="7.6" height="6.8" fill="#eeeeee"/><rect x="381.9" y="1158.8" width="5.2" height="3.4" fill="#b6b6b6"/>
<rect x="380.7" y="1180.2" width="7.6" height="6.8" fill="#eeeeee"/><rect x="381.9" y="1181.9" width="5.2" height="3.4" fill="#b6b6b6"/>
<rect x="380.7" y="1203.2" width="7.6" height="6.8" fill="#eeeeee"/><rect x="381.9" y="1204.9" width="5.2" height="3.4" fill="#b6b6b6"/>
<rect x="380.7" y="1226.2" width="7.6" height="6.8" fill="#eeeeee"/><rect x="381.9" y="1228.0" width="5.2" height="3.4" fill="#b6b6b6"/>
<rect x="380.7" y="1249.3" width="7.6" height="6.8" fill="#eeeeee"/><rect x="381.9" y="1251.0" width="5.2" height="3.4" fill="#b6b6b6"/>
<rect x="380.7" y="1272.3" width="7.6" height="6.8" fill="#eeeeee"/><rect x="381.9" y="1274.0" width="5.2" height="3.4" fill="#b6b6b6"/>
<rect x="380.7" y="1295.4" width="7.6" height="6.8" fill="#eeeeee"/><rect x="381.9" y="1297.1" width="5.2" height="3.4" fill="#b6b6b6"/>
<rect x="380.7" y="1318.4" width="7.6" height="6.8" fill="#eeeeee"/><rect x="381.9" y="1320.1" width="5.2" height="3.4" fill="#b6b6b6"/>
<rect x="380.7" y="1341.5" width="7.6" height="6.8" fill="#eeeeee"/><rect x="381.9" y="1343.2" width="5.2" height="3.4" fill="#b6b6b6"/>
<rect x="380.7" y="1364.5" width="7.6" height="6.8" fill="#eeeeee"/><rect x="381.9" y="1366.2" width="5.2" height="3.4" fill="#b6b6b6"/>
<rect x="380.7" y="1387.6" width="7.6" height="6.8" fill="#eeeeee"/><rect x="381.9" y="1389.3" width="5.2" height="3.4" fill="#b6b6b6"/>
<rect x="380.7" y="1410.6" width="7.6" height="6.8" fill="#eeeeee"/><rect x="381.9" y="1412.3" width="5.2" height="3.4" fill="#b6b6b6"/>
<rect x="380.7" y="1433.7" width="7.6" height="6.8" fill="#eeeeee"/><rect x="381.9" y="1435.4" width="5.2" height="3.4" fill="#b6b6b6"/>
<rect x="380.7" y="1456.7" width="7.6" height="6.8" fill="#eeeeee"/><rect x="381.9" y="1458.4" width="5.2" height="3.4" fill="#b6b6b6"/>
<rect x="380.7" y="1479.8" width="7.6" height="6.8" fill="#eeeeee"/><rect x="381.9" y="1481.5" width="5.2" height="3.4" fill="#b6b6b6"/>
<rect x="380.7" y="1502.8" width="7.6" height="6.8" fill="#eeeeee"/><rect x="381.9" y="1504.5" width="5.2" height="3.4" fill="#b6b6b6"/>
<rect x="380.7" y="1525.9" width="7.6" height="6.8" fill="#eeeeee"/><rect x="381.9" y="1527.6" width="5.2" height="3.4" fill="#b6b6b6"/>
<rect x="380.7" y="1548.9" width="7.6" height="6.8" fill="#eeeeee"/><rect x="381.9" y="1550.6" width="5.2" height="3.4" fill="#b6b6b6"/>
<rect x="380.7" y="1572.0" width="7.6" height="6.8" fill="#eeeeee"/><rect x="381.9" y="1573.7" width="5.2" height="3.4" fill="#b6b6b6"/>
<rect x="380.7" y="1595.0" width="7.6" height="6.8" fill="#eeeeee"/><rect x="381.9" y="1596.7" width="5.2" height="3.4" fill="#b6b6b6"/>
<rect x="380.7" y="1618.0" width="7.6" height="6.8" fill="#eeeeee"/><rect x="381.9" y="1619.7" width="5.2" height="3.4" fill="#b6b6b6"/>
<rect x="380.7" y="1641.1" width="7.6" height="6.8" fill="#eeeeee"/><rect x="381.9" y="1642.8" width="5.2" height="3.4" fill="#b6b6b6"/>
<rect x="380.7" y="1664.1" width="7.6" height="6.8" fill="#eeeeee"/><rect x="381.9" y="1665.8" width="5.2" height="3.4" fill="#b6b6b6"/>
<rect x="380.7" y="1687.2" width="7.6" height="6.8" fill="#eeeeee"/><rect x="381.9" y="1688.9" width="5.2" height="3.4" fill="#b6b6b6"/>
<rect x="380.7" y="1710.2" width="7.6" height="6.8" fill="#eeeeee"/><rect x="381.9" y="1711.9" width="5.2" height="3.4" fill="#b6b6b6"/>
<rect x="380.7" y="1733.3" width="7.6" height="6.8" fill="#eeeeee"/><rect x="381.9" y="1735.0" width="5.2" height="3.4" fill="#b6b6b6"/>
<rect x="380.7" y="1756.3" width="7.6" height="6.8" fill="#eeeeee"/><rect x="381.9" y="1758.0" width="5.2" height="3.4" fill="#b6b6b6"/>
<rect x="380.7" y="1779.4" width="7.6" height="6.8" fill="#eeeeee"/><rect x="381.9" y="1781.1" width="5.2" height="3.4" fill="#b6b6b6"/>
<rect x="380.7" y="1802.4" width="7.6" height="6.8" fill="#eeeeee"/><rect x="381.9" y="1804.1" width="5.2" height="3.4" fill="#b6b6b6"/>
<rect x="380.7" y="1825.5" width="7.6" height="6.8" fill="#eeeeee"/><rect x="381.9" y="1827.2" width="5.2" height="3.4" fill="#b6b6b6"/>
<rect x="380.7" y="1848.5" width="7.6" height="6.8" fill="#eeeeee"/><rect x="381.9" y="1850.2" width="5.2" height="3.4" fill="#b6b6b6"/>
<rect x="380.7" y="1871.6" width="7.6" height="6.8" fill="#eeeeee"/><rect x="381.9" y="1873.3" width="5.2" height="3.4" fill="#b6b6b6"/>
<rect x="380.7" y="1894.6" width="7.6" height="6.8" fill="#eeeeee"/><rect x="381.9" y="1896.3" width="5.2" height="3.4" fill="#b6b6b6"/>
<rect x="380.7" y="1917.7" width="7.6" height="6.8" fill="#eeeeee"/><rect x="381.9" y="1919.4" width="5.2" height="3.4" fill="#b6b6b6"/>
<rect x="380.7" y="1940.7" width="7.6" height="6.8" fill="#eeeeee"/><rect x="381.9" y="1942.4" width="5.2" height="3.4" fill="#b6b6b6"/>
<rect x="380.7" y="1963.8" width="7.6" height="6.8" fill="#eeeeee"/><rect x="381.9" y="1965.5" width="5.2" height="3.4" fill="#b6b6b6"/>
<rect x="380.7" y="1986.8" width="7.6" height="6.8" fill="#eeeeee"/><rect x="381.9" y="1988.5" width="5.2" height="3.4" fill="#b6b6b6"/>
<rect x="380.7" y="2009.8" width="7.6" height="6.8" fill="#eeeeee"/><rect x="381.9" y="2011.5" width="5.2" height="3.4" fill="#b6b6b6"/>
<rect x="380.7" y="2032.9" width="7.6" height="6.8" fill="#eeeeee"/><rect x="381.9" y="2034.6" width="5.2" height="3.4" fill="#b6b6b6"/>
<rect x="380.7" y="2055.9" width="7.6" height="6.8" fill="#eeeeee"/><rect x="381.9" y="2057.6" width="5.2" height="3.4" fill="#b6b6b6"/>
<rect x="380.7" y="2079.0" width="7.6" height="6.8" fill="#eeeeee"/><rect x="381.9" y="2080.7" width="5.2" height="3.4" fill="#b6b6b6"/>
<rect x="380.7" y="2102.0" width="7.6" height="6.8" fill="#eeeeee"/><rect x="381.9" y="2103.7" width="5.2" height="3.4" fill="#b6b6b6"/>
<rect x="380.7" y="2125.1" width="7.6" height="6.8" fill="#eeeeee"/><rect x="381.9" y="2126.8" width="5.2" height="3.4" fill="#b6b6b6"/>
<rect x="380.7" y="2148.1" width="7.6" height="6.8" fill="#eeeeee"/><rect x="381.9" y="2149.8" width="5.2" height="3.4" fill="#b6b6b6"/>
<rect x="380.7" y="2171.2" width="7.6" height="6.8" fill="#eeeeee"/><rect x="381.9" y="2172.9" width="5.2" height="3.4" fill="#b6b6b6"/>
<rect x="380.7" y="2194.2" width="7.6" height="6.8" fill="#eeeeee"/><rect x="381.9" y="2195.9" width="5.2" height="3.4" fill="#b6b6b6"/>
<rect x="380.7" y="2217.3" width="7.6" height="6.8" fill="#eeeeee"/><rect x="381.9" y="2219.0" width="5.2" height="3.4" fill="#b6b6b6"/>
<rect x="231.4" y="50.9" width="7.6" height="6.8" fill="#eeeeee" opacity="0.35"/><rect x="232.6" y="52.6" width="5.2" height="3.4" fill="#b6b6b6" opacity="0.35"/>
<rect x="231.4" y="73.9" width="7.6" height="6.8" fill="#eeeeee"/><rect x="232.6" y="75.6" width="5.2" height="3.4" fill="#b6b6b6"/>
<rect x="231.4" y="96.9" width="7.6" height="6.8" fill="#eeeeee"/><rect x="232.6" y="98.6" width="5.2" height="3.4" fill="#b6b6b6"/>
<rect x="231.4" y="120.0" width="7.6" height="6.8" fill="#eeeeee"/><rect x="232.6" y="121.7" width="5.2" height="3.4" fill="#b6b6b6"/>
<rect x="231.4" y="143.0" width="7.6" height="6.8" fill="#eeeeee"/><rect x="232.6" y="144.7" width="5.2" height="3.4" fill="#b6b6b6"/>
<rect x="231.4" y="166.1" width="7.6" height="6.8" fill="#eeeeee"/><rect x="232.6" y="167.8" width="5.2" height="3.4" fill="#b6b6b6"/>
<rect x="231.4" y="189.1" width="7.6" height="6.8" fill="#eeeeee"/><rect x="232.6" y="190.8" width="5.2" height="3.4" fill="#b6b6b6"/>
<rect x="231.4" y="212.2" width="7.6" height="6.8" fill="#eeeeee"/><rect x="232.6" y="213.9" width="5.2" height="3.4" fill="#b6b6b6"/>
<rect x="231.4" y="235.2" width="7.6" height="6.8" fill="#eeeeee"/><rect x="232.6" y="236.9" width="5.2" height="3.4" fill="#b6b6b6"/>
<rect x="231.4" y="258.3" width="7.6" height="6.8" fill="#eeeeee"/><rect x="232.6" y="260.0" width="5.2" height="3.4" fill="#b6b6b6"/>
<rect x="231.4" y="281.3" width="7.6" height="6.8" fill="#eeeeee"/><rect x="232.6" y="283.0" width="5.2" height="3.4" fill="#b6b6b6"/>
<rect x="231.4" y="304.4" width="7.6" height="6.8" fill="#eeeeee"/><rect x="232.6" y="306.1" width="5.2" height="3.4" fill="#b6b6b6"/>
<rect x="231.4" y="327.4" width="7.6" height="6.8" fill="#eeeeee"/><rect x="232.6" y="329.1" width="5.2" height="3.4" fill="#b6b6b6"/>
<rect x="231.4" y="350.5" width="7.6" height="6.8" fill="#eeeeee"/><rect x="232.6" y="352.2" width="5.2" height="3.4" fill="#b6b6b6"/>
<rect x="231.4" y="373.5" width="7.6" height="6.8" fill="#eeeeee"/><rect x="232.6" y="375.2" width="5.2" height="3.4" fill="#b6b6b6"/>
<rect x="231.4" y="396.6" width="7.6" height="6.8" fill="#eeeeee"/><rect x="232.6" y="398.3" width="5.2" height="3.4" fill="#b6b6b6"/>
<rect x="231.4" y="419.6" width="7.6" height="6.8" fill="#eeeeee"/><rect x="232.6" y="421.3" width="5.2" height="3.4" fill="#b6b6b6"/>
<rect x="231.4" y="442.7" width="7.6" height="6.8" fill="#eeeeee"/><rect x="232.6" y="444.4" width="5.2" height="3.4" fill="#b6b6b6"/>
<rect x="231.4" y="465.7" width="7.6" height="6.8" fill="#eeeeee"/><rect x="232.6" y="467.4" width="5.2" height="3.4" fill="#b6b6b6"/>
<rect x="231.4" y="488.7" width="7.6" height="6.8" fill="#eeeeee"/><rect x="232.6" y="490.4" width="5.2" height="3.4" fill="#b6b6b6"/>
<rect x="231.4" y="511.8" width="7.6" height="6.8" fill="#eeeeee"/><rect x="232.6" y="513.5" width="5.2" height="3.4" fill="#b6b6b6"/>
<rect x="231.4" y="534.8" width="7.6" height="6.8" fill="#eeeeee"/><rect x="232.6" y="536.5" width="5.2" height="3.4" fill="#b6b6b6"/>
<rect x="231.4" y="557.9" width="7.6" height="6.8" fill="#eeeeee"/><rect x="232.6" y="559.6" width="5.2" height="3.4" fill="#b6b6b6"/>
<rect x="231.4" y="580.9" width="7.6" height="6.8" fill="#eeeeee"/><rect x="232.6" y="582.6" width="5.2" height="3.4" fill="#b6b6b6"/>
<rect x="231.4" y="604.0" width="7.6" height="6.8" fill="#eeeeee"/><rect x="232.6" y="605.7" width="5.2" height="3.4" fill="#b6b6b6"/>
<rect x="231.4" y="627.0" width="7.6" height="6.8" fill="#eeeeee"/><rect x="232.6" y="628.7" width="5.2" height="3.4" fill="#b6b6b6"/>
<rect x="231.4" y="650.1" width="7.6" height="6.8" fill="#eeeeee"/><rect x="232.6" y="651.8" width="5.2" height="3.4" fill="#b6b6b6"/>
<rect x="231.4" y="673.1" width="7.6" height="6.8" fill="#eeeeee"/><rect x="232.6" y="674.8" width="5.2" height="3.4" fill="#b6b6b6"/>
<rect x="231.4" y="696.2" width="7.6" height="6.8" fill="#eeeeee"/><rect x="232.6" y="697.9" width="5.2" height="3.4" fill="#b6b6b6"/>
<rect x="231.4" y="719.2" width="7.6" height="6.8" fill="#eeeeee"/><rect x="232.6" y="720.9" width="5.2" height="3.4" fill="#b6b6b6"/>
<rect x="231.4" y="742.3" width="7.6" height="6.8" fill="#eeeeee"/><rect x="232.6" y="744.0" width="5.2" height="3.4" fill="#b6b6b6"/>
<rect x="231.4" y="765.3" width="7.6" height="6.8" fill="#eeeeee"/><rect x="232.6" y="767.0" width="5.2" height="3.4" fill="#b6b6b6"/>
<rect x="231.4" y="788.4" width="7.6" height="6.8" fill="#eeeeee"/><rect x="232.6" y="790.1" width="5.2" height="3.4" fill="#b6b6b6"/>
<rect x="231.4" y="811.4" width="7.6" height="6.8" fill="#eeeeee"/><rect x="232.6" y="813.1" width="5.2" height="3.4" fill="#b6b6b6"/>
<rect x="231.4" y="834.5" width="7.6" height="6.8" fill="#eeeeee"/><rect x="232.6" y="836.2" width="5.2" height="3.4" fill="#b6b6b6"/>
<rect x="231.4" y="857.5" width="7.6" height="6.8" fill="#eeeeee"/><rect x="232.6" y="859.2" width="5.2" height="3.4" fill="#b6b6b6"/>
<rect x="231.4" y="880.5" width="7.6" height="6.8" fill="#eeeeee"/><rect x="232.6" y="882.2" width="5.2" height="3.4" fill="#b6b6b6"/>
<rect x="231.4" y="903.6" width="7.6" height="6.8" fill="#eeeeee"/><rect x="232.6" y="905.3" width="5.2" height="3.4" fill="#b6b6b6"/>
<rect x="231.4" y="926.6" width="7.6" height="6.8" fill="#eeeeee"/><rect x="232.6" y="928.3" width="5.2" height="3.4" fill="#b6b6b6"/>
<rect x="231.4" y="949.7" width="7.6" height="6.8" fill="#eeeeee"/><rect x="232.6" y="951.4" width="5.2" height="3.4" fill="#b6b6b6"/>
<rect x="231.4" y="972.7" width="7.6" height="6.8" fill="#eeeeee"/><rect x="232.6" y="974.4" width="5.2" height="3.4" fill="#b6b6b6"/>
<rect x="231.4" y="995.8" width="7.6" height="6.8" fill="#eeeeee"/><rect x="232.6" y="997.5" width="5.2" height="3.4" fill="#b6b6b6"/>
<rect x="231.4" y="1018.8" width="7.6" height="6.8" fill="#eeeeee"/><rect x="232.6" y="1020.5" width="5.2" height="3.4" fill="#b6b6b6"/>
<rect x="231.4" y="1041.9" width="7.6" height="6.8" fill="#eeeeee"/><rect x="232.6" y="1043.6" width="5.2" height="3.4" fill="#b6b6b6"/>
<rect x="231.4" y="1064.9" width="7.6" height="6.8" fill="#eeeeee"/><rect x="232.6" y="1066.6" width="5.2" height="3.4" fill="#b6b6b6"/>
<rect x="231.4" y="1088.0" width="7.6" height="6.8" fill="#eeeeee"/><rect x="232.6" y="1089.7" width="5.2" height="3.4" fill="#b6b6b6"/>
<rect x="231.4" y="1111.0" width="7.6" height="6.8" fill="#eeeeee"/><rect x="232.6" y="1112.7" width="5.2" height="3.4" fill="#b6b6b6"/>
<rect x="231.4" y="1134.1" width="7.6" height="6.8" fill="#eeeeee"/><rect x="232.6" y="1135.8" width="5.2" height="3.4" fill="#b6b6b6"/>
<rect x="231.4" y="1157.1" width="7.6" height="6.8" fill="#eeeeee"/><rect x="232.6" y="1158.8" width="5.2" height="3.4" fill="#b6b6b6"/>
<rect x="231.4" y="1180.2" width="7.6" height="6.8" fill="#eeeeee"/><rect x="232.6" y="1181.9" width="5.2" height="3.4" fill="#b6b6b6"/>
<rect x="231.4" y="1203.2" width="7.6" height="6.8" fill="#eeeeee"/><rect x="232.6" y="1204.9" width="5.2" height="3.4" fill="#b6b6b6"/>
<rect x="231.4" y="1226.2" width="7.6" height="6.8" fill="#eeeeee"/><rect x="232.6" y="1228.0" width="5.2" height="3.4" fill="#b6b6b6"/>
<rect x="231.4" y="1249.3" width="7.6" height="6.8" fill="#eeeeee"/><rect x="232.6" y="1251.0" width="5.2" height="3.4" fill="#b6b6b6"/>
<rect x="231.4" y="1272.3" width="7.6" height="6.8" fill="#eeeeee"/><rect x="232.6" y="1274.0" width="5.2" height="3.4" fill="#b6b6b6"/>
<rect x="231.4" y="1295.4" width="7.6" height="6.8" fill="#eeeeee"/><rect x="232.6" y="1297.1" width="5.2" height="3.4" fill="#b6b6b6"/>
<rect x="231.4" y="1318.4" width="7.6" height="6.8" fill="#eeeeee"/><rect x="232.6" y="1320.1" width="5.2" height="3.4" fill="#b6b6b6"/>
<rect x="231.4" y="1341.5" width="7.6" height="6.8" fill="#eeeeee"/><rect x="232.6" y="1343.2" width="5.2" height="3.4" fill="#b6b6b6"/>
<rect x="231.4" y="1364.5" width="7.6" height="6.8" fill="#eeeeee"/><rect x="232.6" y="1366.2" width="5.2" height="3.4" fill="#b6b6b6"/>
<rect x="231.4" y="1387.6" width="7.6" height="6.8" fill="#eeeeee"/><rect x="232.6" y="1389.3" width="5.2" height="3.4" fill="#b6b6b6"/>
<rect x="231.4" y="1410.6" width="7.6" height="6.8" fill="#eeeeee"/><rect x="232.6" y="1412.3" width="5.2" height="3.4" fill="#b6b6b6"/>
<rect x="231.4" y="1433.7" width="7.6" height="6.8" fill="#eeeeee"/><rect x="232.6" y="1435.4" width="5.2" height="3.4" fill="#b6b6b6"/>
<rect x="231.4" y="1456.7" width="7.6" height="6.8" fill="#eeeeee"/><rect x="232.6" y="1458.4" width="5.2" height="3.4" fill="#b6b6b6"/>
<rect x="231.4" y="1479.8" width="7.6" height="6.8" fill="#eeeeee"/><rect x="232.6" y="1481.5" width="5.2" height="3.4" fill="#b6b6b6"/>
<rect x="231.4" y="1502.8" width="7.6" height="6.8" fill="#eeeeee"/><rect x="232.6" y="1504.5" width="5.2" height="3.4" fill="#b6b6b6"/>
<rect x="231.4" y="1525.9" width="7.6" height="6.8" fill="#eeeeee"/><rect x="232.6" y="1527.6" width="5.2" height="3.4" fill="#b6b6b6"/>
<rect x="231.4" y="1548.9" width="7.6" height="6.8" fill="#eeeeee"/><rect x="232.6" y="1550.6" width="5.2" height="3.4" fill="#b6b6b6"/>
<rect x="231.4" y="1572.0" width="7.6" height="6.8" fill="#eeeeee"/><rect x="232.6" y="1573.7" width="5.2" height="3.4" fill="#b6b6b6"/>
<rect x="231.4" y="1595.0" width="7.6" height="6.8" fill="#eeeeee"/><rect x="232.6" y="1596.7" width="5.2" height="3.4" fill="#b6b6b6"/>
<rect x="231.4" y="1618.0" width="7.6" height="6.8" fill="#eeeeee"/><rect x="232.6" y="1619.7" width="5.2" height="3.4" fill="#b6b6b6"/>
<rect x="231.4" y="1641.1" width="7.6" height="6.8" fill="#eeeeee"/><rect x="232.6" y="1642.8" width="5.2" height="3.4" fill="#b6b6b6"/>
<rect x="231.4" y="1664.1" width="7.6" height="6.8" fill="#eeeeee"/><rect x="232.6" y="1665.8" width="5.2" height="3.4" fill="#b6b6b6"/>
<rect x="231.4" y="1687.2" width="7.6" height="6.8" fill="#eeeeee"/><rect x="232.6" y="1688.9" width="5.2" height="3.4" fill="#b6b6b6"/>
<rect x="231.4" y="1710.2" width="7.6" height="6.8" fill="#eeeeee"/><rect x="232.6" y="1711.9" width="5.2" height="3.4" fill="#b6b6b6"/>
<rect x="231.4" y="1733.3" width="7.6" height="6.8" fill="#eeeeee"/><rect x="232.6" y="1735.0" width="5.2" height="3.4" fill="#b6b6b6"/>
<rect x="231.4" y="1756.3" width="7.6" height="6.8" fill="#eeeeee"/><rect x="232.6" y="1758.0" width="5.2" height="3.4" fill="#b6b6b6"/>
<rect x="231.4" y="1779.4" width="7.6" height="6.8" fill="#eeeeee"/><rect x="232.6" y="1781.1" width="5.2" height="3.4" fill="#b6b6b6"/>
<rect x="231.4" y="1802.4" width="7.6" height="6.8" fill="#eeeeee"/><rect x="232.6" y="1804.1" width="5.2" height="3.4" fill="#b6b6b6"/>
<rect x="231.4" y="1825.5" width="7.6" height="6.8" fill="#eeeeee"/><rect x="232.6" y="1827.2" width="5.2" height="3.4" fill="#b6b6b6"/>
<rect x="231.4" y="1848.5" width="7.6" height="6.8" fill="#eeeeee"/><rect x="232.6" y="1850.2" width="5.2" height="3.4" fill="#b6b6b6"/>
<rect x="231.4" y="1871.6" width="7.6" height="6.8" fill="#eeeeee"/><rect x="232.6" y="1873.3" width="5.2" height="3.4" fill="#b6b6b6"/>
<rect x="231.4" y="1894.6" width="7.6" height="6.8" fill="#eeeeee"/><rect x="232.6" y="1896.3" width="5.2" height="3.4" fill="#b6b6b6"/>
<rect x="231.4" y="1917.7" width="7.6" height="6.8" fill="#eeeeee"/><rect x="232.6" y="1919.4" width="5.2" height="3.4" fill="#b6b6b6"/>
<rect x="231.4" y="1940.7" width="7.6" height="6.8" fill="#eeeeee"/><rect x="232.6" y="1942.4" width="5.2" height="3.4" fill="#b6b6b6"/>
<rect x="231.4" y="1963.8" width="7.6" height="6.8" fill="#eeeeee"/><rect x="232.6" y="1965.5" width="5.2" height="3.4" fill="#b6b6b6"/>
<rect x="231.4" y="1986.8" width="7.6" height="6.8" fill="#eeeeee"/><rect x="232.6" y="1988.5" width="5.2" height="3.4" fill="#b6b6b6"/>
<rect x="231.4" y="2009.8" width="7.6" height="6.8" fill="#eeeeee"/><rect x="232.6" y="2011.5" width="5.2" height="3.4" fill="#b6b6b6"/>
<rect x="231.4" y="2032.9" width="7.6" height="6.8" fill="#eeeeee"/><rect x="232.6" y="2034.6" width="5.2" height="3.4" fill="#b6b6b6"/>
<rect x="231.4" y="2055.9" width="7.6" height="6.8" fill="#eeeeee"/><rect x="232.6" y="2057.6" width="5.2" height="3.4" fill="#b6b6b6"/>
<rect x="231.4" y="2079.0" width="7.6" height="6.8" fill="#eeeeee"/><rect x="232.6" y="2080.7" width="5.2" height="3.4" fill="#b6b6b6"/>
<rect x="231.4" y="2102.0" width="7.6" height="6.8" fill="#eeeeee"/><rect x="232.6" y="2103.7" width="5.2" height="3.4" fill="#b6b6b6"/>
<rect x="231.4" y="2125.1" width="7.6" height="6.8" fill="#eeeeee"/><rect x="232.6" y="2126.8" width="5.2" height="3.4" fill="#b6b6b6"/>
<rect x="231.4" y="2148.1" width="7.6" height="6.8" fill="#eeeeee"/><rect x="232.6" y="2149.8" width="5.2" height="3.4" fill="#b6b6b6"/>
<rect x="231.4" y="2171.2" width="7.6" height="6.8" fill="#eeeeee"/><rect x="232.6" y="2172.9" width="5.2" height="3.4" fill="#b6b6b6"/>
<rect x="231.4" y="2194.2" width="7.6" height="6.8" fill="#eeeeee"/><rect x="232.6" y="2195.9" width="5.2" height="3.4" fill="#b6b6b6"/>
<rect x="231.4" y="2217.3" width="7.6" height="6.8" fill="#eeeeee"/><rect x="232.6" y="2219.0" width="5.2" height="3.4" fill="#b6b6b6"/>
<rect x="82.1" y="50.9" width="7.6" height="6.8" fill="#eeeeee" opacity="0.35"/><rect x="83.3" y="52.6" width="5.2" height="3.4" fill="#b6b6b6" opacity="0.35"/>
<rect x="82.1" y="73.9" width="7.6" height="6.8" fill="#eeeeee"/><rect x="83.3" y="75.6" width="5.2" height="3.4" fill="#b6b6b6"/>
<rect x="82.1" y="96.9" width="7.6" height="6.8" fill="#eeeeee"/><rect x="83.3" y="98.6" width="5.2" height="3.4" fill="#b6b6b6"/>
<rect x="82.1" y="120.0" width="7.6" height="6.8" fill="#eeeeee"/><rect x="83.3" y="121.7" width="5.2" height="3.4" fill="#b6b6b6"/>
<rect x="82.1" y="143.0" width="7.6" height="6.8" fill="#eeeeee"/><rect x="83.3" y="144.7" width="5.2" height="3.4" fill="#b6b6b6"/>
<rect x="82.1" y="166.1" width="7.6" height="6.8" fill="#eeeeee"/><rect x="83.3" y="167.8" width="5.2" height="3.4" fill="#b6b6b6"/>
<rect x="82.1" y="189.1" width="7.6" height="6.8" fill="#eeeeee"/><rect x="83.3" y="190.8" width="5.2" height="3.4" fill="#b6b6b6"/>
<rect x="82.1" y="212.2" width="7.6" height="6.8" fill="#eeeeee"/><rect x="83.3" y="213.9" width="5.2" height="3.4" fill="#b6b6b6"/>
<rect x="82.1" y="235.2" width="7.6" height="6.8" fill="#eeeeee"/><rect x="83.3" y="236.9" width="5.2" height="3.4" fill="#b6b6b6"/>
<rect x="82.1" y="258.3" width="7.6" height="6.8" fill="#eeeeee"/><rect x="83.3" y="260.0" width="5.2" height="3.4" fill="#b6b6b6"/>
<rect x="82.1" y="281.3" width="7.6" height="6.8" fill="#eeeeee"/><rect x="83.3" y="283.0" width="5.2" height="3.4" fill="#b6b6b6"/>
<rect x="82.1" y="304.4" width="7.6" height="6.8" fill="#eeeeee"/><rect x="83.3" y="306.1" width="5.2" height="3.4" fill="#b6b6b6"/>
<rect x="82.1" y="327.4" width="7.6" height="6.8" fill="#eeeeee"/><rect x="83.3" y="329.1" width="5.2" height="3.4" fill="#b6b6b6"/>
<rect x="82.1" y="350.5" width="7.6" height="6.8" fill="#eeeeee"/><rect x="83.3" y="352.2" width="5.2" height="3.4" fill="#b6b6b6"/>
<rect x="82.1" y="373.5" width="7.6" height="6.8" fill="#eeeeee"/><rect x="83.3" y="375.2" width="5.2" height="3.4" fill="#b6b6b6"/>
<rect x="82.1" y="396.6" width="7.6" height="6.8" fill="#eeeeee"/><rect x="83.3" y="398.3" width="5.2" height="3.4" fill="#b6b6b6"/>
<rect x="82.1" y="419.6" width="7.6" height="6.8" fill="#eeeeee"/><rect x="83.3" y="421.3" width="5.2" height="3.4" fill="#b6b6b6"/>
<rect x="82.1" y="442.7" width="7.6" height="6.8" fill="#eeeeee"/><rect x="83.3" y="444.4" width="5.2" height="3.4" fill="#b6b6b6"/>
<rect x="82.1" y="465.7" width="7.6" height="6.8" fill="#eeeeee"/><rect x="83.3" y="467.4" width="5.2" height="3.4" fill="#b6b6b6"/>
<rect x="82.1" y="488.7" width="7.6" height="6.8" fill="#eeeeee"/><rect x="83.3" y="490.4" width="5.2" height="3.4" fill="#b6b6b6"/>
<rect x="82.1" y="511.8" width="7.6" height="6.8" fill="#eeeeee"/><rect x="83.3" y="513.5" width="5.2" height="3.4" fill="#b6b6b6"/>
<rect x="82.1" y="534.8" width="7.6" height="6.8" fill="#eeeeee"/><rect x="83.3" y="536.5" width="5.2" height="3.4" fill="#b6b6b6"/>
<rect x="82.1" y="557.9" width="7.6" height="6.8" fill="#eeeeee"/><rect x="83.3" y="559.6" width="5.2" height="3.4" fill="#b6b6b6"/>
<rect x="82.1" y="580.9" width="7.6" height="6.8" fill="#eeeeee"/><rect x="83.3" y="582.6" width="5.2" height="3.4" fill="#b6b6b6"/>
<rect x="82.1" y="604.0" width="7.6" height="6.8" fill="#eeeeee"/><rect x="83.3" y="605.7" width="5.2" height="3.4" fill="#b6b6b6"/>
<rect x="82.1" y="627.0" width="7.6" height="6.8" fill="#eeeeee"/><rect x="83.3" y="628.7" width="5.2" height="3.4" fill="#b6b6b6"/>
<rect x="82.1" y="650.1" width="7.6" height="6.8" fill="#eeeeee"/><rect x="83.3" y="651.8" width="5.2" height="3.4" fill="#b6b6b6"/>
<rect x="82.1" y="673.1" width="7.6" height="6.8" fill="#eeeeee"/><rect x="83.3" y="674.8" width="5.2" height="3.4" fill="#b6b6b6"/>
<rect x="82.1" y="696.2" width="7.6" height="6.8" fill="#eeeeee"/><rect x="83.3" y="697.9" width="5.2" height="3.4" fill="#b6b6b6"/>
<rect x="82.1" y="719.2" width="7.6" height="6.8" fill="#eeeeee"/><rect x="83.3" y="720.9" width="5.2" height="3.4" fill="#b6b6b6"/>
<rect x="82.1" y="742.3" width="7.6" height="6.8" fill="#eeeeee"/><rect x="83.3" y="744.0" width="5.2" height="3.4" fill="#b6b6b6"/>
<rect x="82.1" y="765.3" width="7.6" height="6.8" fill="#eeeeee"/><rect x="83.3" y="767.0" width="5.2" height="3.4" fill="#b6b6b6"/>
<rect x="82.1" y="788.4" width="7.6" height="6.8" fill="#eeeeee"/><rect x="83.3" y="790.1" width="5.2" height="3.4" fill="#b6b6b6"/>
<rect x="82.1" y="811.4" width="7.6" height="6.8" fill="#eeeeee"/><rect x="83.3" y="813.1" width="5.2" height="3.4" fill="#b6b6b6"/>
<rect x="82.1" y="834.5" width="7.6" height="6.8" fill="#eeeeee"/><rect x="83.3" y="836.2" width="5.2" height="3.4" fill="#b6b6b6"/>
<rect x="82.1" y="857.5" width="7.6" height="6.8" fill="#eeeeee"/><rect x="83.3" y="859.2" width="5.2" height="3.4" fill="#b6b6b6"/>
<rect x="82.1" y="880.5" width="7.6" height="6.8" fill="#eeeeee"/><rect x="83.3" y="882.2" width="5.2" height="3.4" fill="#b6b6b6"/>
<rect x="82.1" y="903.6" width="7.6" height="6.8" fill="#eeeeee"/><rect x="83.3" y="905.3" width="5.2" height="3.4" fill="#b6b6b6"/>
<rect x="82.1" y="926.6" width="7.6" height="6.8" fill="#eeeeee"/><rect x="83.3" y="928.3" width="5.2" height="3.4" fill="#b6b6b6"/>
<rect x="82.1" y="949.7" width="7.6" height="6.8" fill="#eeeeee"/><rect x="83.3" y="951.4" width="5.2" height="3.4" fill="#b6b6b6"/>
<rect x="82.1" y="972.7" width="7.6" height="6.8" fill="#eeeeee"/><rect x="83.3" y="974.4" width="5.2" height="3.4" fill="#b6b6b6"/>
<rect x="82.1" y="995.8" width="7.6" height="6.8" fill="#eeeeee"/><rect x="83.3" y="997.5" width="5.2" height="3.4" fill="#b6b6b6"/>
<rect x="82.1" y="1018.8" width="7.6" height="6.8" fill="#eeeeee"/><rect x="83.3" y="1020.5" width="5.2" height="3.4" fill="#b6b6b6"/>
<rect x="82.1" y="1041.9" width="7.6" height="6.8" fill="#eeeeee"/><rect x="83.3" y="1043.6" width="5.2" height="3.4" fill="#b6b6b6"/>
<rect x="82.1" y="1064.9" width="7.6" height="6.8" fill="#eeeeee"/><rect x="83.3" y="1066.6" width="5.2" height="3.4" fill="#b6b6b6"/>
<rect x="82.1" y="1088.0" width="7.6" height="6.8" fill="#eeeeee"/><rect x="83.3" y="1089.7" width="5.2" height="3.4" fill="#b6b6b6"/>
<rect x="82.1" y="1111.0" width="7.6" height="6.8" fill="#eeeeee"/><rect x="83.3" y="1112.7" width="5.2" height="3.4" fill="#b6b6b6"/>
<rect x="82.1" y="1134.1" width="7.6" height="6.8" fill="#eeeeee"/><rect x="83.3" y="1135.8" width="5.2" height="3.4" fill="#b6b6b6"/>
<rect x="82.1" y="1157.1" width="7.6" height="6.8" fill="#eeeeee"/><rect x="83.3" y="1158.8" width="5.2" height="3.4" fill="#b6b6b6"/>
<rect x="82.1" y="1180.2" width="7.6" height="6.8" fill="#eeeeee"/><rect x="83.3" y="1181.9" width="5.2" height="3.4" fill="#b6b6b6"/>
<rect x="82.1" y="1203.2" width="7.6" height="6.8" fill="#eeeeee"/><rect x="83.3" y="1204.9" width="5.2" height="3.4" fill="#b6b6b6"/>
<rect x="82.1" y="1226.2" width="7.6" height="6.8" fill="#eeeeee"/><rect x="83.3" y="1228.0" width="5.2" height="3.4" fill="#b6b6b6"/>
<rect x="82.1" y="1249.3" width="7.6" height="6.8" fill="#eeeeee"/><rect x="83.3" y="1251.0" width="5.2" height="3.4" fill="#b6b6b6"/>
<rect x="82.1" y="1272.3" width="7.6" height="6.8" fill="#eeeeee"/><rect x="83.3" y="1274.0" width="5.2" height="3.4" fill="#b6b6b6"/>
<rect x="82.1" y="1295.4" width="7.6" height="6.8" fill="#eeeeee"/><rect x="83.3" y="1297.1" width="5.2" height="3.4" fill="#b6b6b6"/>
<rect x="82.1" y="1318.4" width="7.6" height="6.8" fill="#eeeeee"/><rect x="83.3" y="1320.1" width="5.2" height="3.4" fill="#b6b6b6"/>
<rect x="82.1" y="1341.5" width="7.6" height="6.8" fill="#eeeeee"/><rect x="83.3" y="1343.2" width="5.2" height="3.4" fill="#b6b6b6"/>
<rect x="82.1" y="1364.5" width="7.6" height="6.8" fill="#eeeeee"/><rect x="83.3" y="1366.2" width="5.2" height="3.4" fill="#b6b6b6"/>
<rect x="82.1" y="1387.6" width="7.6" height="6.8" fill="#eeeeee"/><rect x="83.3" y="1389.3" width="5.2" height="3.4" fill="#b6b6b6"/>
<rect x="82.1" y="1410.6" width="7.6" height="6.8" fill="#eeeeee"/><rect x="83.3" y="1412.3" width="5.2" height="3.4" fill="#b6b6b6"/>
<rect x="82.1" y="1433.7" width="7.6" height="6.8" fill="#eeeeee"/><rect x="83.3" y="1435.4" width="5.2" height="3.4" fill="#b6b6b6"/>
<rect x="82.1" y="1456.7" width="7.6" height="6.8" fill="#eeeeee"/><rect x="83.3" y="1458.4" width="5.2" height="3.4" fill="#b6b6b6"/>
<rect x="82.1" y="1479.8" width="7.6" height="6.8" fill="#eeeeee"/><rect x="83.3" y="1481.5" width="5.2" height="3.4" fill="#b6b6b6"/>
<rect x="82.1" y="1502.8" width="7.6" height="6.8" fill="#eeeeee"/><rect x="83.3" y="1504.5" width="5.2" height="3.4" fill="#b6b6b6"/>
<rect x="82.1" y="1525.9" width="7.6" height="6.8" fill="#eeeeee"/><rect x="83.3" y="1527.6" width="5.2" height="3.4" fill="#b6b6b6"/>
<rect x="82.1" y="1548.9" width="7.6" height="6.8" fill="#eeeeee"/><rect x="83.3" y="1550.6" width="5.2" height="3.4" fill="#b6b6b6"/>
<rect x="82.1" y="1572.0" width="7.6" height="6.8" fill="#eeeeee"/><rect x="83.3" y="1573.7" width="5.2" height="3.4" fill="#b6b6b6"/>
<rect x="82.1" y="1595.0" width="7.6" height="6.8" fill="#eeeeee"/><rect x="83.3" y="1596.7" width="5.2" height="3.4" fill="#b6b6b6"/>
<rect x="82.1" y="1618.0" width="7.6" height="6.8" fill="#eeeeee"/><rect x="83.3" y="1619.7" width="5.2" height="3.4" fill="#b6b6b6"/>
<rect x="82.1" y="1641.1" width="7.6" height="6.8" fill="#eeeeee"/><rect x="83.3" y="1642.8" width="5.2" height="3.4" fill="#b6b6b6"/>
<rect x="82.1" y="1664.1" width="7.6" height="6.8" fill="#eeeeee"/><rect x="83.3" y="1665.8" width="5.2" height="3.4" fill="#b6b6b6"/>
<rect x="82.1" y="1687.2" width="7.6" height="6.8" fill="#eeeeee"/><rect x="83.3" y="1688.9" width="5.2" height="3.4" fill="#b6b6b6"/>
<rect x="82.1" y="1710.2" width="7.6" height="6.8" fill="#eeeeee"/><rect x="83.3" y="1711.9" width="5.2" height="3.4" fill="#b6b6b6"/>
<rect x="82.1" y="1733.3" width="7.6" height="6.8" fill="#eeeeee"/><rect x="83.3" y="1735.0" width="5.2" height="3.4" fill="#b6b6b6"/>
<rect x="82.1" y="1756.3" width="7.6" height="6.8" fill="#eeeeee"/><rect x="83.3" y="1758.0" width="5.2" height="3.4" fill="#b6b6b6"/>
<rect x="82.1" y="1779.4" width="7.6" height="6.8" fill="#eeeeee"/><rect x="83.3" y="1781.1" width="5.2" height="3.4" fill="#b6b6b6"/>
<rect x="82.1" y="1802.4" width="7.6" height="6.8" fill="#eeeeee"/><rect x="83.3" y="1804.1" width="5.2" height="3.4" fill="#b6b6b6"/>
<rect x="82.1" y="1825.5" width="7.6" height="6.8" fill="#eeeeee"/><rect x="83.3" y="1827.2" width="5.2" height="3.4" fill="#b6b6b6"/>
<rect x="82.1" y="1848.5" width="7.6" height="6.8" fill="#eeeeee"/><rect x="83.3" y="1850.2" width="5.2" height="3.4" fill="#b6b6b6"/>
<rect x="82.1" y="1871.6" width="7.6" height="6.8" fill="#eeeeee"/><rect x="83.3" y="1873.3" width="5.2" height="3.4" fill="#b6b6b6"/>
<rect x="82.1" y="1894.6" width="7.6" height="6.8" fill="#eeeeee"/><rect x="83.3" y="1896.3" width="5.2" height="3.4" fill="#b6b6b6"/>
<rect x="82.1" y="1917.7" width="7.6" height="6.8" fill="#eeeeee"/><rect x="83.3" y="1919.4" width="5.2" height="3.4" fill="#b6b6b6"/>
<rect x="82.1" y="1940.7" width="7.6" height="6.8" fill="#eeeeee"/><rect x="83.3" y="1942.4" width="5.2" height="3.4" fill="#b6b6b6"/>
<rect x="82.1" y="1963.8" width="7.6" height="6.8" fill="#eeeeee"/><rect x="83.3" y="1965.5" width="5.2" height="3.4" fill="#b6b6b6"/>
<rect x="82.1" y="1986.8" width="7.6" height="6.8" fill="#eeeeee"/><rect x="83.3" y="1988.5" width="5.2" height="3.4" fill="#b6b6b6"/>
<rect x="82.1" y="2009.8" width="7.6" height="6.8" fill="#eeeeee"/><rect x="83.3" y="2011.5" width="5.2" height="3.4" fill="#b6b6b6"/>
<rect x="82.1" y="2032.9" width="7.6" height="6.8" fill="#eeeeee"/><rect x="83.3" y="2034.6" width="5.2" height="3.4" fill="#b6b6b6"/>
<rect x="82.1" y="2055.9" width="7.6" height="6.8" fill="#eeeeee"/><rect x="83.3" y="2057.6" width="5.2" height="3.4" fill="#b6b6b6"/>
<rect x="82.1" y="2079.0" width="7.6" height="6.8" fill="#eeeeee"/><rect x="83.3" y="2080.7" width="5.2" height="3.4" fill="#b6b6b6"/>
<rect x="82.1" y="2102.0" width="7.6" height="6.8" fill="#eeeeee"/><rect x="83.3" y="2103.7" width="5.2" height="3.4" fill="#b6b6b6"/>
<rect x="82.1" y="2125.1" width="7.6" height="6.8" fill="#eeeeee"/><rect x="83.3" y="2126.8" width="5.2" height="3.4" fill="#b6b6b6"/>
<rect x="82.1" y="2148.1" width="7.6" height="6.8" fill="#eeeeee"/><rect x="83.3" y="2149.8" width="5.2" height="3.4" fill="#b6b6b6"/>
<rect x="82.1" y="2171.2" width="7.6" height="6.8" fill="#eeeeee"/><rect x="83.3" y="2172.9" width="5.2" height="3.4" fill="#b6b6b6"/>
<rect x="82.1" y="2194.2" width="7.6" height="6.8" fill="#eeeeee"/><rect x="83.3" y="2195.9" width="5.2" height="3.4" fill="#b6b6b6"/>
<rect x="82.1" y="2217.3" width="7.6" height="6.8" fill="#eeeeee"/><rect x="83.3" y="2219.0" width="5.2" height="3.4" fill="#b6b6b6"/>
</g>
<rect x="81.9" y="2240.6" width="1650.1" height="10" fill="#cdcdcd"/>
<rect x="81.9" y="2243.1" width="1650.1" height="4.9" fill="#7f7f7f"/>
<rect x="1724.0" y="2245" width="8" height="21.6" fill="#b0b0b0"/>
<rect x="1726.3" y="2245" width="3.4" height="20.6" fill="#333"/>
<rect x="1574.7" y="2245" width="8" height="11.0" fill="#b0b0b0"/>
<rect x="1577.0" y="2245" width="3.4" height="10.0" fill="#333"/>
<rect x="1425.4" y="2245" width="8" height="21.6" fill="#b0b0b0"/>
<rect x="1427.7" y="2245" width="3.4" height="20.6" fill="#333"/>
<rect x="1276.2" y="2245" width="8" height="11.0" fill="#b0b0b0"/>
<rect x="1278.5" y="2245" width="3.4" height="10.0" fill="#333"/>
<rect x="1126.9" y="2245" width="8" height="21.6" fill="#b0b0b0"/>
<rect x="1129.2" y="2245" width="3.4" height="20.6" fill="#333"/>
<rect x="977.6" y="2245" width="8" height="11.0" fill="#b0b0b0"/>
<rect x="979.9" y="2245" width="3.4" height="10.0" fill="#333"/>
<rect x="828.3" y="2245" width="8" height="21.6" fill="#b0b0b0"/>
<rect x="830.6" y="2245" width="3.4" height="20.6" fill="#333"/>
<rect x="679.0" y="2245" width="8" height="11.0" fill="#b0b0b0"/>
<rect x="681.3" y="2245" width="3.4" height="10.0" fill="#333"/>
<rect x="529.8" y="2245" width="8" height="21.6" fill="#b0b0b0"/>
<rect x="532.1" y="2245" width="3.4" height="20.6" fill="#333"/>
<rect x="380.5" y="2245" width="8" height="11.0" fill="#b0b0b0"/>
<rect x="382.8" y="2245" width="3.4" height="10.0" fill="#333"/>
<rect x="231.2" y="2245" width="8" height="21.6" fill="#b0b0b0"/>
<rect x="233.5" y="2245" width="3.4" height="20.6" fill="#333"/>
<rect x="81.9" y="2245" width="8" height="21.6" fill="#b0b0b0"/>
<rect x="84.2" y="2245" width="3.4" height="20.6" fill="#333"/>
<rect x="1573.8" y="253.9" width="158.2" height="3" fill="#7a7adc"/>
<rect x="1573.8" y="272.9" width="158.2" height="3" fill="#c2c2f4"/>
<rect x="427.8" y="504.9" width="919.4" height="3" fill="#7a7adc"/>
<rect x="427.8" y="523.9" width="919.4" height="3" fill="#c2c2f4"/>
<rect x="340.9" y="797.0" width="957.1" height="3" fill="#7a7adc"/>
<rect x="340.9" y="815.8" width="957.1" height="3" fill="#c2c2f4"/>
<rect x="215.1" y="1189.8" width="932.7" height="3" fill="#7a7adc"/>
<rect x="215.1" y="1212.0" width="932.7" height="3" fill="#c2c2f4"/>
<rect x="387.1" y="1588.0" width="1009.4" height="3" fill="#7a7adc"/>
<rect x="387.1" y="1609.9" width="1009.4" height="3" fill="#c2c2f4"/>
<rect x="163.5" y="1642.5" width="821.2" height="3" fill="#7a7adc"/>
<rect x="163.5" y="1661.7" width="821.2" height="3" fill="#c2c2f4"/>
<g fill="none" stroke="#141414" stroke-width="3.8">
<path d="M1680.2,264.9 C1680.2,195.4 1684.3,99.5 1730.5,99.5"/>
<path d="M1680.2,264.9 C1680.2,334.5 1684.3,430.5 1730.5,430.5"/>
<path d="M951.7,515.9 C951.7,410.5 1010.0,264.9 1680.2,264.9"/>
<path d="M951.7,515.9 C951.7,620.2 1014.0,764.3 1730.5,764.3"/>
<path d="M878.8,807.9 C878.8,685.3 884.6,515.9 951.7,515.9"/>
<path d="M878.8,807.9 C878.8,930.2 946.9,1099.0 1730.5,1099.0"/>
<path d="M925.6,1600.5 C925.6,1529.9 990.0,1432.5 1730.5,1432.5"/>
<path d="M925.6,1600.5 C925.6,1670.0 990.0,1766.0 1730.5,1766.0"/>
<path d="M763.0,1202.4 C763.0,1036.7 772.3,807.9 878.8,807.9"/>
<path d="M763.0,1202.4 C763.0,1369.6 776.0,1600.5 925.6,1600.5"/>
<path d="M653.2,1653.6 C653.2,1464.1 662.0,1202.4 763.0,1202.4"/>
<path d="M653.2,1653.6 C653.2,1841.1 739.4,2100.0 1730.5,2100.0"/>
</g>
<rect x="1575.2" y="258.4" width="155.2" height="13.0" fill="#1e90ff" stroke="#0008ff" stroke-width="3"/>
<rect x="429.3" y="509.4" width="916.4" height="13.0" fill="#1e90ff" stroke="#0008ff" stroke-width="3"/>
<rect x="342.4" y="801.5" width="954.1" height="12.8" fill="#1e90ff" stroke="#0008ff" stroke-width="3"/>
<rect x="216.6" y="1194.3" width="929.7" height="16.2" fill="#1e90ff" stroke="#0008ff" stroke-width="3"/>
<rect x="388.6" y="1592.5" width="1006.4" height="15.9" fill="#1e90ff" stroke="#0008ff" stroke-width="3"/>
<rect x="165.0" y="1647.0" width="818.2" height="13.2" fill="#1e90ff" stroke="#0008ff" stroke-width="3"/>
<text id="t0" class="tip" x="1777.9" y="118.4" textLength="470.6" lengthAdjust="spacingAndGlyphs">B-type CMS line (B)</text>
<text id="t1" class="tip" x="1776.2" y="455.2" textLength="244.8" lengthAdjust="spacingAndGlyphs">GU985444</text>
<text id="t2" class="tip" x="1774.0" y="785.2" textLength="234.2" lengthAdjust="spacingAndGlyphs">AP008982</text>
<text id="t3" class="tip" x="1777.3" y="1119.8" textLength="237.1" lengthAdjust="spacingAndGlyphs">EU534409</text>
<text id="t4" class="tip" x="1782.3" y="1449.8" textLength="443.6" lengthAdjust="spacingAndGlyphs">Yanshi 9 hao (YS9)</text>
<text id="t5" class="tip" x="1781.4" y="1784.3" textLength="236.9" lengthAdjust="spacingAndGlyphs">AP013106</text>
<text id="t6" class="tip" x="1785.6" y="2114.4" textLength="235.1" lengthAdjust="spacingAndGlyphs">AP013107</text>
<text id="a0" class="age" x="1533.4" y="224.6" textLength="113.4" lengthAdjust="spacingAndGlyphs">0.16</text>
<text id="a1" class="age" x="804.5" y="474.9" textLength="108.5" lengthAdjust="spacingAndGlyphs">2.60</text>
<text id="a2" class="age" x="727.6" y="762.0" textLength="111.3" lengthAdjust="spacingAndGlyphs">2.84</text>
<text id="a3" class="age" x="613.0" y="1146.0" textLength="110.2" lengthAdjust="spacingAndGlyphs">3.24</text>
<text id="a4" class="age" x="835.3" y="1511.2" textLength="108.8" lengthAdjust="spacingAndGlyphs">2.69</text>
<text id="a5" class="age" x="478.6" y="1762.0" textLength="111.4" lengthAdjust="spacingAndGlyphs">3.60</text>
<text id="x0" class="ax" x="40.5" y="2348.8" textLength="107.5" lengthAdjust="spacingAndGlyphs">Myr</text>
<text id="x1" class="ax" x="212.5" y="2348.8" textLength="35.9" lengthAdjust="spacingAndGlyphs">5</text>
<text id="x2" class="ax" x="512.3" y="2348.8" textLength="35.9" lengthAdjust="spacingAndGlyphs">4</text>
<text id="x3" class="ax" x="810.4" y="2348.8" textLength="35.9" lengthAdjust="spacingAndGlyphs">3</text>
<text id="x4" class="ax" x="1108.8" y="2348.8" textLength="35.9" lengthAdjust="spacingAndGlyphs">2</text>
<text id="x5" class="ax" x="1405.3" y="2348.8" textLength="35.9" lengthAdjust="spacingAndGlyphs">1</text>
<text id="x6" class="ax" x="1714.9" y="2348.8" textLength="35.9" lengthAdjust="spacingAndGlyphs">0</text>
</svg></div></body></html>
